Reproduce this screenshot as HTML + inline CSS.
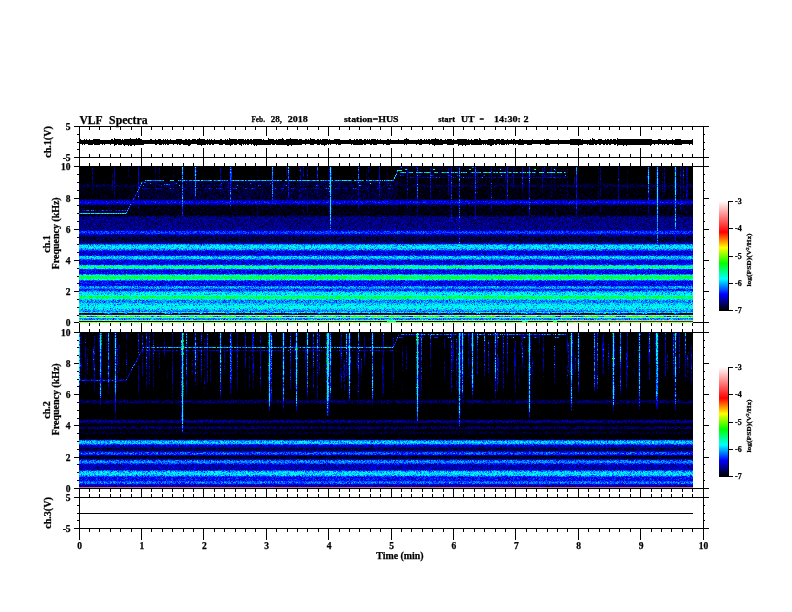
<!DOCTYPE html>
<html lang="en"><head><meta charset="utf-8"><title>VLF Spectra</title>
<style>html,body{margin:0;padding:0;background:#fff}svg{display:block}text{font-family:"Liberation Serif",serif;font-weight:bold;fill:#000;stroke:#000;stroke-width:.25px}</style>
</head><body>
<svg width="792" height="612" viewBox="0 0 792 612">
<defs>
<filter id="f1" filterUnits="userSpaceOnUse" x="79" y="166" width="614" height="157" color-interpolation-filters="sRGB">
<feTurbulence type="fractalNoise" baseFrequency="2.31 2.73" numOctaves="1" seed="3" result="t"/>
<feColorMatrix in="t" type="matrix" values="1 0 0 0 0 1 0 0 0 0 1 0 0 0 0 0 0 0 0 1" result="n0"/>
<feComponentTransfer in="n0" result="n"><feFuncR type="table" tableValues="0 0.027 0.06 0.091 0.122 0.151 0.18 0.208 0.235 0.261 0.286 0.31 0.334 0.357 0.379 0.401 0.422 0.442 0.462 0.481 0.5 0.518 0.536 0.553 0.57 0.586 0.602 0.617 0.633 0.647 0.662 0.676 0.689 0.703 0.716 0.729 0.741 0.753 0.765 0.777 0.788"/><feFuncG type="table" tableValues="0 0.027 0.06 0.091 0.122 0.151 0.18 0.208 0.235 0.261 0.286 0.31 0.334 0.357 0.379 0.401 0.422 0.442 0.462 0.481 0.5 0.518 0.536 0.553 0.57 0.586 0.602 0.617 0.633 0.647 0.662 0.676 0.689 0.703 0.716 0.729 0.741 0.753 0.765 0.777 0.788"/><feFuncB type="table" tableValues="0 0.027 0.06 0.091 0.122 0.151 0.18 0.208 0.235 0.261 0.286 0.31 0.334 0.357 0.379 0.401 0.422 0.442 0.462 0.481 0.5 0.518 0.536 0.553 0.57 0.586 0.602 0.617 0.633 0.647 0.662 0.676 0.689 0.703 0.716 0.729 0.741 0.753 0.765 0.777 0.788"/></feComponentTransfer>
<feComposite in="SourceGraphic" in2="n" operator="arithmetic" k1="0.4857" k2="0.7571" k3="0.1166" k4="-0.05829" result="v"/>
<feComponentTransfer in="v">
<feFuncR type="table" tableValues="0 0 0 0 0 0 1 1 1 1"/>
<feFuncG type="table" tableValues="0 0 0 0 1 1 1 0 .5 1"/>
<feFuncB type="table" tableValues="0 0 0 1 1 0 0 0 .5 1"/>
</feComponentTransfer>
<feGaussianBlur stdDeviation="0.55"/>
</filter>
<filter id="f2" filterUnits="userSpaceOnUse" x="79" y="332" width="614" height="157" color-interpolation-filters="sRGB">
<feTurbulence type="fractalNoise" baseFrequency="2.31 2.73" numOctaves="1" seed="11" result="t"/>
<feColorMatrix in="t" type="matrix" values="1 0 0 0 0 1 0 0 0 0 1 0 0 0 0 0 0 0 0 1" result="n0"/>
<feComponentTransfer in="n0" result="n"><feFuncR type="table" tableValues="0 0.027 0.06 0.091 0.122 0.151 0.18 0.208 0.235 0.261 0.286 0.31 0.334 0.357 0.379 0.401 0.422 0.442 0.462 0.481 0.5 0.518 0.536 0.553 0.57 0.586 0.602 0.617 0.633 0.647 0.662 0.676 0.689 0.703 0.716 0.729 0.741 0.753 0.765 0.777 0.788"/><feFuncG type="table" tableValues="0 0.027 0.06 0.091 0.122 0.151 0.18 0.208 0.235 0.261 0.286 0.31 0.334 0.357 0.379 0.401 0.422 0.442 0.462 0.481 0.5 0.518 0.536 0.553 0.57 0.586 0.602 0.617 0.633 0.647 0.662 0.676 0.689 0.703 0.716 0.729 0.741 0.753 0.765 0.777 0.788"/><feFuncB type="table" tableValues="0 0.027 0.06 0.091 0.122 0.151 0.18 0.208 0.235 0.261 0.286 0.31 0.334 0.357 0.379 0.401 0.422 0.442 0.462 0.481 0.5 0.518 0.536 0.553 0.57 0.586 0.602 0.617 0.633 0.647 0.662 0.676 0.689 0.703 0.716 0.729 0.741 0.753 0.765 0.777 0.788"/></feComponentTransfer>
<feComposite in="SourceGraphic" in2="n" operator="arithmetic" k1="0.4857" k2="0.7571" k3="0.1166" k4="-0.05829" result="v"/>
<feComponentTransfer in="v">
<feFuncR type="table" tableValues="0 0 0 0 0 0 1 1 1 1"/>
<feFuncG type="table" tableValues="0 0 0 0 1 1 1 0 .5 1"/>
<feFuncB type="table" tableValues="0 0 0 1 1 0 0 0 .5 1"/>
</feComponentTransfer>
<feGaussianBlur stdDeviation="0.55"/>
</filter>
<linearGradient id="cb" x1="0" y1="1" x2="0" y2="0">
<stop offset="0.0000" stop-color="#000"/>
<stop offset="0.1429" stop-color="#00f"/>
<stop offset="0.2857" stop-color="#0ff"/>
<stop offset="0.4286" stop-color="#0f0"/>
<stop offset="0.5714" stop-color="#ff0"/>
<stop offset="0.7143" stop-color="#f00"/>
<stop offset="0.8571" stop-color="#ff8080"/>
<stop offset="1.0000" stop-color="#fff"/>
</linearGradient>
</defs>
<rect width="792" height="612" fill="#fff"/>
<rect x="79" y="166" width="614" height="157" fill="#000"/><rect x="79" y="332" width="614" height="157" fill="#000"/>
<g filter="url(#f1)">
<rect x="79" y="166" width="614" height="1" fill="#313131"/>
<rect x="79" y="167" width="614" height="1" fill="#313131"/>
<rect x="79" y="168" width="614" height="1" fill="#313131"/>
<rect x="79" y="169" width="614" height="1" fill="#313131"/>
<rect x="79" y="170" width="614" height="1" fill="#313131"/>
<rect x="79" y="171" width="614" height="1" fill="#313131"/>
<rect x="79" y="172" width="614" height="1" fill="#313131"/>
<rect x="79" y="173" width="614" height="1" fill="#313131"/>
<rect x="79" y="174" width="614" height="1" fill="#313131"/>
<rect x="79" y="175" width="614" height="1" fill="#313131"/>
<rect x="79" y="176" width="614" height="1" fill="#363636"/>
<rect x="79" y="177" width="614" height="1" fill="#363636"/>
<rect x="79" y="178" width="614" height="1" fill="#313131"/>
<rect x="79" y="179" width="614" height="1" fill="#323232"/>
<rect x="79" y="180" width="614" height="1" fill="#323232"/>
<rect x="79" y="181" width="614" height="1" fill="#333333"/>
<rect x="79" y="182" width="614" height="1" fill="#343434"/>
<rect x="79" y="183" width="614" height="1" fill="#393939"/>
<rect x="79" y="184" width="614" height="1" fill="#3d3d3d"/>
<rect x="79" y="185" width="614" height="1" fill="#404040"/>
<rect x="79" y="186" width="614" height="1" fill="#3f3f3f"/>
<rect x="79" y="187" width="614" height="1" fill="#3b3b3b"/>
<rect x="79" y="188" width="614" height="1" fill="#3a3a3a"/>
<rect x="79" y="189" width="614" height="1" fill="#3a3a3a"/>
<rect x="79" y="190" width="614" height="1" fill="#393939"/>
<rect x="79" y="191" width="614" height="1" fill="#393939"/>
<rect x="79" y="192" width="614" height="1" fill="#393939"/>
<rect x="79" y="193" width="614" height="1" fill="#393939"/>
<rect x="79" y="194" width="614" height="1" fill="#393939"/>
<rect x="79" y="195" width="614" height="1" fill="#393939"/>
<rect x="79" y="196" width="614" height="1" fill="#393939"/>
<rect x="79" y="197" width="614" height="1" fill="#393939"/>
<rect x="79" y="198" width="614" height="1" fill="#393939"/>
<rect x="79" y="199" width="614" height="1" fill="#404040"/>
<rect x="79" y="200" width="614" height="1" fill="#4c4c4c"/>
<rect x="79" y="201" width="614" height="1" fill="#515151"/>
<rect x="79" y="202" width="614" height="1" fill="#545454"/>
<rect x="79" y="203" width="614" height="1" fill="#515151"/>
<rect x="79" y="204" width="614" height="1" fill="#484848"/>
<rect x="79" y="205" width="614" height="1" fill="#3e3e3e"/>
<rect x="79" y="206" width="614" height="1" fill="#3a3a3a"/>
<rect x="79" y="207" width="614" height="1" fill="#3a3a3a"/>
<rect x="79" y="208" width="614" height="1" fill="#3a3a3a"/>
<rect x="79" y="209" width="614" height="1" fill="#3a3a3a"/>
<rect x="79" y="210" width="614" height="1" fill="#3a3a3a"/>
<rect x="79" y="211" width="614" height="1" fill="#3a3a3a"/>
<rect x="79" y="212" width="614" height="1" fill="#3a3a3a"/>
<rect x="79" y="213" width="614" height="1" fill="#3a3a3a"/>
<rect x="79" y="214" width="614" height="1" fill="#3a3a3a"/>
<rect x="79" y="215" width="614" height="1" fill="#3d3d3d"/>
<rect x="79" y="216" width="614" height="1" fill="#424242"/>
<rect x="79" y="217" width="614" height="1" fill="#474747"/>
<rect x="79" y="218" width="614" height="1" fill="#474747"/>
<rect x="79" y="219" width="614" height="1" fill="#474747"/>
<rect x="79" y="220" width="614" height="1" fill="#474747"/>
<rect x="79" y="221" width="614" height="1" fill="#474747"/>
<rect x="79" y="222" width="614" height="1" fill="#474747"/>
<rect x="79" y="223" width="614" height="1" fill="#474747"/>
<rect x="79" y="224" width="614" height="1" fill="#474747"/>
<rect x="79" y="225" width="614" height="1" fill="#474747"/>
<rect x="79" y="226" width="614" height="1" fill="#474747"/>
<rect x="79" y="227" width="614" height="1" fill="#474747"/>
<rect x="79" y="228" width="614" height="1" fill="#484848"/>
<rect x="79" y="229" width="614" height="1" fill="#484848"/>
<rect x="79" y="230" width="614" height="1" fill="#4f4f4f"/>
<rect x="79" y="231" width="614" height="1" fill="#595959"/>
<rect x="79" y="232" width="614" height="1" fill="#5b5b5b"/>
<rect x="79" y="233" width="614" height="1" fill="#595959"/>
<rect x="79" y="234" width="614" height="1" fill="#4f4f4f"/>
<rect x="79" y="235" width="614" height="1" fill="#484848"/>
<rect x="79" y="236" width="614" height="1" fill="#434343"/>
<rect x="79" y="237" width="614" height="1" fill="#404040"/>
<rect x="79" y="238" width="614" height="1" fill="#404040"/>
<rect x="79" y="239" width="614" height="1" fill="#404040"/>
<rect x="79" y="240" width="614" height="1" fill="#404040"/>
<rect x="79" y="241" width="614" height="1" fill="#404040"/>
<rect x="79" y="242" width="614" height="1" fill="#454545"/>
<rect x="79" y="243" width="614" height="1" fill="#515151"/>
<rect x="79" y="244" width="614" height="1" fill="#636363"/>
<rect x="79" y="245" width="614" height="1" fill="#6d6d6d"/>
<rect x="79" y="246" width="614" height="1" fill="#6f6f6f"/>
<rect x="79" y="247" width="614" height="1" fill="#6f6f6f"/>
<rect x="79" y="248" width="614" height="1" fill="#6b6b6b"/>
<rect x="79" y="249" width="614" height="1" fill="#656565"/>
<rect x="79" y="250" width="614" height="1" fill="#5b5b5b"/>
<rect x="79" y="251" width="614" height="1" fill="#515151"/>
<rect x="79" y="252" width="614" height="1" fill="#4f4f4f"/>
<rect x="79" y="253" width="614" height="1" fill="#505050"/>
<rect x="79" y="254" width="614" height="1" fill="#515151"/>
<rect x="79" y="255" width="614" height="1" fill="#595959"/>
<rect x="79" y="256" width="614" height="1" fill="#696969"/>
<rect x="79" y="257" width="614" height="1" fill="#6d6d6d"/>
<rect x="79" y="258" width="614" height="1" fill="#6a6a6a"/>
<rect x="79" y="259" width="614" height="1" fill="#5e5e5e"/>
<rect x="79" y="260" width="614" height="1" fill="#545454"/>
<rect x="79" y="261" width="614" height="1" fill="#515151"/>
<rect x="79" y="262" width="614" height="1" fill="#515151"/>
<rect x="79" y="263" width="614" height="1" fill="#515151"/>
<rect x="79" y="264" width="614" height="1" fill="#565656"/>
<rect x="79" y="265" width="614" height="1" fill="#6a6a6a"/>
<rect x="79" y="266" width="614" height="1" fill="#7d7d7d"/>
<rect x="79" y="267" width="614" height="1" fill="#7f7f7f"/>
<rect x="79" y="268" width="614" height="1" fill="#727272"/>
<rect x="79" y="269" width="614" height="1" fill="#5b5b5b"/>
<rect x="79" y="270" width="614" height="1" fill="#545454"/>
<rect x="79" y="271" width="614" height="1" fill="#545454"/>
<rect x="79" y="272" width="614" height="1" fill="#545454"/>
<rect x="79" y="273" width="614" height="1" fill="#545454"/>
<rect x="79" y="274" width="614" height="1" fill="#656565"/>
<rect x="79" y="275" width="614" height="1" fill="#797979"/>
<rect x="79" y="276" width="614" height="1" fill="#858585"/>
<rect x="79" y="277" width="614" height="1" fill="#878787"/>
<rect x="79" y="278" width="614" height="1" fill="#858585"/>
<rect x="79" y="279" width="614" height="1" fill="#747474"/>
<rect x="79" y="280" width="614" height="1" fill="#606060"/>
<rect x="79" y="281" width="614" height="1" fill="#545454"/>
<rect x="79" y="282" width="614" height="1" fill="#545454"/>
<rect x="79" y="283" width="614" height="1" fill="#545454"/>
<rect x="79" y="284" width="614" height="1" fill="#545454"/>
<rect x="79" y="285" width="614" height="1" fill="#545454"/>
<rect x="79" y="286" width="614" height="1" fill="#636363"/>
<rect x="79" y="287" width="614" height="1" fill="#686868"/>
<rect x="79" y="288" width="614" height="1" fill="#636363"/>
<rect x="79" y="289" width="614" height="1" fill="#595959"/>
<rect x="79" y="290" width="614" height="1" fill="#5b5b5b"/>
<rect x="79" y="291" width="614" height="1" fill="#656565"/>
<rect x="79" y="292" width="614" height="1" fill="#6d6d6d"/>
<rect x="79" y="293" width="614" height="1" fill="#6f6f6f"/>
<rect x="79" y="294" width="614" height="1" fill="#6f6f6f"/>
<rect x="79" y="295" width="614" height="1" fill="#747474"/>
<rect x="79" y="296" width="614" height="1" fill="#838383"/>
<rect x="79" y="297" width="614" height="1" fill="#868686"/>
<rect x="79" y="298" width="614" height="1" fill="#818181"/>
<rect x="79" y="299" width="614" height="1" fill="#6d6d6d"/>
<rect x="79" y="300" width="614" height="1" fill="#646464"/>
<rect x="79" y="301" width="614" height="1" fill="#646464"/>
<rect x="79" y="302" width="614" height="1" fill="#646464"/>
<rect x="79" y="303" width="614" height="1" fill="#6a6a6a"/>
<rect x="79" y="304" width="614" height="1" fill="#6d6d6d"/>
<rect x="79" y="305" width="614" height="1" fill="#707070"/>
<rect x="79" y="306" width="614" height="1" fill="#737373"/>
<rect x="79" y="307" width="614" height="1" fill="#727272"/>
<rect x="79" y="308" width="614" height="1" fill="#707070"/>
<rect x="79" y="309" width="614" height="1" fill="#6a6a6a"/>
<rect x="79" y="310" width="614" height="1" fill="#676767"/>
<rect x="79" y="311" width="614" height="1" fill="#636363"/>
<rect x="79" y="312" width="614" height="1" fill="#6f6f6f"/>
<rect x="79" y="313" width="614" height="1" fill="#393939"/>
<rect x="79" y="314" width="614" height="1" fill="#515151"/>
<rect x="79" y="315" width="614" height="1" fill="#999999"/>
<rect x="79" y="316" width="614" height="1" fill="#606060"/>
<rect x="79" y="317" width="614" height="1" fill="#979797"/>
<rect x="79" y="318" width="614" height="1" fill="#656565"/>
<rect x="79" y="319" width="614" height="1" fill="#656565"/>
<rect x="79" y="320" width="614" height="1" fill="#929292"/>
<rect x="79" y="321" width="614" height="1" fill="#1b1b1b"/>
<rect x="79" y="322" width="614" height="1" fill="#979797"/>
<g fill="none" stroke-width="1" shape-rendering="crispEdges" style="mix-blend-mode:lighten"><path d="M128.5 190v1M181.5 206v1M183.5 179v1M183.5 216v1M196.5 178v1M229.5 180v1M229.5 202v1M231.5 199v1M257.5 221v1M288.5 205v1M299.5 211v1M299.5 213v2M299.5 217v1M299.5 219v1M317.5 200v1M331.5 225v1M358.5 214v1M368.5 222v1M413.5 194v1M430.5 209v1M448.5 220v1M459.5 293v1M475.5 233v2M491.5 213v1M491.5 215v1M513.5 203v1M522.5 212v2M522.5 215v1M551.5 198v1M574.5 210v1M598.5 213v1M598.5 216v1M598.5 219v1M600.5 226v1M627.5 204v1M627.5 222v1M647.5 187v1M647.5 195v2M649.5 203v1M649.5 205v1M649.5 207v2M649.5 211v1M656.5 242v1M658.5 243v1M658.5 245v1M658.5 248v1M664.5 195v2M674.5 231v1M676.5 237v1M680.5 211v1M686.5 222v1M686.5 224v1M687.5 206v1" stroke="#2a2a2a"/>
<path d="M114.5 201v1M128.5 183v1M128.5 187v1M128.5 189v1M128.5 191v1M128.5 193v1M128.5 196v1M138.5 213v1M138.5 215v1M181.5 170v1M181.5 179v1M181.5 210v2M181.5 213v1M181.5 222v1M183.5 199v1M183.5 206v2M194.5 177v1M196.5 176v1M228.5 207v4M229.5 176v2M230.5 211v2M231.5 205v1M271.5 170v1M271.5 177v1M271.5 200v1M273.5 170v1M273.5 173v1M273.5 200v1M286.5 199v1M286.5 203v1M286.5 205v2M299.5 174v1M299.5 178v1M299.5 208v1M299.5 210v1M299.5 220v1M303.5 217v3M307.5 220v1M307.5 227v1M317.5 199v1M329.5 220v1M329.5 227v1M329.5 230v1M329.5 234v2M331.5 223v1M331.5 233v1M358.5 213v1M368.5 218v1M368.5 221v1M413.5 186v1M417.5 224v1M430.5 206v1M430.5 208v1M439.5 189v1M439.5 192v1M439.5 195v1M439.5 207v1M439.5 209v1M448.5 210v1M448.5 221v1M451.5 246v1M459.5 288v1M459.5 290v1M498.5 166v1M498.5 187v1M505.5 187v1M505.5 191v1M505.5 200v1M507.5 210v1M507.5 212v1M513.5 194v1M513.5 201v1M522.5 211v1M529.5 230v1M529.5 234v1M542.5 195v2M544.5 189v1M555.5 194v1M555.5 223v1M567.5 203v1M574.5 190v2M574.5 213v1M598.5 211v2M598.5 220v1M600.5 221v3M600.5 225v1M618.5 205v1M627.5 168v1M627.5 170v1M627.5 206v2M627.5 210v1M647.5 184v1M647.5 190v1M647.5 200v1M647.5 207v1M649.5 191v2M649.5 194v1M649.5 197v1M649.5 199v2M656.5 205v1M656.5 237v1M656.5 244v1M658.5 214v1M658.5 247v1M658.5 251v1M662.5 216v2M674.5 232v1M676.5 201v1M676.5 205v2M676.5 230v1M676.5 232v1M686.5 219v2M687.5 209v1M687.5 212v1" stroke="#2f2f2f"/>
<path d="M92.5 191v1M92.5 193v1M112.5 172v1M112.5 194v1M128.5 179v1M128.5 184v2M128.5 188v1M138.5 212v1M159.5 179v1M173.5 179v1M181.5 202v1M181.5 208v1M181.5 212v1M182.5 230v2M183.5 170v1M183.5 177v1M183.5 208v1M183.5 212v1M183.5 215v1M183.5 222v1M194.5 173v1M194.5 178v1M196.5 173v1M228.5 177v1M228.5 203v1M228.5 206v1M229.5 167v2M229.5 170v2M229.5 175v1M229.5 179v1M229.5 201v1M231.5 201v1M257.5 175v1M257.5 218v3M271.5 179v1M273.5 166v1M273.5 178v1M273.5 199v1M286.5 202v1M286.5 204v1M288.5 204v1M299.5 175v1M299.5 177v1M299.5 179v1M299.5 204v1M299.5 207v1M299.5 209v1M300.5 202v2M303.5 214v1M307.5 199v1M307.5 219v1M307.5 222v1M329.5 223v3M331.5 226v1M331.5 229v4M331.5 234v1M339.5 166v2M339.5 169v1M339.5 171v1M339.5 199v1M358.5 211v1M366.5 173v1M368.5 209v1M368.5 213v1M368.5 219v2M387.5 166v2M407.5 211v1M407.5 213v1M413.5 189v1M413.5 193v1M417.5 207v1M417.5 216v1M417.5 218v1M417.5 220v1M417.5 222v1M430.5 199v1M430.5 201v1M430.5 203v1M430.5 207v1M439.5 184v1M439.5 186v1M439.5 188v1M439.5 196v1M439.5 201v1M439.5 203v1M439.5 210v2M448.5 197v1M448.5 202v1M448.5 207v3M448.5 212v1M448.5 214v2M448.5 217v1M451.5 239v1M451.5 242v1M451.5 244v1M459.5 287v1M459.5 291v1M475.5 235v1M477.5 195v2M498.5 188v1M500.5 193v1M505.5 185v1M505.5 188v1M505.5 199v1M507.5 207v1M507.5 211v1M513.5 197v1M513.5 200v1M513.5 202v1M522.5 202v1M522.5 210v1M524.5 185v3M529.5 222v1M529.5 226v1M529.5 229v1M529.5 233v1M529.5 235v1M542.5 194v1M542.5 197v1M544.5 185v2M544.5 190v1M551.5 197v1M555.5 184v1M555.5 186v1M555.5 189v2M555.5 192v1M555.5 205v1M567.5 198v1M574.5 189v1M574.5 194v1M574.5 196v2M574.5 212v1M576.5 218v1M598.5 169v1M598.5 206v2M598.5 209v2M598.5 214v2M598.5 217v1M618.5 204v1M627.5 169v1M627.5 172v1M627.5 177v1M627.5 190v1M627.5 196v2M627.5 200v2M627.5 203v1M627.5 208v1M627.5 213v1M627.5 215v1M627.5 219v3M647.5 168v1M647.5 185v1M647.5 189v1M647.5 192v1M647.5 197v2M647.5 203v1M649.5 168v1M649.5 184v2M649.5 190v1M656.5 210v1M656.5 221v1M656.5 229v1M656.5 231v1M656.5 234v2M656.5 239v1M656.5 241v1M657.5 256v1M658.5 184v1M658.5 237v1M658.5 239v1M658.5 241v2M658.5 244v1M662.5 193v1M662.5 200v1M662.5 207v3M662.5 213v1M662.5 215v1M664.5 194v1M674.5 200v1M674.5 203v1M674.5 206v1M674.5 212v1M674.5 230v1M674.5 235v1M676.5 197v1M676.5 200v1M676.5 202v1M676.5 204v1M676.5 210v1M676.5 231v1M676.5 234v1M680.5 210v1M683.5 211v2M686.5 221v1M686.5 223v1" stroke="#343434"/>
<path d="M92.5 186v1M92.5 192v1M92.5 194v2M112.5 167v1M112.5 169v1M112.5 171v1M112.5 177v1M112.5 191v1M112.5 193v1M112.5 195v1M114.5 197v4M128.5 177v1M128.5 181v2M128.5 195v1M138.5 211v1M155.5 174v1M155.5 176v1M155.5 178v1M159.5 167v1M159.5 172v1M159.5 174v2M173.5 168v2M173.5 171v3M173.5 177v1M181.5 175v1M181.5 177v1M181.5 200v2M181.5 207v1M182.5 225v1M182.5 229v1M182.5 232v1M183.5 166v1M183.5 174v3M183.5 202v1M183.5 205v1M183.5 210v1M194.5 168v1M194.5 179v1M196.5 168v1M196.5 177v1M196.5 179v1M228.5 167v1M228.5 169v5M228.5 176v1M228.5 178v1M228.5 204v2M229.5 173v1M229.5 178v1M230.5 209v2M257.5 171v1M257.5 174v1M257.5 177v3M257.5 201v1M257.5 211v1M257.5 217v1M271.5 166v1M273.5 175v1M273.5 177v1M286.5 177v1M288.5 203v1M299.5 172v2M299.5 201v1M299.5 206v1M303.5 178v1M303.5 215v2M307.5 204v1M307.5 215v1M307.5 218v1M307.5 221v1M329.5 221v2M329.5 231v1M329.5 233v1M331.5 224v1M331.5 227v1M339.5 168v1M339.5 170v1M339.5 172v1M339.5 177v1M339.5 179v1M358.5 209v1M358.5 212v1M366.5 169v1M366.5 171v1M366.5 178v1M368.5 175v1M368.5 178v1M368.5 205v2M368.5 208v1M368.5 210v1M368.5 214v4M379.5 199v1M387.5 168v2M387.5 177v1M396.5 166v1M396.5 169v1M396.5 172v1M396.5 178v1M398.5 167v3M398.5 171v13M399.5 167v3M399.5 171v13M400.5 168v2M400.5 171v1M400.5 173v2M400.5 176v8M401.5 168v2M401.5 171v1M401.5 173v2M401.5 176v8M402.5 167v5M402.5 173v2M402.5 176v8M403.5 167v5M403.5 173v2M403.5 176v8M404.5 167v5M404.5 173v11M405.5 167v2M405.5 170v2M405.5 173v11M406.5 167v2M406.5 170v14M407.5 179v1M407.5 209v2M408.5 167v5M408.5 173v11M409.5 167v5M409.5 173v11M410.5 167v5M410.5 173v4M410.5 178v6M411.5 167v5M411.5 173v4M411.5 178v6M412.5 167v5M412.5 173v4M412.5 178v6M413.5 170v2M413.5 173v1M413.5 175v1M413.5 178v6M413.5 185v1M413.5 187v2M413.5 190v1M413.5 192v1M414.5 167v10M414.5 178v6M415.5 167v10M415.5 178v6M416.5 168v4M416.5 173v4M416.5 178v6M417.5 213v1M417.5 217v1M417.5 219v1M417.5 221v1M418.5 167v5M418.5 173v4M418.5 178v6M419.5 167v5M419.5 173v2M419.5 176v1M419.5 178v6M420.5 167v5M420.5 173v2M420.5 176v1M420.5 178v6M421.5 167v5M421.5 173v4M421.5 178v6M422.5 167v5M422.5 173v4M422.5 178v6M423.5 167v10M423.5 178v6M424.5 167v5M424.5 173v4M424.5 178v6M425.5 167v5M425.5 173v4M425.5 178v6M426.5 167v5M426.5 173v4M426.5 178v6M427.5 167v5M427.5 173v4M427.5 178v6M428.5 167v5M428.5 173v4M428.5 178v6M429.5 167v5M429.5 173v4M429.5 178v6M430.5 193v1M430.5 202v1M430.5 204v1M431.5 167v8M431.5 176v1M431.5 178v6M432.5 167v8M432.5 176v1M432.5 178v6M433.5 167v2M433.5 170v5M433.5 176v1M433.5 178v6M434.5 167v2M434.5 170v2M434.5 173v4M434.5 178v6M435.5 167v5M435.5 173v4M435.5 178v6M436.5 167v5M436.5 173v4M436.5 178v6M437.5 167v5M437.5 173v4M437.5 178v6M438.5 167v17M439.5 169v2M439.5 176v1M439.5 178v1M439.5 180v4M439.5 185v1M439.5 187v1M439.5 190v1M439.5 197v2M439.5 202v1M439.5 204v1M440.5 167v10M440.5 178v6M441.5 167v5M441.5 173v4M441.5 178v6M442.5 167v5M442.5 173v4M442.5 178v6M443.5 167v5M443.5 173v4M443.5 178v6M444.5 167v5M444.5 173v4M444.5 178v6M445.5 167v5M445.5 173v4M445.5 178v6M446.5 167v5M446.5 173v4M446.5 178v6M447.5 167v5M447.5 173v2M447.5 176v1M447.5 178v6M448.5 205v2M448.5 213v1M448.5 216v1M449.5 167v8M449.5 176v1M449.5 178v6M450.5 167v8M450.5 176v1M450.5 178v6M451.5 234v1M451.5 236v1M451.5 238v1M451.5 240v1M452.5 167v5M452.5 173v11M453.5 167v5M453.5 173v4M453.5 178v6M454.5 167v5M454.5 173v11M455.5 167v5M455.5 173v4M455.5 178v6M456.5 168v4M456.5 173v4M456.5 178v6M457.5 168v4M457.5 173v2M457.5 176v1M457.5 178v6M458.5 167v8M458.5 176v8M459.5 280v1M459.5 286v1M459.5 289v1M460.5 167v10M460.5 178v6M461.5 167v5M461.5 173v4M461.5 178v6M462.5 167v5M462.5 173v11M463.5 167v5M463.5 173v4M463.5 178v6M464.5 167v5M464.5 173v4M464.5 178v6M465.5 167v5M465.5 173v4M465.5 178v6M466.5 167v5M466.5 173v4M466.5 178v6M467.5 167v17M468.5 167v10M468.5 178v6M469.5 167v2M469.5 170v7M469.5 178v6M470.5 167v2M470.5 170v2M470.5 173v4M470.5 178v6M471.5 167v5M471.5 173v4M471.5 178v6M472.5 168v4M472.5 173v4M472.5 178v6M473.5 168v4M473.5 173v4M473.5 178v6M474.5 167v5M474.5 173v2M474.5 176v8M475.5 228v5M476.5 167v5M476.5 173v11M477.5 167v1M477.5 194v1M478.5 167v5M478.5 173v4M478.5 178v6M479.5 167v5M479.5 173v11M480.5 167v5M480.5 173v4M480.5 178v6M481.5 167v10M481.5 178v6M482.5 167v10M482.5 178v6M483.5 167v5M483.5 173v2M483.5 176v1M483.5 178v6M484.5 167v5M484.5 173v2M484.5 176v8M485.5 167v5M485.5 173v4M485.5 178v6M486.5 167v5M486.5 173v4M486.5 178v6M487.5 167v5M487.5 173v11M488.5 167v5M488.5 173v4M488.5 178v6M489.5 167v5M489.5 173v4M489.5 178v6M490.5 167v5M490.5 173v4M490.5 178v6M492.5 167v17M493.5 167v5M493.5 173v4M493.5 178v6M494.5 167v5M494.5 173v4M494.5 178v6M495.5 167v5M495.5 173v4M495.5 178v6M496.5 167v5M496.5 173v11M497.5 167v5M497.5 173v11M498.5 167v1M498.5 169v3M498.5 173v1M498.5 175v1M498.5 178v1M498.5 181v2M498.5 185v1M499.5 167v5M499.5 173v4M499.5 178v6M500.5 167v2M500.5 170v2M500.5 173v4M500.5 178v2M500.5 181v3M500.5 191v1M500.5 194v2M501.5 167v5M501.5 173v2M501.5 176v1M501.5 178v6M502.5 167v5M502.5 173v2M502.5 176v1M502.5 178v6M503.5 167v5M503.5 173v11M504.5 167v5M504.5 173v11M505.5 178v1M505.5 182v3M505.5 190v1M505.5 192v1M505.5 196v3M506.5 167v10M506.5 178v6M507.5 208v1M508.5 168v4M508.5 173v4M508.5 178v6M509.5 167v5M509.5 173v4M509.5 178v6M510.5 167v5M510.5 173v4M510.5 178v6M511.5 167v5M511.5 173v4M511.5 178v6M512.5 167v8M512.5 176v8M513.5 189v2M513.5 195v2M513.5 199v1M514.5 167v5M514.5 173v4M514.5 178v6M515.5 167v5M515.5 173v4M515.5 178v6M516.5 167v5M516.5 173v4M516.5 178v6M517.5 167v5M517.5 173v4M517.5 178v6M518.5 167v10M518.5 178v6M519.5 167v5M519.5 173v4M519.5 178v6M520.5 167v5M520.5 173v11M521.5 167v5M521.5 173v4M521.5 178v6M522.5 205v1M522.5 209v1M523.5 167v5M523.5 173v4M523.5 178v6M524.5 166v1M524.5 169v1M524.5 174v3M524.5 180v3M525.5 167v5M525.5 173v4M525.5 178v6M526.5 167v10M526.5 178v6M527.5 167v5M527.5 173v4M527.5 178v6M528.5 167v5M528.5 173v4M528.5 178v6M529.5 224v1M529.5 228v1M530.5 167v5M530.5 173v4M530.5 178v6M531.5 167v8M531.5 176v1M531.5 178v6M532.5 167v5M532.5 173v2M532.5 176v1M532.5 178v6M533.5 167v5M533.5 173v2M533.5 176v1M533.5 178v6M534.5 167v2M534.5 170v2M534.5 173v2M534.5 176v1M534.5 178v6M535.5 167v2M535.5 170v2M535.5 173v4M535.5 178v6M536.5 167v10M536.5 178v6M537.5 167v10M537.5 178v6M538.5 167v10M538.5 178v6M539.5 167v5M539.5 173v4M539.5 178v6M540.5 167v5M540.5 173v4M540.5 178v6M541.5 167v5M541.5 173v11M542.5 176v1M542.5 193v1M543.5 167v5M543.5 173v4M543.5 178v6M544.5 180v1M544.5 187v2M545.5 167v10M545.5 178v6M546.5 167v8M546.5 176v1M546.5 178v6M547.5 167v5M547.5 173v2M547.5 176v1M547.5 178v6M548.5 167v5M548.5 173v4M548.5 178v6M549.5 167v5M549.5 173v4M549.5 178v6M550.5 167v5M550.5 173v4M550.5 178v6M551.5 184v1M551.5 186v1M551.5 189v1M551.5 194v1M552.5 167v5M552.5 173v11M553.5 167v5M553.5 173v4M553.5 178v6M554.5 167v2M554.5 170v2M554.5 173v4M554.5 178v6M555.5 180v2M555.5 185v1M555.5 191v1M555.5 196v2M555.5 199v1M555.5 220v2M556.5 167v10M556.5 178v6M557.5 167v5M557.5 173v4M557.5 178v6M558.5 167v5M558.5 173v4M558.5 178v6M559.5 167v5M559.5 173v4M559.5 178v6M560.5 167v5M560.5 173v4M560.5 178v6M561.5 167v5M561.5 173v11M562.5 167v17M563.5 167v10M563.5 178v6M564.5 167v5M564.5 173v4M564.5 178v6M565.5 167v5M565.5 173v2M565.5 176v1M565.5 178v6M567.5 166v1M567.5 173v1M567.5 178v1M567.5 192v1M567.5 196v1M567.5 200v3M574.5 166v2M574.5 169v1M574.5 187v1M574.5 192v1M574.5 195v1M574.5 199v1M574.5 203v1M574.5 211v1M576.5 217v1M576.5 219v1M598.5 167v1M598.5 170v1M598.5 174v2M598.5 180v1M598.5 183v2M598.5 190v1M598.5 193v1M598.5 198v1M598.5 203v3M598.5 208v1M600.5 174v1M600.5 183v1M600.5 209v1M600.5 214v1M618.5 188v1M627.5 166v1M627.5 174v1M627.5 199v1M627.5 202v1M627.5 205v1M627.5 209v1M627.5 211v2M627.5 216v1M627.5 218v1M647.5 169v1M647.5 171v1M647.5 174v1M647.5 181v3M647.5 186v1M647.5 188v1M647.5 193v1M649.5 167v1M649.5 169v1M649.5 173v1M649.5 175v1M649.5 182v1M649.5 186v2M649.5 189v1M649.5 193v1M649.5 198v1M656.5 171v1M656.5 190v1M656.5 209v1M656.5 220v1M656.5 222v2M656.5 233v1M656.5 236v1M656.5 238v1M656.5 240v1M656.5 247v1M657.5 255v1M658.5 169v1M658.5 205v1M658.5 209v1M658.5 216v1M658.5 218v3M658.5 222v2M658.5 225v1M658.5 229v1M658.5 232v2M658.5 235v2M662.5 166v1M662.5 168v2M662.5 183v1M662.5 185v1M662.5 192v1M662.5 195v1M662.5 197v1M662.5 201v3M662.5 206v1M662.5 211v2M662.5 214v1M664.5 167v1M664.5 192v1M674.5 171v1M674.5 176v1M674.5 195v1M674.5 197v1M674.5 201v1M674.5 204v1M674.5 210v1M674.5 228v2M674.5 233v2M676.5 203v1M676.5 208v1M676.5 212v1M676.5 218v1M676.5 222v1M676.5 226v1M676.5 228v2M676.5 233v1M680.5 170v1M680.5 182v1M680.5 195v1M683.5 195v1M683.5 197v1M683.5 200v1M683.5 203v1M683.5 210v1M686.5 214v1M686.5 217v2M687.5 174v1M687.5 176v1M687.5 201v1M687.5 207v2" stroke="#393939"/>
<path d="M92.5 170v1M92.5 185v1M92.5 187v1M112.5 168v1M112.5 170v1M112.5 173v1M112.5 178v1M112.5 190v1M112.5 192v1M114.5 188v1M114.5 190v1M114.5 202v1M128.5 170v1M128.5 173v4M128.5 178v1M128.5 180v1M128.5 186v1M138.5 210v1M142.5 181v1M142.5 183v5M142.5 189v10M143.5 181v1M143.5 183v2M143.5 186v2M143.5 189v10M144.5 181v1M144.5 183v5M144.5 189v10M145.5 181v1M145.5 183v5M145.5 189v10M146.5 181v7M146.5 189v10M147.5 181v7M147.5 189v10M148.5 181v7M148.5 189v10M149.5 181v18M150.5 181v2M150.5 184v15M151.5 181v18M152.5 181v18M153.5 181v18M154.5 181v18M155.5 173v1M155.5 175v1M155.5 177v1M155.5 181v4M155.5 186v2M155.5 189v10M156.5 181v7M156.5 189v10M157.5 181v7M157.5 189v10M158.5 181v7M158.5 189v10M159.5 171v1M159.5 177v2M159.5 181v7M159.5 189v10M160.5 181v7M160.5 189v10M161.5 181v4M161.5 186v2M161.5 189v10M162.5 181v7M162.5 189v10M163.5 181v18M164.5 181v3M164.5 185v14M165.5 181v3M165.5 185v14M166.5 181v3M166.5 185v14M167.5 181v3M167.5 185v14M168.5 181v3M168.5 185v14M169.5 181v3M169.5 185v3M169.5 189v10M170.5 181v7M170.5 189v10M171.5 181v7M171.5 189v10M172.5 181v7M172.5 189v10M173.5 167v1M173.5 170v1M173.5 174v3M173.5 181v1M173.5 183v1M173.5 186v2M173.5 189v10M174.5 181v2M174.5 184v4M174.5 189v10M175.5 181v2M175.5 184v15M176.5 181v2M176.5 184v15M177.5 181v2M177.5 184v15M178.5 181v18M179.5 181v4M179.5 186v13M180.5 181v4M180.5 186v13M181.5 168v2M181.5 171v1M181.5 174v1M181.5 176v1M181.5 181v10M181.5 192v3M181.5 196v2M181.5 199v1M181.5 203v2M182.5 218v1M182.5 227v1M183.5 169v1M183.5 171v1M183.5 173v1M183.5 181v7M183.5 189v3M183.5 193v5M183.5 200v1M184.5 181v7M184.5 189v10M185.5 181v7M185.5 189v10M186.5 181v2M186.5 184v15M187.5 181v18M188.5 181v18M189.5 181v18M190.5 181v18M191.5 181v18M192.5 181v18M193.5 181v18M194.5 169v1M194.5 176v1M194.5 181v2M194.5 185v1M194.5 187v1M194.5 189v10M196.5 169v1M196.5 172v1M196.5 182v1M196.5 184v2M196.5 187v1M196.5 189v10M197.5 181v7M197.5 189v10M198.5 181v18M199.5 181v18M200.5 181v18M201.5 181v18M202.5 181v4M202.5 186v13M203.5 181v18M204.5 181v18M205.5 181v7M205.5 189v10M206.5 181v7M206.5 189v10M207.5 181v7M207.5 189v10M208.5 181v7M208.5 189v10M209.5 181v7M209.5 189v10M210.5 181v7M210.5 189v10M211.5 181v7M211.5 189v10M212.5 181v7M212.5 189v10M213.5 181v18M214.5 181v18M215.5 181v18M216.5 181v7M216.5 189v10M217.5 181v7M217.5 189v10M218.5 181v7M218.5 189v10M219.5 181v7M219.5 189v10M220.5 187v1M220.5 189v1M220.5 196v3M221.5 181v2M221.5 184v1M221.5 186v2M221.5 189v10M222.5 181v7M222.5 189v10M223.5 181v18M224.5 181v18M225.5 181v18M226.5 181v18M227.5 181v18M228.5 174v1M228.5 179v1M228.5 196v1M228.5 198v1M228.5 200v1M228.5 202v1M229.5 166v1M229.5 181v9M229.5 191v8M231.5 184v1M231.5 187v4M231.5 192v7M232.5 181v18M233.5 181v7M233.5 189v10M234.5 181v7M234.5 189v10M235.5 181v7M235.5 189v10M236.5 181v4M236.5 186v2M236.5 189v10M237.5 181v4M237.5 186v13M238.5 181v18M239.5 181v18M240.5 181v18M241.5 181v18M242.5 181v18M243.5 181v18M244.5 181v18M245.5 181v7M245.5 189v10M246.5 181v7M246.5 189v10M247.5 181v7M247.5 189v10M248.5 181v18M249.5 181v18M250.5 181v2M250.5 184v15M251.5 181v2M251.5 184v4M251.5 189v10M252.5 181v7M252.5 189v10M253.5 181v7M253.5 189v10M254.5 181v7M254.5 189v10M255.5 181v7M255.5 189v10M256.5 181v18M257.5 168v2M257.5 172v2M257.5 176v1M257.5 181v11M257.5 195v2M257.5 198v2M257.5 205v1M257.5 209v1M257.5 213v1M257.5 216v1M258.5 181v4M258.5 186v13M259.5 181v4M259.5 186v2M259.5 189v10M260.5 181v4M260.5 186v2M260.5 189v10M261.5 181v18M262.5 181v7M262.5 189v10M263.5 181v18M264.5 181v18M265.5 181v18M266.5 181v18M267.5 181v18M268.5 181v18M269.5 181v18M270.5 181v2M270.5 184v15M271.5 168v1M271.5 171v1M271.5 181v18M273.5 168v1M273.5 171v1M273.5 176v1M273.5 179v1M273.5 181v7M273.5 190v2M273.5 194v5M274.5 181v7M274.5 189v10M275.5 181v7M275.5 189v10M276.5 181v7M276.5 189v10M277.5 181v18M278.5 181v18M279.5 181v18M280.5 181v18M281.5 181v7M281.5 189v10M282.5 181v7M282.5 189v10M283.5 181v7M283.5 189v10M284.5 181v18M285.5 181v4M285.5 186v13M286.5 173v1M286.5 176v1M286.5 179v1M286.5 181v3M286.5 186v13M287.5 181v18M288.5 191v1M289.5 181v18M290.5 181v7M290.5 189v10M291.5 181v7M291.5 189v10M292.5 181v7M292.5 189v10M293.5 181v7M293.5 189v10M294.5 181v7M294.5 189v10M295.5 181v7M295.5 189v10M296.5 181v18M297.5 181v18M298.5 181v18M299.5 168v1M299.5 171v1M299.5 176v1M299.5 182v7M299.5 198v1M299.5 200v1M299.5 202v2M300.5 172v1M300.5 174v1M300.5 184v1M300.5 186v2M300.5 189v2M300.5 192v1M300.5 199v3M301.5 181v7M301.5 189v10M302.5 181v7M302.5 189v10M303.5 181v1M303.5 184v1M303.5 186v2M303.5 190v8M303.5 199v2M303.5 202v2M303.5 207v3M303.5 212v2M304.5 181v18M305.5 181v7M305.5 189v10M306.5 181v7M306.5 189v10M307.5 166v1M307.5 168v2M307.5 178v1M307.5 184v2M307.5 188v3M307.5 192v1M307.5 194v3M307.5 210v1M307.5 212v1M307.5 216v2M308.5 181v18M309.5 181v18M310.5 181v18M311.5 181v7M311.5 189v10M312.5 181v18M313.5 181v7M313.5 189v10M314.5 181v7M314.5 189v10M315.5 181v7M315.5 189v10M316.5 181v4M316.5 186v2M316.5 189v10M317.5 187v1M317.5 190v2M317.5 193v1M317.5 197v2M318.5 181v7M318.5 189v10M319.5 181v18M320.5 181v18M321.5 181v18M322.5 181v18M323.5 181v18M324.5 181v7M324.5 189v10M325.5 181v7M325.5 189v10M326.5 181v7M326.5 189v10M327.5 181v7M327.5 189v10M328.5 181v7M328.5 189v10M329.5 196v1M329.5 201v1M329.5 216v1M329.5 226v1M329.5 228v1M329.5 232v1M331.5 176v1M331.5 214v1M331.5 218v1M331.5 220v3M331.5 228v1M332.5 181v18M333.5 181v18M334.5 181v4M334.5 186v13M335.5 181v7M335.5 189v10M336.5 181v7M336.5 189v10M337.5 181v7M337.5 189v10M338.5 181v7M338.5 189v10M339.5 173v3M339.5 178v1M339.5 181v2M339.5 185v1M339.5 187v1M339.5 189v10M340.5 181v18M341.5 181v18M342.5 181v18M343.5 181v7M343.5 189v10M344.5 181v7M344.5 189v10M345.5 181v7M345.5 189v10M346.5 181v7M346.5 189v10M347.5 181v7M347.5 189v10M348.5 181v18M349.5 181v18M350.5 181v18M351.5 181v18M352.5 181v7M352.5 189v10M353.5 181v7M353.5 189v10M354.5 181v7M354.5 189v10M355.5 181v7M355.5 189v10M356.5 181v7M356.5 189v10M357.5 181v18M358.5 196v1M358.5 210v1M359.5 181v4M359.5 186v13M360.5 181v4M360.5 186v13M361.5 181v18M362.5 181v18M363.5 181v18M364.5 181v18M365.5 181v18M366.5 167v1M366.5 176v2M366.5 181v1M366.5 183v5M366.5 189v10M367.5 181v7M367.5 189v10M368.5 168v1M368.5 172v1M368.5 176v1M368.5 181v3M368.5 189v1M368.5 197v8M368.5 212v1M369.5 181v7M369.5 189v10M370.5 181v2M370.5 184v15M371.5 181v18M372.5 181v18M373.5 181v18M374.5 181v18M375.5 181v18M376.5 181v18M377.5 181v7M377.5 189v10M378.5 181v7M378.5 189v10M379.5 196v3M380.5 181v7M380.5 189v10M381.5 181v7M381.5 189v10M382.5 181v18M383.5 181v18M384.5 181v18M385.5 181v18M386.5 181v18M387.5 170v2M387.5 174v2M387.5 182v1M387.5 186v2M387.5 189v10M388.5 181v2M388.5 184v4M388.5 189v10M389.5 181v7M389.5 189v10M390.5 181v4M390.5 186v2M390.5 189v10M391.5 181v7M391.5 189v10M392.5 181v7M392.5 189v10M393.5 181v18M394.5 181v18M395.5 181v18M396.5 167v2M396.5 170v1M396.5 175v1M396.5 179v5M396.5 185v14M397.5 181v18M407.5 185v3M407.5 197v1M407.5 203v1M407.5 208v1M413.5 166v1M413.5 168v1M413.5 172v1M413.5 174v1M413.5 176v1M413.5 191v1M417.5 206v1M417.5 212v1M424.5 177v1M430.5 189v1M430.5 194v1M439.5 168v1M439.5 174v2M439.5 191v1M439.5 193v2M439.5 199v2M439.5 205v2M439.5 208v1M441.5 177v1M445.5 177v1M446.5 177v1M448.5 199v2M448.5 203v2M448.5 211v1M451.5 235v1M451.5 241v1M457.5 177v1M459.5 281v1M459.5 284v2M475.5 209v1M477.5 166v1M477.5 169v1M477.5 182v1M477.5 184v1M477.5 186v1M477.5 190v1M477.5 193v1M491.5 176v1M491.5 186v1M491.5 189v1M491.5 211v2M498.5 172v1M498.5 176v1M498.5 179v2M498.5 184v1M498.5 186v1M500.5 185v4M500.5 190v1M500.5 192v1M501.5 177v1M505.5 167v1M505.5 186v1M505.5 193v2M507.5 206v1M513.5 167v1M513.5 188v1M513.5 193v1M513.5 198v1M518.5 177v1M522.5 192v1M522.5 194v1M522.5 197v2M522.5 206v1M522.5 208v1M524.5 167v2M524.5 170v2M524.5 173v1M524.5 178v2M524.5 183v1M529.5 219v1M529.5 225v1M529.5 227v1M529.5 231v1M542.5 167v1M542.5 182v1M544.5 175v1M544.5 178v1M544.5 182v3M551.5 179v1M551.5 182v1M551.5 187v1M551.5 190v4M555.5 167v1M555.5 173v1M555.5 175v1M555.5 183v1M555.5 187v2M555.5 198v1M555.5 203v1M555.5 206v1M555.5 216v1M555.5 218v2M567.5 167v2M567.5 170v1M567.5 174v1M567.5 176v1M567.5 179v1M567.5 188v1M567.5 193v1M567.5 195v1M567.5 199v1M574.5 168v1M574.5 174v2M574.5 188v1M574.5 198v1M574.5 201v2M574.5 208v2M576.5 214v1M576.5 216v1M598.5 171v1M598.5 173v1M598.5 176v1M598.5 179v1M598.5 181v1M598.5 187v3M598.5 194v4M598.5 199v4M600.5 169v1M600.5 173v1M600.5 177v1M600.5 181v1M600.5 185v1M600.5 188v1M600.5 196v3M600.5 208v1M600.5 211v3M600.5 216v3M600.5 220v1M618.5 169v1M618.5 197v1M618.5 201v3M627.5 167v1M627.5 175v2M627.5 178v1M627.5 181v2M627.5 189v1M627.5 191v3M627.5 198v1M627.5 214v1M627.5 217v1M647.5 167v1M647.5 172v1M647.5 175v1M647.5 179v1M648.5 215v2M649.5 171v2M649.5 174v1M649.5 180v2M649.5 188v1M656.5 169v1M656.5 175v1M656.5 177v2M656.5 184v1M656.5 203v1M656.5 207v1M656.5 212v1M656.5 216v1M656.5 225v1M656.5 227v1M656.5 232v1M658.5 175v1M658.5 188v1M658.5 190v1M658.5 210v1M658.5 215v1M658.5 221v1M658.5 224v1M658.5 226v2M658.5 231v1M658.5 240v1M662.5 167v1M662.5 171v2M662.5 175v3M662.5 189v2M662.5 196v1M662.5 198v2M662.5 204v2M662.5 210v1M664.5 170v2M664.5 190v1M664.5 193v1M674.5 192v2M674.5 196v1M674.5 198v2M674.5 202v1M674.5 211v1M674.5 213v6M674.5 220v1M674.5 225v1M674.5 227v1M675.5 242v3M676.5 181v1M676.5 198v2M676.5 215v1M676.5 219v1M676.5 224v1M680.5 184v1M680.5 194v1M680.5 197v1M680.5 205v1M680.5 209v1M683.5 192v1M683.5 202v1M683.5 208v1M686.5 185v1M686.5 206v2M686.5 209v2M686.5 212v1M686.5 215v1M687.5 183v1M687.5 185v2M687.5 188v1M687.5 195v2M687.5 205v1" stroke="#3e3e3e"/>
<path d="M90.5 210v1M92.5 167v1M92.5 171v1M92.5 174v2M92.5 179v3M92.5 183v1M92.5 188v3M112.5 166v1M112.5 174v2M112.5 179v1M112.5 187v2M114.5 175v1M114.5 178v1M114.5 184v1M114.5 195v1M128.5 166v1M128.5 168v2M128.5 171v2M138.5 191v1M138.5 208v2M155.5 166v1M155.5 168v1M155.5 172v1M155.5 179v1M155.5 185v1M159.5 169v2M159.5 173v1M159.5 176v1M173.5 166v1M173.5 178v1M173.5 182v1M173.5 185v1M180.5 185v1M181.5 166v1M181.5 173v1M181.5 191v1M181.5 205v1M182.5 223v1M183.5 168v1M183.5 172v1M183.5 188v1M183.5 192v1M183.5 201v1M183.5 203v2M194.5 183v2M194.5 186v1M196.5 181v1M196.5 183v1M196.5 186v1M220.5 167v1M220.5 178v1M220.5 181v1M220.5 186v1M220.5 190v6M228.5 168v1M228.5 175v1M228.5 181v1M228.5 197v1M228.5 199v1M228.5 201v1M229.5 169v1M229.5 190v1M230.5 206v3M231.5 186v1M231.5 191v1M257.5 166v2M257.5 170v1M257.5 192v3M257.5 197v1M257.5 200v1M257.5 202v3M257.5 206v1M257.5 208v1M257.5 210v1M257.5 214v2M271.5 169v1M271.5 172v1M271.5 176v1M271.5 178v1M272.5 202v3M273.5 169v1M273.5 172v1M273.5 174v1M273.5 189v1M273.5 192v1M286.5 166v1M286.5 178v1M286.5 184v1M288.5 198v2M288.5 202v1M294.5 188v1M299.5 167v1M299.5 169v1M299.5 181v1M299.5 192v1M299.5 194v1M299.5 196v1M299.5 199v1M299.5 205v1M300.5 173v1M300.5 181v2M300.5 188v1M300.5 191v1M300.5 194v1M300.5 197v2M302.5 188v1M303.5 176v2M303.5 179v1M303.5 182v1M303.5 185v1M303.5 189v1M303.5 198v1M303.5 201v1M303.5 206v1M307.5 167v1M307.5 171v1M307.5 186v2M307.5 191v1M307.5 193v1M307.5 198v1M307.5 205v5M307.5 211v1M307.5 213v2M311.5 188v1M317.5 178v1M317.5 189v1M317.5 194v1M317.5 196v1M329.5 166v1M329.5 173v1M329.5 190v1M329.5 203v2M329.5 209v1M329.5 214v1M329.5 217v3M331.5 167v1M331.5 173v1M331.5 196v1M331.5 198v1M331.5 201v1M331.5 206v1M331.5 210v1M331.5 216v1M331.5 219v1M339.5 176v1M339.5 183v2M339.5 186v1M358.5 197v1M358.5 200v1M358.5 206v1M366.5 166v1M366.5 168v1M366.5 170v1M366.5 172v1M366.5 175v1M366.5 182v1M368.5 174v1M368.5 177v1M368.5 179v1M368.5 184v4M368.5 193v1M368.5 195v2M368.5 211v1M379.5 170v1M379.5 181v1M379.5 193v1M379.5 200v1M387.5 172v2M387.5 176v1M387.5 178v2M387.5 181v1M387.5 188v1M391.5 188v1M396.5 171v1M396.5 176v1M396.5 184v1M407.5 168v1M407.5 183v2M407.5 191v1M407.5 194v1M407.5 207v1M413.5 167v1M413.5 169v1M413.5 184v1M415.5 177v1M417.5 200v1M417.5 208v1M417.5 211v1M417.5 214v1M420.5 177v1M421.5 177v1M426.5 177v1M429.5 177v1M430.5 195v2M430.5 198v1M430.5 200v1M430.5 205v1M439.5 166v1M439.5 179v1M447.5 177v1M448.5 167v1M448.5 186v1M448.5 189v1M448.5 192v2M448.5 195v2M448.5 198v1M451.5 199v1M451.5 204v1M451.5 208v2M451.5 219v1M451.5 227v1M451.5 229v3M451.5 233v1M451.5 237v1M456.5 177v1M459.5 263v1M459.5 268v1M459.5 271v1M459.5 276v3M459.5 283v1M469.5 177v1M475.5 211v1M475.5 223v3M475.5 227v1M477.5 168v1M477.5 171v1M477.5 175v1M477.5 177v1M477.5 179v2M477.5 183v1M477.5 185v1M477.5 188v1M477.5 191v1M483.5 177v1M485.5 177v1M490.5 177v1M491.5 166v2M491.5 169v1M491.5 173v1M491.5 180v2M491.5 184v1M491.5 190v2M491.5 193v1M491.5 209v2M498.5 168v1M498.5 174v1M498.5 183v1M500.5 166v1M500.5 180v1M500.5 184v1M500.5 189v1M505.5 166v1M505.5 168v1M505.5 173v2M505.5 176v1M505.5 179v3M506.5 177v1M507.5 202v1M507.5 204v2M507.5 209v1M513.5 169v1M513.5 171v1M513.5 181v1M513.5 183v5M513.5 191v2M515.5 177v1M516.5 177v1M522.5 190v1M522.5 193v1M522.5 195v2M522.5 199v1M522.5 204v1M524.5 184v1M527.5 177v1M528.5 177v1M529.5 217v1M529.5 221v1M529.5 223v1M530.5 177v1M533.5 177v1M537.5 177v1M542.5 169v1M542.5 171v1M542.5 190v3M544.5 174v1M544.5 179v1M544.5 181v1M551.5 178v1M551.5 181v1M551.5 183v1M551.5 185v1M551.5 188v1M551.5 195v2M555.5 174v1M555.5 176v1M555.5 182v1M555.5 193v1M555.5 195v1M555.5 200v3M555.5 204v1M555.5 207v1M555.5 209v4M555.5 214v1M555.5 217v1M567.5 169v1M567.5 171v2M567.5 175v1M567.5 177v1M567.5 180v3M567.5 184v1M567.5 186v2M567.5 189v3M567.5 197v1M574.5 172v2M574.5 176v1M574.5 183v1M574.5 185v2M574.5 193v1M574.5 205v1M574.5 207v1M598.5 166v1M598.5 168v1M598.5 172v1M598.5 178v1M598.5 186v1M598.5 192v1M600.5 170v1M600.5 172v1M600.5 175v1M600.5 184v1M600.5 187v1M600.5 189v1M600.5 191v2M600.5 200v1M600.5 202v1M600.5 206v1M600.5 215v1M600.5 219v1M618.5 173v1M618.5 175v1M618.5 177v1M618.5 181v1M618.5 183v1M618.5 192v1M618.5 195v1M618.5 199v1M627.5 171v1M627.5 173v1M627.5 179v2M627.5 183v3M627.5 188v1M627.5 194v2M647.5 170v1M647.5 180v1M647.5 191v1M648.5 206v1M648.5 212v3M649.5 170v1M649.5 179v1M649.5 183v1M656.5 167v1M656.5 180v1M656.5 186v1M656.5 204v1M656.5 206v1M656.5 215v1M656.5 217v3M656.5 224v1M656.5 226v1M656.5 230v1M657.5 253v2M658.5 167v2M658.5 170v2M658.5 176v3M658.5 180v1M658.5 186v1M658.5 197v2M658.5 202v1M658.5 206v1M658.5 213v1M658.5 228v1M658.5 230v1M658.5 234v1M658.5 238v1M662.5 170v1M662.5 173v2M662.5 178v4M662.5 187v1M664.5 166v1M664.5 169v1M664.5 172v1M664.5 175v1M664.5 188v1M674.5 166v2M674.5 183v1M674.5 205v1M674.5 219v1M674.5 221v2M674.5 224v1M674.5 226v1M675.5 241v1M676.5 176v1M676.5 188v1M676.5 192v2M676.5 195v2M676.5 207v1M676.5 211v1M676.5 213v2M676.5 216v2M676.5 225v1M680.5 177v3M680.5 185v2M680.5 189v1M680.5 191v1M680.5 196v1M680.5 198v1M680.5 202v2M680.5 208v1M683.5 184v2M683.5 189v3M683.5 193v1M683.5 198v2M683.5 201v1M683.5 205v3M683.5 209v1M686.5 169v1M686.5 172v1M686.5 181v2M686.5 184v1M686.5 187v1M686.5 189v1M686.5 202v2M686.5 205v1M686.5 208v1M686.5 211v1M686.5 216v1M687.5 166v1M687.5 171v1M687.5 181v2M687.5 187v1M687.5 189v2M687.5 192v1M687.5 194v1M687.5 197v2M687.5 202v2" stroke="#434343"/>
<path d="M92.5 166v1M92.5 176v2M92.5 182v1M92.5 184v1M98.5 210v1M105.5 210v1M112.5 176v1M112.5 181v1M112.5 183v1M112.5 185v2M112.5 189v1M114.5 169v3M114.5 177v1M114.5 181v1M114.5 183v1M114.5 185v1M114.5 187v1M114.5 189v1M114.5 191v1M114.5 193v2M128.5 167v1M131.5 203v1M132.5 201v1M138.5 168v1M138.5 199v1M138.5 205v1M143.5 188v1M145.5 188v1M155.5 167v1M155.5 169v3M159.5 168v1M159.5 188v1M171.5 188v1M181.5 167v1M181.5 172v1M181.5 178v1M181.5 195v1M181.5 198v1M182.5 219v1M182.5 228v1M183.5 178v1M183.5 198v1M194.5 166v1M194.5 170v3M194.5 175v1M195.5 200v1M196.5 166v1M196.5 175v1M210.5 188v1M212.5 188v1M220.5 169v1M220.5 173v3M228.5 166v1M228.5 180v1M228.5 182v1M228.5 184v3M228.5 189v3M228.5 193v1M228.5 195v1M229.5 172v1M230.5 204v1M231.5 183v1M231.5 185v1M247.5 188v1M257.5 207v1M257.5 212v1M268.5 313v1M271.5 167v1M273.5 167v1M273.5 193v1M286.5 168v3M286.5 172v1M286.5 174v2M288.5 188v1M288.5 200v2M295.5 188v1M299.5 166v1M299.5 170v1M299.5 189v1M299.5 191v1M299.5 193v1M299.5 195v1M299.5 197v1M300.5 175v1M300.5 177v2M300.5 193v1M300.5 195v2M303.5 166v1M303.5 168v6M303.5 183v1M303.5 204v2M303.5 210v2M306.5 188v1M307.5 170v1M307.5 173v1M307.5 176v2M307.5 181v3M307.5 197v1M307.5 200v3M317.5 181v1M317.5 183v2M317.5 192v1M317.5 195v1M327.5 188v1M329.5 179v1M329.5 184v1M329.5 192v1M329.5 194v2M329.5 197v3M329.5 208v1M329.5 212v1M329.5 215v1M331.5 166v1M331.5 170v1M331.5 179v1M331.5 183v1M331.5 187v1M331.5 190v1M331.5 195v1M331.5 197v1M331.5 199v1M331.5 205v1M331.5 207v1M331.5 209v1M331.5 212v2M331.5 217v1M337.5 188v1M339.5 188v1M344.5 188v1M358.5 184v1M358.5 194v1M358.5 202v1M358.5 204v2M358.5 208v1M366.5 174v1M366.5 179v1M366.5 188v1M368.5 166v1M368.5 170v2M368.5 188v1M368.5 190v3M368.5 194v1M368.5 207v1M369.5 188v1M380.5 188v1M387.5 184v1M396.5 177v1M401.5 175v1M407.5 169v1M407.5 182v1M407.5 188v1M407.5 195v2M407.5 200v3M407.5 204v1M411.5 177v1M412.5 177v1M414.5 177v1M416.5 177v1M417.5 174v1M417.5 176v1M417.5 201v1M417.5 204v1M417.5 215v1M422.5 177v1M425.5 177v1M430.5 167v1M430.5 170v1M430.5 184v1M430.5 191v1M433.5 175v1M435.5 177v1M439.5 167v1M439.5 171v3M440.5 177v1M442.5 177v1M443.5 177v1M448.5 166v1M448.5 168v1M448.5 171v1M448.5 188v1M448.5 190v1M448.5 194v1M448.5 201v1M450.5 177v1M451.5 171v1M451.5 179v1M451.5 187v1M451.5 196v1M451.5 211v1M451.5 213v1M451.5 228v1M451.5 232v1M458.5 175v1M459.5 182v1M459.5 223v1M459.5 230v1M459.5 234v1M459.5 258v5M459.5 264v3M459.5 269v1M459.5 272v2M459.5 279v1M459.5 282v1M464.5 177v1M465.5 177v1M466.5 177v1M470.5 177v1M472.5 177v1M473.5 177v1M474.5 175v1M475.5 198v1M475.5 203v2M475.5 207v1M475.5 219v4M475.5 226v1M477.5 173v2M477.5 176v1M477.5 178v1M477.5 187v1M477.5 189v1M478.5 177v1M488.5 177v1M491.5 172v1M491.5 187v1M491.5 192v1M491.5 194v1M491.5 196v1M491.5 199v2M491.5 203v2M491.5 206v1M491.5 208v1M494.5 177v1M505.5 169v3M505.5 175v1M505.5 177v1M505.5 195v1M507.5 170v1M507.5 173v1M507.5 183v1M507.5 197v1M507.5 199v3M507.5 203v1M508.5 167v1M513.5 166v1M513.5 170v1M513.5 173v1M513.5 176v1M513.5 180v1M513.5 182v1M517.5 177v1M521.5 177v1M522.5 176v1M522.5 182v1M522.5 186v2M522.5 191v1M522.5 200v1M522.5 203v1M522.5 207v1M524.5 177v1M525.5 177v1M529.5 194v1M529.5 197v1M529.5 215v2M529.5 218v1M529.5 220v1M531.5 177v1M532.5 177v1M535.5 177v1M535.5 313v1M536.5 177v1M542.5 168v1M542.5 173v1M542.5 179v2M542.5 183v1M542.5 185v1M542.5 187v1M542.5 189v1M544.5 166v1M544.5 168v2M544.5 171v3M544.5 176v2M547.5 175v1M547.5 177v1M551.5 169v1M551.5 174v3M551.5 180v1M555.5 168v1M555.5 171v1M555.5 178v2M555.5 208v1M555.5 213v1M555.5 215v1M557.5 177v1M558.5 177v1M559.5 177v1M563.5 177v1M567.5 183v1M567.5 185v1M567.5 194v1M574.5 171v1M574.5 184v1M574.5 200v1M574.5 204v1M574.5 206v1M576.5 188v1M576.5 199v1M576.5 210v1M576.5 215v1M598.5 177v1M598.5 182v1M598.5 185v1M598.5 191v1M600.5 167v2M600.5 176v1M600.5 178v1M600.5 180v1M600.5 182v1M600.5 190v1M600.5 193v3M600.5 199v1M600.5 201v1M600.5 203v2M600.5 207v1M600.5 313v1M618.5 166v3M618.5 170v3M618.5 176v1M618.5 178v1M618.5 180v1M618.5 182v1M618.5 187v1M618.5 190v2M618.5 194v1M618.5 200v1M627.5 186v2M639.5 313v1M640.5 313v1M647.5 173v1M647.5 177v2M649.5 177v2M656.5 166v1M656.5 168v1M656.5 172v2M656.5 181v1M656.5 185v1M656.5 188v1M656.5 194v2M656.5 197v1M656.5 199v1M656.5 201v2M656.5 211v1M656.5 213v1M657.5 250v1M658.5 172v2M658.5 179v1M658.5 182v1M658.5 185v1M658.5 191v2M658.5 194v1M658.5 201v1M658.5 203v2M658.5 207v1M658.5 211v2M662.5 182v1M662.5 184v1M662.5 186v1M662.5 194v1M664.5 176v1M664.5 179v1M664.5 181v1M664.5 185v3M664.5 191v1M674.5 169v1M674.5 174v2M674.5 181v1M674.5 187v3M674.5 194v1M674.5 209v1M675.5 240v1M676.5 166v4M676.5 171v2M676.5 174v1M676.5 177v2M676.5 191v1M676.5 194v1M676.5 209v1M676.5 220v1M676.5 227v1M680.5 166v1M680.5 168v2M680.5 172v1M680.5 174v1M680.5 181v1M680.5 183v1M680.5 190v1M680.5 192v1M680.5 206v2M683.5 167v2M683.5 170v1M683.5 179v1M683.5 181v2M683.5 187v2M683.5 194v1M686.5 170v1M686.5 173v8M686.5 183v1M686.5 188v1M686.5 190v1M686.5 192v1M686.5 197v4M686.5 204v1M686.5 213v1M687.5 167v1M687.5 169v2M687.5 175v1M687.5 177v2M687.5 193v1M687.5 199v1M687.5 204v1" stroke="#484848"/>
<path d="M81.5 210v1M85.5 210v1M89.5 210v1M92.5 169v1M92.5 172v2M96.5 210v1M100.5 210v1M101.5 210v1M104.5 210v1M110.5 313v1M112.5 182v1M112.5 184v1M113.5 210v1M114.5 168v1M114.5 172v2M114.5 176v1M114.5 179v2M114.5 186v1M114.5 192v1M114.5 196v1M115.5 210v1M121.5 210v1M127.5 211v1M135.5 196v1M138.5 172v2M138.5 177v1M138.5 179v3M138.5 184v1M138.5 194v2M138.5 197v2M138.5 201v1M138.5 203v2M138.5 206v2M140.5 186v1M155.5 188v1M161.5 188v1M162.5 188v1M169.5 188v1M170.5 313v1M172.5 188v1M173.5 184v1M174.5 183v1M174.5 188v1M177.5 183v1M182.5 209v1M182.5 214v1M182.5 216v2M182.5 220v2M182.5 224v1M182.5 226v1M194.5 167v1M194.5 174v1M194.5 188v1M195.5 197v3M196.5 167v1M196.5 170v2M196.5 174v1M196.5 188v1M206.5 188v1M207.5 188v1M211.5 188v1M217.5 188v1M218.5 188v1M220.5 168v1M220.5 176v2M220.5 179v1M220.5 182v2M228.5 183v1M228.5 188v1M228.5 192v1M228.5 194v1M229.5 313v1M230.5 200v1M230.5 203v1M231.5 166v3M231.5 181v2M234.5 313v1M253.5 188v1M255.5 188v1M260.5 188v1M262.5 188v1M271.5 174v1M272.5 201v1M272.5 313v1M273.5 188v1M274.5 188v1M276.5 188v1M286.5 167v1M286.5 171v1M290.5 188v1M292.5 188v1M299.5 190v1M300.5 167v3M300.5 171v1M300.5 176v1M300.5 179v1M301.5 188v1M303.5 175v1M307.5 172v1M307.5 174v1M307.5 179v1M307.5 203v1M313.5 188v1M317.5 179v1M317.5 182v1M317.5 186v1M325.5 188v1M329.5 167v2M329.5 170v1M329.5 172v1M329.5 174v3M329.5 187v1M329.5 193v1M329.5 200v1M329.5 202v1M329.5 205v1M329.5 207v1M329.5 210v1M329.5 213v1M330.5 235v2M331.5 169v1M331.5 184v1M331.5 194v1M331.5 200v1M331.5 202v3M331.5 215v1M338.5 188v1M346.5 188v1M347.5 188v1M352.5 188v1M356.5 188v1M358.5 172v1M358.5 186v3M358.5 190v4M358.5 195v1M358.5 201v1M368.5 167v1M368.5 169v1M368.5 173v1M379.5 166v1M379.5 169v1M379.5 171v3M379.5 177v1M379.5 189v1M379.5 192v1M379.5 195v1M387.5 183v1M390.5 188v1M402.5 175v1M407.5 166v2M407.5 174v1M407.5 176v1M407.5 180v2M407.5 192v2M407.5 198v2M407.5 206v1M413.5 177v1M417.5 169v1M417.5 178v1M417.5 191v1M417.5 202v2M417.5 205v1M417.5 209v1M418.5 177v1M419.5 177v1M427.5 177v1M430.5 166v1M430.5 176v1M430.5 183v1M430.5 186v1M430.5 188v1M430.5 190v1M430.5 192v1M430.5 197v1M431.5 177v1M432.5 177v1M433.5 177v1M444.5 177v1M448.5 170v1M448.5 173v2M448.5 176v1M448.5 181v4M448.5 187v1M448.5 191v1M449.5 177v1M451.5 169v1M451.5 174v1M451.5 184v1M451.5 186v1M451.5 190v2M451.5 202v1M451.5 205v1M451.5 207v1M451.5 214v1M451.5 216v1M451.5 218v1M451.5 222v1M451.5 224v1M451.5 226v1M455.5 177v1M457.5 167v1M459.5 186v2M459.5 190v1M459.5 197v1M459.5 220v1M459.5 224v3M459.5 231v1M459.5 233v1M459.5 235v1M459.5 241v1M459.5 251v1M459.5 254v2M459.5 257v1M459.5 267v1M459.5 270v1M459.5 274v2M460.5 177v1M471.5 177v1M475.5 193v2M475.5 196v2M475.5 202v1M475.5 206v1M475.5 208v1M475.5 212v2M475.5 216v2M477.5 170v1M477.5 181v1M477.5 192v1M481.5 177v1M486.5 177v1M491.5 168v1M491.5 170v1M491.5 174v2M491.5 178v2M491.5 182v1M491.5 205v1M491.5 207v1M498.5 177v1M499.5 177v1M502.5 175v1M507.5 196v1M507.5 198v1M508.5 177v1M509.5 177v1M510.5 177v1M511.5 177v1M513.5 174v1M513.5 177v3M514.5 177v1M515.5 313v1M519.5 177v1M522.5 167v1M522.5 179v1M522.5 181v1M522.5 184v1M522.5 188v2M522.5 201v1M523.5 313v1M526.5 177v1M529.5 188v1M529.5 190v1M529.5 193v1M529.5 196v1M529.5 212v1M529.5 214v1M532.5 175v1M533.5 175v1M534.5 175v1M534.5 177v1M539.5 177v1M540.5 177v1M542.5 166v1M542.5 170v1M542.5 174v1M542.5 177v1M542.5 181v1M542.5 186v1M542.5 188v1M545.5 177v1M545.5 313v1M546.5 175v1M546.5 177v1M548.5 177v1M549.5 177v1M551.5 166v2M551.5 170v2M551.5 173v1M551.5 177v1M555.5 166v1M555.5 169v1M555.5 172v1M555.5 177v1M574.5 170v1M574.5 179v4M576.5 183v1M576.5 194v1M576.5 211v3M600.5 166v1M600.5 171v1M600.5 179v1M600.5 186v1M600.5 205v1M600.5 210v1M612.5 313v1M618.5 174v1M618.5 184v1M618.5 189v1M618.5 193v1M618.5 196v1M627.5 313v1M644.5 313v1M648.5 205v1M648.5 209v3M648.5 313v1M649.5 176v1M656.5 170v1M656.5 174v1M656.5 176v1M656.5 179v1M656.5 182v2M656.5 187v1M656.5 192v1M656.5 196v1M656.5 198v1M656.5 208v1M656.5 228v1M657.5 245v2M657.5 252v1M658.5 166v1M658.5 174v1M658.5 181v1M658.5 183v1M658.5 195v1M658.5 200v1M658.5 217v1M658.5 313v1M662.5 188v1M662.5 191v1M664.5 168v1M664.5 173v2M664.5 178v1M664.5 180v1M664.5 184v1M664.5 189v1M674.5 168v1M674.5 170v1M674.5 172v1M674.5 177v2M674.5 185v1M674.5 190v2M674.5 207v1M674.5 223v1M675.5 236v1M675.5 238v2M676.5 170v1M676.5 186v2M676.5 189v1M676.5 221v1M676.5 223v1M679.5 313v1M680.5 167v1M680.5 171v1M680.5 173v1M680.5 175v2M680.5 180v1M680.5 187v2M680.5 193v1M680.5 200v2M683.5 166v1M683.5 169v1M683.5 172v2M683.5 176v1M683.5 183v1M683.5 186v1M683.5 196v1M683.5 204v1M686.5 166v3M686.5 171v1M686.5 186v1M686.5 191v1M686.5 194v1M686.5 201v1M687.5 168v1M687.5 172v2M687.5 179v2M687.5 191v1M687.5 200v1" stroke="#4c4c4c"/>
<path d="M92.5 168v1M92.5 178v1M99.5 210v1M110.5 210v1M111.5 313v1M112.5 180v1M114.5 167v1M114.5 174v1M120.5 210v1M126.5 213v1M131.5 202v1M134.5 198v1M138.5 167v1M138.5 169v2M138.5 174v3M138.5 185v1M138.5 188v1M138.5 192v2M138.5 200v1M141.5 184v1M143.5 182v1M144.5 188v1M147.5 188v1M148.5 188v1M157.5 188v1M158.5 188v1M160.5 188v1M164.5 313v1M172.5 313v1M180.5 313v1M182.5 179v1M182.5 211v1M182.5 213v1M182.5 215v1M183.5 167v1M185.5 188v1M199.5 313v1M202.5 313v1M205.5 188v1M208.5 188v1M220.5 170v3M220.5 184v1M221.5 185v1M221.5 188v1M228.5 187v1M230.5 174v1M230.5 181v1M230.5 184v2M230.5 187v1M230.5 189v1M230.5 202v1M231.5 170v1M231.5 175v1M233.5 188v1M233.5 313v1M234.5 188v1M236.5 185v1M254.5 188v1M259.5 188v1M270.5 313v1M281.5 188v1M287.5 180v1M288.5 182v1M288.5 184v1M288.5 186v1M288.5 190v1M288.5 192v6M291.5 313v1M295.5 313v1M296.5 313v1M300.5 166v1M300.5 183v1M303.5 174v1M303.5 188v1M307.5 175v1M314.5 188v1M316.5 188v1M317.5 172v2M317.5 176v1M317.5 188v1M317.5 313v1M321.5 313v1M324.5 188v1M329.5 169v1M329.5 171v1M329.5 182v1M329.5 189v1M329.5 206v1M329.5 211v1M331.5 168v1M331.5 172v1M331.5 175v1M331.5 181v2M331.5 188v2M331.5 191v2M334.5 185v1M336.5 188v1M343.5 188v1M345.5 188v1M354.5 188v1M358.5 198v1M358.5 203v1M358.5 207v1M379.5 167v2M379.5 174v1M379.5 176v1M379.5 184v1M379.5 186v3M379.5 190v2M379.5 194v1M381.5 188v1M387.5 185v1M392.5 188v1M401.5 313v1M402.5 313v1M403.5 175v1M407.5 170v2M407.5 173v1M407.5 178v1M407.5 189v2M417.5 166v2M417.5 171v1M417.5 177v1M417.5 180v2M417.5 185v1M417.5 198v2M417.5 210v1M420.5 175v1M423.5 177v1M428.5 177v1M430.5 168v2M430.5 171v1M430.5 173v2M430.5 178v2M430.5 181v2M430.5 185v1M430.5 187v1M434.5 177v1M437.5 177v1M447.5 175v1M448.5 169v1M448.5 177v4M448.5 185v1M451.5 167v1M451.5 170v1M451.5 173v1M451.5 177v2M451.5 181v1M451.5 192v1M451.5 201v1M451.5 206v1M451.5 210v1M451.5 212v1M451.5 215v1M451.5 221v1M451.5 223v1M451.5 225v1M459.5 177v1M459.5 189v1M459.5 198v1M459.5 215v1M459.5 219v1M459.5 227v1M459.5 229v1M459.5 232v1M459.5 236v1M459.5 238v3M459.5 244v1M459.5 249v1M459.5 252v2M459.5 256v1M461.5 177v1M475.5 176v1M475.5 179v1M475.5 185v1M475.5 188v2M475.5 191v1M475.5 195v1M475.5 199v3M475.5 205v1M475.5 214v2M480.5 177v1M483.5 175v1M489.5 177v1M491.5 177v1M491.5 185v1M491.5 188v1M491.5 198v1M493.5 177v1M500.5 177v1M507.5 166v1M507.5 168v2M507.5 176v1M507.5 178v2M507.5 181v1M507.5 184v1M507.5 187v3M507.5 192v1M507.5 194v1M513.5 168v1M513.5 313v1M522.5 173v2M522.5 185v1M523.5 177v1M528.5 313v1M529.5 166v1M529.5 181v1M529.5 184v4M529.5 189v1M529.5 192v1M529.5 195v1M529.5 200v2M529.5 205v1M529.5 209v1M529.5 211v1M529.5 213v1M531.5 175v1M533.5 313v1M538.5 177v1M542.5 175v1M542.5 178v1M542.5 184v1M544.5 167v1M544.5 170v1M555.5 170v1M556.5 177v1M560.5 177v1M564.5 177v1M574.5 177v2M576.5 184v1M576.5 186v2M576.5 189v4M576.5 196v1M576.5 198v1M576.5 200v2M576.5 205v2M576.5 209v1M576.5 313v1M577.5 313v1M578.5 313v1M580.5 313v1M602.5 313v1M618.5 186v1M618.5 198v1M620.5 313v1M625.5 313v1M637.5 313v1M648.5 195v1M648.5 201v4M648.5 207v2M656.5 191v1M656.5 200v1M657.5 248v2M657.5 251v1M657.5 313v1M658.5 187v1M658.5 189v1M658.5 193v1M658.5 196v1M658.5 199v1M658.5 208v1M659.5 313v1M664.5 177v1M664.5 182v2M674.5 173v1M674.5 180v1M674.5 184v1M675.5 235v1M675.5 237v1M676.5 173v1M676.5 175v1M676.5 180v1M676.5 182v2M676.5 185v1M680.5 199v1M680.5 204v1M683.5 171v1M683.5 178v1M683.5 180v1M686.5 195v1M687.5 184v1" stroke="#515151"/>
<path d="M82.5 210v1M83.5 210v1M84.5 210v1M92.5 210v1M95.5 210v1M103.5 210v1M105.5 313v1M109.5 210v1M114.5 166v1M114.5 182v1M118.5 210v1M123.5 210v1M128.5 209v1M129.5 207v1M130.5 205v1M133.5 199v1M136.5 193v2M137.5 192v1M138.5 171v1M138.5 178v1M138.5 182v2M138.5 186v2M138.5 190v1M138.5 202v1M142.5 188v1M146.5 188v1M156.5 188v1M159.5 166v1M165.5 184v1M173.5 188v1M182.5 194v1M182.5 206v2M197.5 188v1M202.5 185v1M216.5 188v1M219.5 188v1M220.5 166v1M220.5 185v1M220.5 188v1M222.5 188v1M230.5 183v1M230.5 188v1M230.5 194v3M230.5 199v1M230.5 205v1M231.5 171v1M231.5 174v1M231.5 176v1M231.5 178v2M235.5 188v1M236.5 188v1M245.5 188v1M246.5 188v1M251.5 183v1M251.5 188v1M258.5 185v1M260.5 185v1M269.5 313v1M272.5 194v1M272.5 196v2M272.5 200v1M275.5 188v1M282.5 188v1M283.5 188v1M288.5 169v1M288.5 175v2M288.5 181v1M288.5 183v1M288.5 189v1M289.5 313v1M290.5 313v1M291.5 188v1M293.5 188v1M294.5 313v1M300.5 170v1M300.5 185v1M303.5 167v1M305.5 188v1M315.5 188v1M317.5 166v1M317.5 174v2M317.5 185v1M318.5 188v1M320.5 313v1M329.5 177v2M329.5 181v1M330.5 227v1M330.5 229v2M331.5 178v1M331.5 193v1M331.5 208v1M331.5 211v1M358.5 170v2M358.5 173v1M358.5 178v2M358.5 181v1M358.5 183v1M358.5 185v1M358.5 189v1M358.5 199v1M367.5 188v1M368.5 313v1M377.5 188v1M378.5 188v1M379.5 175v1M379.5 179v1M379.5 182v2M379.5 185v1M388.5 188v1M397.5 172v1M400.5 167v1M407.5 172v1M407.5 175v1M407.5 177v1M407.5 205v1M417.5 170v1M417.5 173v1M417.5 179v1M417.5 182v2M417.5 189v1M417.5 193v2M417.5 196v2M430.5 180v1M439.5 177v1M447.5 313v1M448.5 175v1M448.5 313v1M450.5 175v1M450.5 313v1M451.5 166v1M451.5 168v1M451.5 175v1M451.5 180v1M451.5 183v1M451.5 185v1M451.5 188v2M451.5 194v1M451.5 197v1M451.5 203v1M451.5 217v1M451.5 220v1M453.5 177v1M459.5 184v1M459.5 188v1M459.5 191v2M459.5 194v3M459.5 201v1M459.5 203v1M459.5 205v1M459.5 209v1M459.5 213v1M459.5 218v1M459.5 221v2M459.5 237v1M459.5 245v4M459.5 250v1M475.5 167v2M475.5 171v4M475.5 182v2M475.5 187v1M475.5 190v1M475.5 210v1M475.5 218v1M478.5 313v1M491.5 171v1M491.5 183v1M491.5 197v1M491.5 201v2M502.5 177v1M507.5 171v1M507.5 175v1M507.5 177v1M507.5 185v2M507.5 191v1M507.5 193v1M507.5 195v1M512.5 175v1M513.5 175v1M522.5 166v1M522.5 169v1M522.5 175v1M522.5 178v1M522.5 180v1M522.5 183v1M522.5 313v1M529.5 177v1M529.5 179v1M529.5 182v1M529.5 191v1M529.5 199v1M529.5 202v1M529.5 204v1M529.5 208v1M529.5 210v1M534.5 313v1M541.5 313v1M543.5 177v1M548.5 313v1M550.5 177v1M551.5 168v1M553.5 177v1M565.5 177v1M576.5 175v2M576.5 178v4M576.5 185v1M576.5 193v1M576.5 197v1M576.5 204v1M576.5 208v1M598.5 313v1M610.5 313v1M618.5 179v1M618.5 185v1M621.5 313v1M622.5 313v1M624.5 313v1M641.5 313v1M647.5 176v1M648.5 166v1M648.5 194v1M648.5 196v2M648.5 199v2M656.5 193v1M657.5 243v1M657.5 247v1M674.5 179v1M674.5 182v1M674.5 186v1M676.5 179v1M676.5 184v1M676.5 190v1M676.5 313v1M678.5 313v1M683.5 174v2M683.5 177v1M686.5 193v1M686.5 196v1" stroke="#565656"/>
<path d="M79.5 210v1M86.5 210v1M87.5 210v1M104.5 313v1M106.5 313v1M107.5 210v1M111.5 210v1M116.5 210v1M122.5 210v1M124.5 210v1M124.5 313v1M125.5 210v1M132.5 200v1M141.5 182v1M142.5 182v1M144.5 182v1M146.5 180v1M161.5 185v1M167.5 313v1M175.5 183v1M176.5 183v1M178.5 313v1M182.5 182v1M182.5 185v1M182.5 187v2M182.5 190v1M182.5 199v1M182.5 212v1M182.5 222v1M188.5 180v1M195.5 173v1M195.5 178v1M195.5 187v1M195.5 190v1M195.5 193v1M195.5 196v1M203.5 180v1M209.5 188v1M213.5 180v1M225.5 180v1M228.5 313v1M230.5 167v1M230.5 171v1M230.5 173v1M230.5 175v1M230.5 177v1M230.5 179v1M230.5 186v1M230.5 191v1M231.5 169v1M231.5 172v2M231.5 177v1M235.5 313v1M246.5 180v1M247.5 180v1M252.5 188v1M254.5 313v1M259.5 185v1M270.5 183v1M271.5 313v1M272.5 173v1M272.5 181v2M272.5 186v1M272.5 199v1M276.5 180v1M288.5 166v1M288.5 168v1M288.5 173v2M288.5 177v3M288.5 187v1M301.5 180v1M310.5 180v1M317.5 167v2M317.5 170v2M317.5 177v1M324.5 180v1M326.5 188v1M329.5 185v1M329.5 188v1M330.5 225v1M330.5 232v3M331.5 171v1M331.5 174v1M331.5 177v1M331.5 186v1M335.5 188v1M351.5 313v1M353.5 188v1M355.5 188v1M358.5 166v1M358.5 168v1M358.5 175v2M372.5 180v1M379.5 178v1M388.5 183v1M389.5 188v1M393.5 179v2M396.5 173v1M400.5 175v1M410.5 177v1M417.5 168v1M417.5 175v1M417.5 186v2M417.5 192v1M417.5 195v1M419.5 175v1M429.5 313v1M430.5 175v1M430.5 177v1M430.5 313v1M431.5 175v1M432.5 175v1M436.5 177v1M437.5 313v1M438.5 313v1M439.5 313v1M440.5 313v1M449.5 175v1M451.5 176v1M451.5 182v1M451.5 193v1M451.5 195v1M451.5 198v1M451.5 200v1M457.5 175v1M459.5 166v2M459.5 170v1M459.5 174v1M459.5 178v1M459.5 180v2M459.5 183v1M459.5 185v1M459.5 193v1M459.5 199v2M459.5 204v1M459.5 211v2M459.5 214v1M459.5 216v1M468.5 177v1M473.5 167v1M475.5 175v1M475.5 177v2M475.5 184v1M475.5 186v1M475.5 192v1M491.5 195v1M495.5 177v1M507.5 180v1M507.5 190v1M511.5 313v1M519.5 172v1M522.5 168v1M522.5 170v1M522.5 177v1M525.5 313v1M529.5 167v1M529.5 169v1M529.5 174v1M529.5 176v1M529.5 183v1M529.5 198v1M529.5 203v1M529.5 206v1M529.5 313v1M531.5 313v1M532.5 313v1M543.5 313v1M544.5 313v1M547.5 313v1M554.5 177v1M562.5 313v1M563.5 313v1M576.5 172v1M576.5 177v1M576.5 182v1M576.5 195v1M576.5 202v2M623.5 313v1M626.5 313v1M636.5 313v1M638.5 313v1M647.5 313v1M648.5 184v1M648.5 189v2M648.5 192v2M649.5 313v1M656.5 189v1M656.5 313v1M657.5 214v1M657.5 239v1M657.5 244v1M675.5 201v1M675.5 231v2" stroke="#5b5b5b"/>
<path d="M88.5 210v1M91.5 210v1M93.5 210v1M102.5 210v1M106.5 210v1M107.5 313v1M109.5 313v1M119.5 210v1M125.5 313v1M134.5 197v1M135.5 195v1M138.5 166v1M138.5 189v1M138.5 196v1M145.5 182v1M150.5 183v1M151.5 180v1M152.5 180v1M153.5 180v1M154.5 180v1M164.5 184v1M166.5 184v1M169.5 184v1M170.5 188v1M179.5 180v1M181.5 313v1M182.5 170v1M182.5 177v1M182.5 181v1M182.5 183v2M182.5 186v1M182.5 191v1M182.5 193v1M182.5 196v1M182.5 200v1M182.5 202v1M182.5 208v1M182.5 210v1M184.5 188v1M186.5 183v1M192.5 180v1M193.5 180v1M195.5 169v1M195.5 176v2M195.5 179v1M195.5 183v1M195.5 189v1M195.5 192v1M195.5 194v2M215.5 180v1M216.5 180v1M221.5 183v1M224.5 180v1M226.5 313v1M230.5 168v1M230.5 176v1M230.5 182v1M230.5 192v2M230.5 197v1M230.5 201v1M231.5 180v1M239.5 180v1M256.5 180v1M260.5 180v1M267.5 313v1M272.5 166v1M272.5 170v1M272.5 175v1M272.5 177v1M272.5 183v2M272.5 190v1M272.5 195v1M272.5 198v1M278.5 180v1M279.5 180v1M284.5 180v1M285.5 185v1M286.5 185v1M288.5 171v2M288.5 185v1M290.5 180v1M293.5 313v1M297.5 313v1M304.5 180v1M316.5 185v1M322.5 180v1M326.5 180v1M327.5 180v1M328.5 188v1M329.5 186v1M329.5 191v1M330.5 223v1M330.5 228v1M330.5 231v1M331.5 185v1M334.5 180v1M341.5 180v1M347.5 180v1M351.5 180v1M356.5 180v1M358.5 167v1M358.5 169v1M358.5 174v1M358.5 177v1M358.5 180v1M358.5 182v1M360.5 185v1M361.5 180v1M367.5 180v1M369.5 313v1M378.5 180v1M381.5 180v1M390.5 185v1M391.5 313v1M392.5 180v1M392.5 313v1M397.5 171v1M401.5 167v1M401.5 172v1M408.5 172v1M416.5 167v1M417.5 188v1M422.5 172v1M431.5 313v1M441.5 172v1M449.5 313v1M452.5 172v1M452.5 313v1M454.5 172v1M456.5 167v1M459.5 168v2M459.5 171v1M459.5 176v1M459.5 208v1M459.5 210v1M459.5 228v1M459.5 243v1M465.5 172v1M472.5 167v1M474.5 172v1M475.5 166v1M475.5 169v1M475.5 181v1M476.5 313v1M477.5 313v1M484.5 175v1M507.5 167v1M507.5 174v1M507.5 182v1M522.5 172v1M524.5 313v1M529.5 168v1M529.5 170v2M529.5 173v1M529.5 175v1M529.5 180v1M529.5 207v1M530.5 172v1M530.5 313v1M542.5 313v1M561.5 313v1M575.5 313v1M576.5 167v1M576.5 170v1M576.5 174v1M576.5 207v1M596.5 313v1M599.5 313v1M601.5 313v1M604.5 313v1M609.5 313v1M611.5 313v1M617.5 313v1M618.5 313v1M635.5 313v1M642.5 313v1M648.5 167v3M648.5 182v1M648.5 185v1M648.5 187v1M648.5 198v1M657.5 219v1M657.5 231v1M657.5 233v2M657.5 237v2M657.5 241v2M674.5 313v1M675.5 200v1M675.5 203v4M675.5 208v1M675.5 210v1M675.5 212v1M675.5 233v2" stroke="#606060"/>
<path d="M126.5 313v1M128.5 208v1M129.5 206v1M130.5 204v1M133.5 198v1M137.5 191v1M139.5 188v1M140.5 185v1M143.5 185v1M159.5 180v1M160.5 180v1M162.5 180v1M163.5 180v1M167.5 184v1M168.5 184v1M169.5 313v1M182.5 166v1M182.5 174v3M182.5 178v1M182.5 189v1M182.5 201v1M182.5 203v3M185.5 180v1M187.5 180v1M189.5 180v1M191.5 180v1M195.5 168v1M195.5 180v1M195.5 185v1M195.5 188v1M195.5 191v1M201.5 313v1M205.5 180v1M206.5 180v1M208.5 180v1M211.5 180v1M214.5 180v1M217.5 180v1M221.5 180v1M222.5 180v1M223.5 180v1M226.5 180v1M227.5 313v1M230.5 169v2M230.5 178v1M230.5 198v1M232.5 180v1M234.5 180v1M236.5 180v1M237.5 185v1M240.5 180v1M249.5 180v1M250.5 183v1M252.5 180v1M253.5 180v1M253.5 313v1M255.5 180v1M257.5 180v1M258.5 180v1M259.5 180v1M261.5 180v1M264.5 180v1M266.5 180v1M267.5 180v1M270.5 180v1M272.5 168v1M272.5 171v1M272.5 179v1M272.5 185v1M272.5 187v3M272.5 191v2M274.5 180v1M280.5 180v1M281.5 180v1M288.5 170v1M292.5 313v1M293.5 180v1M294.5 180v1M295.5 180v1M303.5 180v1M305.5 180v1M306.5 180v1M309.5 180v1M311.5 180v1M314.5 180v1M315.5 180v1M316.5 180v1M318.5 313v1M330.5 220v2M330.5 224v1M330.5 226v1M335.5 180v1M350.5 313v1M357.5 180v1M359.5 180v1M363.5 180v1M368.5 180v1M374.5 180v1M375.5 180v1M376.5 180v1M379.5 180v1M385.5 180v1M386.5 180v1M387.5 180v1M389.5 180v1M390.5 180v1M395.5 175v2M395.5 321v1M400.5 172v1M411.5 172v1M417.5 190v1M430.5 172v1M444.5 172v1M451.5 313v1M453.5 172v1M459.5 172v2M459.5 175v1M459.5 202v1M459.5 206v2M459.5 217v1M459.5 242v1M463.5 177v1M464.5 172v1M470.5 172v1M471.5 172v1M475.5 170v1M475.5 180v1M477.5 172v1M482.5 177v1M488.5 172v1M493.5 172v1M501.5 172v1M501.5 175v1M503.5 172v1M512.5 313v1M513.5 172v1M522.5 171v1M523.5 321v1M529.5 178v1M535.5 172v1M546.5 313v1M549.5 313v1M559.5 172v1M565.5 172v1M565.5 175v1M576.5 166v1M576.5 169v1M576.5 171v1M576.5 173v1M595.5 313v1M597.5 313v1M603.5 313v1M608.5 313v1M619.5 313v1M645.5 313v1M648.5 170v2M648.5 186v1M648.5 188v1M648.5 191v1M657.5 177v1M657.5 184v1M657.5 203v1M657.5 205v1M657.5 209v2M657.5 212v1M657.5 216v1M657.5 218v1M657.5 220v1M657.5 222v4M657.5 229v1M657.5 232v1M657.5 235v2M675.5 171v1M675.5 195v1M675.5 198v1M675.5 202v1M675.5 207v1M675.5 211v1M675.5 222v1M675.5 228v3" stroke="#656565"/>
<path d="M82.5 213v1M86.5 213v1M90.5 213v1M96.5 213v1M97.5 213v1M100.5 213v1M101.5 213v1M106.5 213v1M108.5 213v1M108.5 313v1M110.5 213v1M112.5 213v1M116.5 213v1M121.5 213v1M127.5 210v1M139.5 187v1M145.5 180v1M147.5 180v1M149.5 180v1M157.5 180v1M158.5 180v1M161.5 180v1M165.5 313v1M166.5 313v1M168.5 313v1M171.5 313v1M179.5 313v1M180.5 180v1M181.5 180v1M182.5 168v2M182.5 171v1M182.5 173v1M182.5 180v1M182.5 192v1M182.5 195v1M182.5 197v1M183.5 180v1M186.5 180v1M190.5 180v1M195.5 172v1M195.5 181v2M195.5 184v1M195.5 186v1M196.5 180v1M197.5 180v1M198.5 180v1M200.5 313v1M201.5 180v1M207.5 180v1M210.5 180v1M218.5 180v1M230.5 166v1M230.5 172v1M230.5 180v1M230.5 190v1M237.5 180v1M241.5 180v1M242.5 180v1M243.5 180v1M248.5 180v1M251.5 180v1M262.5 180v1M263.5 180v1M268.5 180v1M269.5 180v1M271.5 180v1M272.5 169v1M272.5 172v1M272.5 176v1M272.5 178v1M272.5 180v1M272.5 193v1M273.5 180v1M275.5 180v1M288.5 167v1M288.5 180v1M292.5 180v1M298.5 180v1M299.5 180v1M300.5 180v1M302.5 180v1M312.5 180v1M317.5 169v1M317.5 180v1M319.5 313v1M325.5 180v1M328.5 180v1M329.5 180v1M329.5 183v1M330.5 173v1M330.5 196v1M330.5 209v1M330.5 218v1M330.5 222v1M331.5 180v1M336.5 180v1M337.5 180v1M339.5 180v1M343.5 180v1M346.5 180v1M348.5 180v1M350.5 180v1M355.5 180v1M359.5 185v1M360.5 180v1M366.5 180v1M370.5 183v1M371.5 180v1M373.5 180v1M380.5 180v1M382.5 180v1M384.5 180v1M394.5 177v1M404.5 172v1M405.5 169v1M409.5 172v1M412.5 172v1M417.5 184v1M418.5 172v1M429.5 172v1M434.5 169v1M434.5 172v1M436.5 172v1M446.5 172v1M448.5 172v1M451.5 172v1M456.5 172v1M457.5 172v1M459.5 179v1M461.5 172v1M462.5 172v1M469.5 169v1M473.5 172v1M476.5 172v1M487.5 172v1M490.5 172v1M495.5 172v1M500.5 172v1M502.5 172v1M508.5 172v1M511.5 172v1M514.5 313v1M516.5 172v1M517.5 172v1M521.5 172v1M521.5 313v1M523.5 172v1M524.5 172v1M525.5 321v1M526.5 321v1M527.5 172v1M527.5 313v1M528.5 172v1M529.5 172v1M532.5 172v1M533.5 172v1M543.5 172v1M548.5 172v1M549.5 172v1M553.5 172v1M560.5 172v1M561.5 172v1M576.5 168v1M579.5 313v1M643.5 313v1M648.5 172v4M648.5 178v2M648.5 181v1M648.5 183v1M657.5 167v3M657.5 171v1M657.5 190v1M657.5 206v1M657.5 213v1M657.5 215v1M657.5 221v1M657.5 226v2M657.5 240v1M675.5 166v1M675.5 176v1M675.5 188v1M675.5 192v1M675.5 196v2M675.5 199v1M675.5 213v6M675.5 221v1M675.5 225v3M675.5 313v1M677.5 313v1" stroke="#6a6a6a"/>
<path d="M79.5 213v1M80.5 213v1M81.5 213v1M83.5 213v1M84.5 213v1M85.5 213v1M87.5 213v1M88.5 213v1M92.5 213v1M93.5 213v1M94.5 213v1M95.5 213v1M98.5 213v1M99.5 213v1M102.5 213v1M103.5 213v1M104.5 213v1M105.5 213v1M107.5 213v1M109.5 213v1M113.5 213v1M114.5 213v1M115.5 213v1M117.5 213v1M118.5 213v1M119.5 213v1M122.5 213v1M123.5 213v1M124.5 213v1M126.5 212v1M150.5 180v1M155.5 180v1M156.5 180v1M173.5 180v1M178.5 180v1M179.5 185v1M182.5 172v1M184.5 180v1M194.5 180v1M195.5 166v2M195.5 170v1M199.5 180v1M204.5 180v1M209.5 180v1M219.5 180v1M220.5 180v1M233.5 180v1M235.5 180v1M238.5 180v1M245.5 180v1M250.5 180v1M272.5 167v1M272.5 174v1M277.5 180v1M285.5 180v1M289.5 180v1M291.5 180v1M308.5 180v1M313.5 180v1M318.5 180v1M320.5 180v1M323.5 180v1M330.5 176v1M330.5 197v1M330.5 200v2M330.5 203v2M330.5 212v1M330.5 214v3M330.5 219v1M332.5 180v1M340.5 180v1M342.5 180v1M344.5 180v1M345.5 180v1M349.5 180v1M354.5 180v1M369.5 180v1M370.5 180v1M377.5 180v1M388.5 180v1M390.5 321v1M391.5 180v1M394.5 178v1M396.5 174v1M402.5 172v1M417.5 172v1M419.5 172v1M420.5 172v1M421.5 172v1M424.5 172v1M425.5 172v1M437.5 172v1M443.5 172v1M445.5 172v1M455.5 172v1M463.5 172v1M478.5 172v1M494.5 172v1M496.5 172v1M499.5 172v1M500.5 169v1M507.5 172v1M515.5 172v1M522.5 321v1M526.5 313v1M527.5 321v1M534.5 172v1M540.5 172v1M547.5 172v1M558.5 172v1M564.5 172v1M605.5 313v1M646.5 313v1M648.5 180v1M657.5 172v1M657.5 175v1M657.5 178v1M657.5 180v3M657.5 185v2M657.5 188v1M657.5 192v1M657.5 197v2M657.5 201v2M657.5 204v1M657.5 207v1M657.5 211v1M657.5 217v1M657.5 228v1M657.5 230v1M675.5 167v4M675.5 172v1M675.5 181v1M675.5 189v1M675.5 193v2M675.5 209v1M675.5 219v2M675.5 223v2" stroke="#6f6f6f"/>
<path d="M89.5 213v1M91.5 213v1M111.5 213v1M120.5 213v1M125.5 213v1M148.5 180v1M170.5 180v1M172.5 180v1M182.5 167v1M182.5 198v1M195.5 174v2M202.5 180v1M227.5 180v1M254.5 180v1M265.5 180v1M308.5 316v1M321.5 180v1M330.5 166v2M330.5 170v1M330.5 179v1M330.5 184v1M330.5 190v1M330.5 192v1M330.5 194v2M330.5 198v1M330.5 205v1M330.5 208v1M330.5 210v1M330.5 213v1M330.5 217v1M338.5 180v1M394.5 321v1M399.5 170v1M403.5 172v1M405.5 172v1M410.5 172v1M416.5 172v1M428.5 172v1M433.5 169v1M442.5 172v1M447.5 172v1M466.5 172v1M470.5 316v1M479.5 172v1M479.5 313v1M480.5 172v1M483.5 172v1M484.5 172v1M485.5 172v1M489.5 172v1M497.5 172v1M504.5 172v1M509.5 172v1M510.5 172v1M520.5 172v1M535.5 169v1M539.5 172v1M541.5 172v1M542.5 172v1M552.5 172v1M554.5 169v1M567.5 316v1M648.5 176v2M657.5 170v1M657.5 173v1M657.5 176v1M657.5 183v1M657.5 187v1M657.5 194v3M657.5 199v2M675.5 177v2M675.5 183v1M675.5 185v1M675.5 187v1M675.5 191v1" stroke="#747474"/>
<path d="M122.5 316v1M124.5 316v1M133.5 316v1M141.5 183v1M167.5 316v1M171.5 180v1M174.5 316v1M195.5 171v1M197.5 316v1M222.5 316v1M228.5 316v1M250.5 316v1M307.5 180v1M316.5 316v1M320.5 316v1M330.5 168v2M330.5 171v2M330.5 174v2M330.5 181v1M330.5 183v1M330.5 189v1M330.5 199v1M330.5 202v1M330.5 206v2M331.5 316v1M344.5 316v1M362.5 180v1M387.5 321v1M392.5 321v1M395.5 316v1M396.5 316v1M399.5 316v1M414.5 316v1M427.5 172v1M429.5 316v1M431.5 316v1M435.5 172v1M454.5 316v1M472.5 172v1M480.5 316v1M489.5 316v1M505.5 172v1M512.5 316v1M528.5 316v1M544.5 316v1M550.5 172v1M551.5 172v1M553.5 321v1M554.5 172v1M555.5 321v1M557.5 172v1M568.5 316v1M613.5 316v1M657.5 166v1M657.5 174v1M657.5 179v1M657.5 191v1M657.5 193v1M657.5 208v1M658.5 316v1M675.5 173v2M675.5 180v1M675.5 184v1M675.5 186v1M682.5 316v1M683.5 316v1M684.5 316v1" stroke="#797979"/>
<path d="M84.5 316v1M85.5 316v1M110.5 316v1M111.5 316v1M114.5 316v1M129.5 316v1M130.5 316v1M134.5 316v1M141.5 316v1M142.5 316v1M144.5 316v1M145.5 316v1M146.5 316v1M149.5 316v1M150.5 316v1M154.5 316v1M155.5 316v1M156.5 316v1M163.5 316v1M165.5 316v1M170.5 316v1M175.5 316v1M176.5 316v1M190.5 316v1M191.5 316v1M203.5 316v1M204.5 316v1M224.5 316v1M226.5 316v1M229.5 316v1M234.5 316v1M235.5 316v1M248.5 316v1M249.5 316v1M263.5 316v1M272.5 316v1M276.5 316v1M277.5 316v1M278.5 316v1M286.5 180v1M297.5 180v1M309.5 316v1M318.5 316v1M330.5 178v1M330.5 180v1M330.5 182v1M330.5 187v2M330.5 211v1M330.5 316v1M332.5 316v1M343.5 316v1M350.5 316v1M361.5 316v1M362.5 316v1M371.5 316v1M373.5 316v1M376.5 316v1M379.5 316v1M380.5 316v1M389.5 321v1M391.5 321v1M393.5 321v1M397.5 170v1M401.5 316v1M413.5 316v1M416.5 316v1M417.5 316v1M428.5 316v1M433.5 316v1M444.5 316v1M447.5 316v1M449.5 316v1M466.5 316v1M468.5 316v1M470.5 169v1M471.5 316v1M472.5 316v1M474.5 316v1M476.5 316v1M477.5 316v1M485.5 316v1M486.5 172v1M488.5 316v1M513.5 316v1M514.5 172v1M514.5 316v1M517.5 316v1M524.5 321v1M525.5 172v1M531.5 316v1M534.5 316v1M536.5 316v1M547.5 316v1M548.5 316v1M549.5 316v1M554.5 321v1M569.5 316v1M586.5 316v1M604.5 316v1M609.5 316v1M626.5 316v1M631.5 316v1M633.5 316v1M636.5 316v1M644.5 316v1M645.5 316v1M650.5 316v1M653.5 316v1M657.5 189v1M657.5 316v1M662.5 316v1M675.5 175v1M675.5 182v1M675.5 190v1M681.5 316v1M692.5 316v1" stroke="#7e7e7e"/>
<path d="M81.5 316v1M83.5 316v1M97.5 316v1M98.5 316v1M99.5 316v1M100.5 316v1M101.5 316v1M105.5 316v1M108.5 316v1M109.5 316v1M112.5 316v1M113.5 316v1M120.5 316v1M127.5 316v1M140.5 316v1M162.5 316v1M164.5 316v1M168.5 316v1M171.5 316v1M172.5 316v1M173.5 316v1M177.5 316v1M189.5 316v1M192.5 316v1M198.5 316v1M201.5 316v1M202.5 316v1M206.5 316v1M207.5 316v1M209.5 316v1M210.5 316v1M211.5 316v1M212.5 316v1M227.5 316v1M231.5 316v1M232.5 316v1M247.5 316v1M251.5 316v1M255.5 316v1M256.5 316v1M259.5 316v1M261.5 316v1M265.5 316v1M273.5 316v1M279.5 316v1M315.5 316v1M317.5 316v1M319.5 316v1M322.5 316v1M330.5 177v1M330.5 185v2M330.5 191v1M330.5 193v1M333.5 316v1M342.5 316v1M351.5 316v1M354.5 316v1M356.5 316v1M357.5 316v1M370.5 316v1M375.5 316v1M378.5 316v1M381.5 316v1M382.5 316v1M383.5 316v1M391.5 316v1M393.5 316v1M394.5 316v1M397.5 316v1M398.5 170v1M400.5 170v1M400.5 316v1M401.5 170v1M418.5 316v1M420.5 316v1M422.5 316v1M427.5 316v1M430.5 316v1M432.5 316v1M434.5 316v1M436.5 316v1M446.5 316v1M448.5 316v1M455.5 316v1M456.5 316v1M458.5 316v1M475.5 316v1M479.5 316v1M486.5 316v1M490.5 316v1M516.5 316v1M526.5 316v1M527.5 316v1M529.5 316v1M530.5 316v1M532.5 316v1M533.5 316v1M543.5 316v1M546.5 316v1M552.5 316v1M553.5 316v1M561.5 316v1M562.5 316v1M565.5 316v1M589.5 316v1M590.5 316v1M591.5 316v1M605.5 316v1M608.5 316v1M610.5 316v1M614.5 316v1M643.5 316v1M648.5 316v1M649.5 316v1M660.5 316v1M661.5 316v1M663.5 316v1M672.5 316v1M675.5 179v1M678.5 316v1M687.5 316v1M688.5 316v1" stroke="#838383"/>
<path d="M82.5 316v1M86.5 316v1M102.5 316v1M106.5 316v1M107.5 316v1M119.5 316v1M121.5 316v1M123.5 316v1M125.5 316v1M126.5 316v1M128.5 316v1M132.5 316v1M147.5 316v1M148.5 316v1M161.5 316v1M166.5 316v1M169.5 316v1M178.5 316v1M179.5 316v1M193.5 316v1M194.5 316v1M199.5 316v1M200.5 316v1M205.5 316v1M233.5 316v1M246.5 316v1M260.5 316v1M262.5 316v1M281.5 316v1M307.5 316v1M328.5 316v1M329.5 316v1M334.5 316v1M345.5 316v1M353.5 316v1M355.5 316v1M358.5 316v1M359.5 316v1M363.5 316v1M364.5 316v1M372.5 316v1M374.5 316v1M377.5 316v1M388.5 321v1M390.5 316v1M392.5 316v1M398.5 316v1M406.5 169v1M419.5 316v1M426.5 172v1M426.5 316v1M435.5 316v1M437.5 316v1M438.5 316v1M445.5 316v1M450.5 316v1M465.5 316v1M467.5 316v1M469.5 316v1M473.5 316v1M478.5 316v1M487.5 316v1M492.5 316v1M494.5 316v1M515.5 316v1M519.5 316v1M534.5 169v1M535.5 316v1M542.5 316v1M545.5 316v1M550.5 316v1M551.5 316v1M554.5 316v1M556.5 321v1M563.5 316v1M566.5 316v1M570.5 316v1M571.5 316v1M585.5 316v1M587.5 316v1M588.5 316v1M593.5 316v1M594.5 316v1M595.5 316v1M597.5 316v1M606.5 316v1M607.5 316v1M611.5 316v1M627.5 316v1M628.5 316v1M629.5 316v1M630.5 316v1M634.5 316v1M638.5 316v1M639.5 316v1M641.5 316v1M642.5 316v1M652.5 316v1M654.5 316v1M655.5 316v1M656.5 316v1M659.5 316v1M671.5 316v1M680.5 316v1M685.5 316v1M686.5 316v1M691.5 316v1" stroke="#888888"/>
<path d="M131.5 316v1M143.5 316v1M221.5 316v1M223.5 316v1M225.5 316v1M230.5 316v1M264.5 316v1M266.5 316v1M280.5 316v1M321.5 316v1M335.5 316v1M352.5 316v1M360.5 316v1M389.5 316v1M415.5 316v1M457.5 316v1M491.5 316v1M493.5 316v1M518.5 316v1M541.5 316v1M596.5 316v1M632.5 316v1M635.5 316v1M640.5 316v1M679.5 316v1" stroke="#8d8d8d"/>
<path d="M421.5 316v1M520.5 316v1M564.5 316v1M592.5 316v1M612.5 316v1M637.5 316v1M651.5 316v1" stroke="#929292"/>
<path d="M208.5 316v1M439.5 315v1M521.5 316v1" stroke="#979797"/>
<path d="M405.5 315v1" stroke="#9c9c9c"/>
<path d="M441.5 315v1M467.5 315v1M468.5 315v1M496.5 315v1M533.5 315v1M561.5 315v1" stroke="#a1a1a1"/>
<path d="M404.5 315v1M466.5 315v1M469.5 315v1M491.5 315v1M506.5 315v1" stroke="#a6a6a6"/>
<path d="M442.5 315v1M470.5 315v1M475.5 315v1M477.5 315v1M494.5 315v1M495.5 315v1M504.5 315v1M530.5 315v1M556.5 315v1M557.5 315v1M559.5 315v1" stroke="#ababab"/>
<path d="M492.5 315v1M493.5 315v1M531.5 315v1M532.5 315v1M534.5 315v1M558.5 315v1" stroke="#b0b0b0"/>
<path d="M440.5 315v1M476.5 315v1" stroke="#b5b5b5"/>
<path d="M560.5 315v1" stroke="#bfbfbf"/>
<path d="M505.5 315v1" stroke="#c3c3c3"/></g>
</g>
<g filter="url(#f2)">
<rect x="79" y="332" width="614" height="1" fill="#202020"/>
<rect x="79" y="333" width="614" height="1" fill="#202020"/>
<rect x="79" y="334" width="614" height="1" fill="#202020"/>
<rect x="79" y="335" width="614" height="1" fill="#202020"/>
<rect x="79" y="336" width="614" height="1" fill="#202020"/>
<rect x="79" y="337" width="614" height="1" fill="#202020"/>
<rect x="79" y="338" width="614" height="1" fill="#202020"/>
<rect x="79" y="339" width="614" height="1" fill="#202020"/>
<rect x="79" y="340" width="614" height="1" fill="#202020"/>
<rect x="79" y="341" width="614" height="1" fill="#202020"/>
<rect x="79" y="342" width="614" height="1" fill="#202020"/>
<rect x="79" y="343" width="614" height="1" fill="#202020"/>
<rect x="79" y="344" width="614" height="1" fill="#202020"/>
<rect x="79" y="345" width="614" height="1" fill="#202020"/>
<rect x="79" y="346" width="614" height="1" fill="#202020"/>
<rect x="79" y="347" width="614" height="1" fill="#202020"/>
<rect x="79" y="348" width="614" height="1" fill="#202020"/>
<rect x="79" y="349" width="614" height="1" fill="#202020"/>
<rect x="79" y="350" width="614" height="1" fill="#202020"/>
<rect x="79" y="351" width="614" height="1" fill="#202020"/>
<rect x="79" y="352" width="614" height="1" fill="#202020"/>
<rect x="79" y="353" width="614" height="1" fill="#202020"/>
<rect x="79" y="354" width="614" height="1" fill="#202020"/>
<rect x="79" y="355" width="614" height="1" fill="#202020"/>
<rect x="79" y="356" width="614" height="1" fill="#202020"/>
<rect x="79" y="357" width="614" height="1" fill="#202020"/>
<rect x="79" y="358" width="614" height="1" fill="#202020"/>
<rect x="79" y="359" width="614" height="1" fill="#202020"/>
<rect x="79" y="360" width="614" height="1" fill="#202020"/>
<rect x="79" y="361" width="614" height="1" fill="#202020"/>
<rect x="79" y="362" width="614" height="1" fill="#202020"/>
<rect x="79" y="363" width="614" height="1" fill="#202020"/>
<rect x="79" y="364" width="614" height="1" fill="#202020"/>
<rect x="79" y="365" width="614" height="1" fill="#202020"/>
<rect x="79" y="366" width="614" height="1" fill="#202020"/>
<rect x="79" y="367" width="614" height="1" fill="#202020"/>
<rect x="79" y="368" width="614" height="1" fill="#202020"/>
<rect x="79" y="369" width="614" height="1" fill="#202020"/>
<rect x="79" y="370" width="614" height="1" fill="#202020"/>
<rect x="79" y="371" width="614" height="1" fill="#202020"/>
<rect x="79" y="372" width="614" height="1" fill="#202020"/>
<rect x="79" y="373" width="614" height="1" fill="#202020"/>
<rect x="79" y="374" width="614" height="1" fill="#202020"/>
<rect x="79" y="375" width="614" height="1" fill="#202020"/>
<rect x="79" y="376" width="614" height="1" fill="#202020"/>
<rect x="79" y="377" width="614" height="1" fill="#202020"/>
<rect x="79" y="378" width="614" height="1" fill="#202020"/>
<rect x="79" y="379" width="614" height="1" fill="#202020"/>
<rect x="79" y="380" width="614" height="1" fill="#202020"/>
<rect x="79" y="381" width="614" height="1" fill="#202020"/>
<rect x="79" y="382" width="614" height="1" fill="#202020"/>
<rect x="79" y="383" width="614" height="1" fill="#202020"/>
<rect x="79" y="384" width="614" height="1" fill="#202020"/>
<rect x="79" y="385" width="614" height="1" fill="#202020"/>
<rect x="79" y="386" width="614" height="1" fill="#202020"/>
<rect x="79" y="387" width="614" height="1" fill="#202020"/>
<rect x="79" y="388" width="614" height="1" fill="#202020"/>
<rect x="79" y="389" width="614" height="1" fill="#202020"/>
<rect x="79" y="390" width="614" height="1" fill="#202020"/>
<rect x="79" y="391" width="614" height="1" fill="#202020"/>
<rect x="79" y="392" width="614" height="1" fill="#202020"/>
<rect x="79" y="393" width="614" height="1" fill="#202020"/>
<rect x="79" y="394" width="614" height="1" fill="#202020"/>
<rect x="79" y="395" width="614" height="1" fill="#202020"/>
<rect x="79" y="396" width="614" height="1" fill="#202020"/>
<rect x="79" y="397" width="614" height="1" fill="#202020"/>
<rect x="79" y="398" width="614" height="1" fill="#2f2f2f"/>
<rect x="79" y="399" width="614" height="1" fill="#3a3a3a"/>
<rect x="79" y="400" width="614" height="1" fill="#404040"/>
<rect x="79" y="401" width="614" height="1" fill="#434343"/>
<rect x="79" y="402" width="614" height="1" fill="#424242"/>
<rect x="79" y="403" width="614" height="1" fill="#3d3d3d"/>
<rect x="79" y="404" width="614" height="1" fill="#353535"/>
<rect x="79" y="405" width="614" height="1" fill="#252525"/>
<rect x="79" y="406" width="614" height="1" fill="#252525"/>
<rect x="79" y="407" width="614" height="1" fill="#252525"/>
<rect x="79" y="408" width="614" height="1" fill="#252525"/>
<rect x="79" y="409" width="614" height="1" fill="#252525"/>
<rect x="79" y="410" width="614" height="1" fill="#252525"/>
<rect x="79" y="411" width="614" height="1" fill="#252525"/>
<rect x="79" y="412" width="614" height="1" fill="#252525"/>
<rect x="79" y="413" width="614" height="1" fill="#252525"/>
<rect x="79" y="414" width="614" height="1" fill="#252525"/>
<rect x="79" y="415" width="614" height="1" fill="#252525"/>
<rect x="79" y="416" width="614" height="1" fill="#252525"/>
<rect x="79" y="417" width="614" height="1" fill="#252525"/>
<rect x="79" y="418" width="614" height="1" fill="#252525"/>
<rect x="79" y="419" width="614" height="1" fill="#3a3a3a"/>
<rect x="79" y="420" width="614" height="1" fill="#444444"/>
<rect x="79" y="421" width="614" height="1" fill="#484848"/>
<rect x="79" y="422" width="614" height="1" fill="#454545"/>
<rect x="79" y="423" width="614" height="1" fill="#3b3b3b"/>
<rect x="79" y="424" width="614" height="1" fill="#353535"/>
<rect x="79" y="425" width="614" height="1" fill="#393939"/>
<rect x="79" y="426" width="614" height="1" fill="#3f3f3f"/>
<rect x="79" y="427" width="614" height="1" fill="#434343"/>
<rect x="79" y="428" width="614" height="1" fill="#434343"/>
<rect x="79" y="429" width="614" height="1" fill="#3b3b3b"/>
<rect x="79" y="430" width="614" height="1" fill="#353535"/>
<rect x="79" y="431" width="614" height="1" fill="#393939"/>
<rect x="79" y="432" width="614" height="1" fill="#3d3d3d"/>
<rect x="79" y="433" width="614" height="1" fill="#3d3d3d"/>
<rect x="79" y="434" width="614" height="1" fill="#353535"/>
<rect x="79" y="435" width="614" height="1" fill="#2a2a2a"/>
<rect x="79" y="436" width="614" height="1" fill="#2a2a2a"/>
<rect x="79" y="437" width="614" height="1" fill="#2a2a2a"/>
<rect x="79" y="438" width="614" height="1" fill="#2a2a2a"/>
<rect x="79" y="439" width="614" height="1" fill="#434343"/>
<rect x="79" y="440" width="614" height="1" fill="#606060"/>
<rect x="79" y="441" width="614" height="1" fill="#6a6a6a"/>
<rect x="79" y="442" width="614" height="1" fill="#6b6b6b"/>
<rect x="79" y="443" width="614" height="1" fill="#686868"/>
<rect x="79" y="444" width="614" height="1" fill="#5b5b5b"/>
<rect x="79" y="445" width="614" height="1" fill="#4f4f4f"/>
<rect x="79" y="446" width="614" height="1" fill="#4b4b4b"/>
<rect x="79" y="447" width="614" height="1" fill="#484848"/>
<rect x="79" y="448" width="614" height="1" fill="#404040"/>
<rect x="79" y="449" width="614" height="1" fill="#404040"/>
<rect x="79" y="450" width="614" height="1" fill="#404040"/>
<rect x="79" y="451" width="614" height="1" fill="#515151"/>
<rect x="79" y="452" width="614" height="1" fill="#5b5b5b"/>
<rect x="79" y="453" width="614" height="1" fill="#5e5e5e"/>
<rect x="79" y="454" width="614" height="1" fill="#595959"/>
<rect x="79" y="455" width="614" height="1" fill="#484848"/>
<rect x="79" y="456" width="614" height="1" fill="#3b3b3b"/>
<rect x="79" y="457" width="614" height="1" fill="#3b3b3b"/>
<rect x="79" y="458" width="614" height="1" fill="#3b3b3b"/>
<rect x="79" y="459" width="614" height="1" fill="#515151"/>
<rect x="79" y="460" width="614" height="1" fill="#5e5e5e"/>
<rect x="79" y="461" width="614" height="1" fill="#636363"/>
<rect x="79" y="462" width="614" height="1" fill="#636363"/>
<rect x="79" y="463" width="614" height="1" fill="#5b5b5b"/>
<rect x="79" y="464" width="614" height="1" fill="#515151"/>
<rect x="79" y="465" width="614" height="1" fill="#4c4c4c"/>
<rect x="79" y="466" width="614" height="1" fill="#4c4c4c"/>
<rect x="79" y="467" width="614" height="1" fill="#4c4c4c"/>
<rect x="79" y="468" width="614" height="1" fill="#4c4c4c"/>
<rect x="79" y="469" width="614" height="1" fill="#4c4c4c"/>
<rect x="79" y="470" width="614" height="1" fill="#5b5b5b"/>
<rect x="79" y="471" width="614" height="1" fill="#686868"/>
<rect x="79" y="472" width="614" height="1" fill="#6d6d6d"/>
<rect x="79" y="473" width="614" height="1" fill="#6d6d6d"/>
<rect x="79" y="474" width="614" height="1" fill="#6e6e6e"/>
<rect x="79" y="475" width="614" height="1" fill="#686868"/>
<rect x="79" y="476" width="614" height="1" fill="#5c5c5c"/>
<rect x="79" y="477" width="614" height="1" fill="#555555"/>
<rect x="79" y="478" width="614" height="1" fill="#555555"/>
<rect x="79" y="479" width="614" height="1" fill="#555555"/>
<rect x="79" y="480" width="614" height="1" fill="#555555"/>
<rect x="79" y="481" width="614" height="1" fill="#5e5e5e"/>
<rect x="79" y="482" width="614" height="1" fill="#616161"/>
<rect x="79" y="483" width="614" height="1" fill="#5e5e5e"/>
<rect x="79" y="484" width="614" height="1" fill="#515151"/>
<rect x="79" y="485" width="614" height="1" fill="#4c4c4c"/>
<rect x="79" y="486" width="614" height="1" fill="#4c4c4c"/>
<rect x="79" y="487" width="614" height="1" fill="#e1e1e1"/>
<rect x="79" y="488" width="614" height="1" fill="#000000"/>
<g fill="none" stroke-width="1" shape-rendering="crispEdges" style="mix-blend-mode:lighten"><path d="M80.5 335v1M80.5 381v3M85.5 390v1M87.5 394v1M87.5 397v1M94.5 397v1M99.5 359v1M106.5 371v1M107.5 372v1M107.5 382v1M108.5 395v1M109.5 349v1M109.5 370v1M114.5 401v1M114.5 409v2M116.5 368v1M116.5 401v1M126.5 384v1M126.5 388v1M126.5 390v1M164.5 366v1M181.5 428v1M186.5 398v2M194.5 340v1M194.5 365v1M194.5 380v2M196.5 365v1M197.5 390v1M201.5 384v1M204.5 396v1M204.5 398v2M219.5 385v2M221.5 353v1M221.5 384v1M221.5 394v1M229.5 333v1M229.5 348v1M229.5 379v1M229.5 389v1M230.5 399v1M237.5 396v1M245.5 395v1M252.5 392v1M253.5 398v1M270.5 406v1M272.5 333v1M272.5 342v1M272.5 358v1M272.5 367v1M272.5 375v1M272.5 384v1M282.5 369v1M282.5 397v1M284.5 402v1M295.5 393v1M297.5 405v1M298.5 370v1M306.5 382v1M308.5 376v1M308.5 382v1M308.5 384v1M313.5 396v1M317.5 403v2M319.5 378v1M325.5 385v1M325.5 390v1M325.5 394v1M325.5 397v1M329.5 406v1M329.5 408v1M329.5 411v1M329.5 415v1M331.5 365v1M331.5 372v1M331.5 392v1M340.5 379v1M341.5 396v1M341.5 401v1M345.5 358v1M347.5 351v1M347.5 354v1M347.5 370v1M347.5 374v1M357.5 387v1M364.5 369v1M364.5 371v1M371.5 375v1M371.5 396v1M382.5 400v1M383.5 396v1M406.5 373v1M421.5 399v1M451.5 397v1M460.5 415v1M461.5 393v1M461.5 396v1M468.5 380v1M471.5 391v1M477.5 377v1M488.5 377v2M494.5 338v1M494.5 348v1M496.5 344v1M507.5 378v1M518.5 388v1M518.5 394v2M522.5 371v1M522.5 373v1M528.5 412v1M532.5 397v1M543.5 372v1M567.5 394v1M577.5 333v1M577.5 357v1M577.5 372v1M593.5 378v1M593.5 386v1M595.5 337v1M595.5 345v1M595.5 349v1M595.5 351v1M595.5 355v1M595.5 368v1M595.5 371v1M603.5 377v1M612.5 399v1M612.5 407v1M614.5 378v1M614.5 405v1M619.5 338v1M619.5 372v1M619.5 374v1M619.5 383v1M619.5 387v1M621.5 364v1M621.5 373v1M621.5 375v1M621.5 378v1M638.5 389v1M638.5 402v1M640.5 405v1M648.5 370v1M648.5 372v1M655.5 364v1M655.5 368v1M655.5 378v1M655.5 405v1M658.5 402v1M667.5 371v1M674.5 377v1M674.5 404v1M676.5 349v1M676.5 388v1M676.5 404v1M679.5 384v1M685.5 385v1M691.5 392v1" stroke="#2a2a2a"/>
<path d="M79.5 391v1M80.5 372v1M80.5 377v1M85.5 373v1M85.5 387v2M85.5 393v1M87.5 353v1M87.5 376v1M87.5 381v1M87.5 388v3M87.5 396v1M94.5 394v3M94.5 399v1M99.5 366v1M99.5 368v1M99.5 376v2M99.5 386v1M99.5 397v1M99.5 399v1M101.5 399v2M101.5 402v1M106.5 370v1M107.5 341v1M107.5 344v1M107.5 347v1M107.5 351v1M107.5 353v1M107.5 356v2M107.5 367v1M107.5 376v2M107.5 384v1M109.5 344v1M109.5 346v1M109.5 359v3M109.5 376v1M109.5 378v1M109.5 382v1M109.5 384v1M114.5 372v1M114.5 399v1M116.5 396v1M116.5 398v1M116.5 403v1M116.5 407v1M116.5 409v1M119.5 359v1M119.5 361v1M126.5 349v1M126.5 391v1M138.5 393v1M142.5 376v1M142.5 378v2M146.5 391v2M149.5 386v1M149.5 390v1M153.5 394v1M164.5 359v1M164.5 369v1M167.5 359v2M167.5 363v2M167.5 378v3M172.5 398v1M181.5 424v2M181.5 427v1M181.5 429v1M183.5 427v2M183.5 431v1M186.5 397v1M194.5 337v1M194.5 361v1M194.5 367v1M196.5 332v2M196.5 335v1M196.5 338v1M196.5 345v1M196.5 362v1M196.5 368v1M196.5 372v1M196.5 380v1M197.5 377v1M197.5 388v1M204.5 395v1M207.5 384v1M210.5 382v1M219.5 349v1M219.5 375v1M219.5 383v1M219.5 390v1M220.5 397v1M221.5 339v1M221.5 363v2M221.5 368v1M221.5 375v1M221.5 377v1M221.5 385v2M224.5 374v1M229.5 335v2M229.5 343v3M229.5 353v2M229.5 366v1M229.5 372v2M229.5 375v2M230.5 397v1M230.5 400v1M231.5 383v1M231.5 397v2M237.5 397v1M245.5 391v2M245.5 394v1M245.5 396v1M249.5 389v1M252.5 389v3M253.5 392v3M253.5 397v1M268.5 387v1M270.5 405v1M270.5 408v1M272.5 334v1M272.5 345v1M272.5 360v1M272.5 364v1M272.5 366v1M272.5 369v2M272.5 378v1M272.5 387v1M272.5 390v1M272.5 392v1M272.5 395v1M282.5 386v1M282.5 395v2M282.5 402v1M282.5 406v1M284.5 406v1M290.5 397v2M295.5 405v1M295.5 409v1M297.5 367v1M297.5 408v2M298.5 365v1M298.5 369v1M306.5 357v1M306.5 368v1M306.5 371v1M306.5 377v2M306.5 385v1M306.5 387v1M306.5 389v1M308.5 361v1M308.5 365v1M308.5 371v1M308.5 375v1M308.5 377v1M308.5 385v1M308.5 387v2M308.5 390v2M319.5 375v1M325.5 373v1M325.5 379v1M325.5 381v1M325.5 387v3M325.5 393v1M325.5 395v1M326.5 410v1M329.5 380v2M329.5 400v1M329.5 410v1M331.5 374v1M340.5 366v1M340.5 380v1M341.5 394v2M341.5 402v1M343.5 383v5M344.5 392v1M345.5 349v1M345.5 357v1M345.5 360v2M347.5 346v1M347.5 349v1M347.5 357v2M348.5 386v1M348.5 393v1M350.5 386v1M357.5 375v2M357.5 378v2M357.5 400v2M358.5 400v1M361.5 381v1M364.5 374v1M371.5 360v1M371.5 373v1M371.5 388v1M371.5 391v2M371.5 394v1M371.5 398v1M373.5 333v1M373.5 351v1M373.5 358v2M373.5 362v1M373.5 375v1M373.5 378v1M373.5 388v1M373.5 391v1M373.5 396v1M373.5 401v1M383.5 397v1M393.5 398v1M402.5 372v1M402.5 378v1M402.5 393v2M406.5 348v1M406.5 372v1M416.5 413v1M416.5 416v1M416.5 419v1M418.5 416v1M421.5 398v1M430.5 372v1M430.5 375v1M430.5 377v1M444.5 382v1M451.5 396v1M452.5 369v1M452.5 382v1M452.5 391v1M453.5 374v1M456.5 394v1M458.5 418v1M460.5 400v1M460.5 421v1M460.5 425v1M461.5 375v1M461.5 379v1M461.5 394v1M463.5 376v2M463.5 387v1M468.5 375v1M468.5 381v3M471.5 356v1M471.5 367v1M471.5 389v1M471.5 392v1M473.5 356v1M473.5 391v1M484.5 385v1M494.5 343v1M494.5 355v1M494.5 378v1M494.5 384v1M494.5 390v1M495.5 400v1M496.5 347v1M496.5 352v1M496.5 359v1M496.5 380v1M496.5 386v1M497.5 392v2M497.5 397v1M498.5 390v1M507.5 376v2M514.5 381v2M515.5 398v2M515.5 401v1M521.5 359v1M521.5 367v1M522.5 372v1M522.5 376v1M522.5 378v1M524.5 359v1M524.5 368v1M528.5 410v2M528.5 413v1M532.5 358v1M532.5 381v1M532.5 384v1M532.5 387v2M532.5 390v2M532.5 393v2M539.5 345v1M539.5 349v1M539.5 371v1M539.5 373v1M554.5 384v1M567.5 380v1M567.5 382v1M567.5 384v1M567.5 389v1M570.5 375v1M570.5 406v1M572.5 385v1M572.5 406v1M577.5 335v1M577.5 338v1M577.5 350v1M577.5 370v1M577.5 375v1M577.5 378v1M577.5 380v1M579.5 347v1M579.5 357v2M579.5 370v1M579.5 376v1M579.5 383v1M593.5 337v2M593.5 348v2M593.5 361v1M593.5 371v1M593.5 374v1M593.5 385v1M594.5 394v1M595.5 333v1M595.5 335v1M595.5 339v1M595.5 366v1M595.5 370v1M595.5 374v1M595.5 382v1M595.5 384v2M597.5 392v1M602.5 374v1M603.5 378v1M608.5 376v2M612.5 401v1M612.5 404v2M614.5 401v1M614.5 404v1M619.5 334v1M619.5 366v1M619.5 377v1M619.5 384v1M619.5 386v1M619.5 388v1M621.5 332v1M621.5 334v1M621.5 365v1M621.5 371v2M621.5 377v1M621.5 382v2M621.5 385v1M626.5 390v1M627.5 377v1M627.5 379v1M634.5 359v1M634.5 361v1M638.5 341v1M638.5 351v1M638.5 370v1M638.5 376v1M638.5 393v1M638.5 400v1M638.5 405v1M640.5 351v1M640.5 372v1M640.5 376v2M640.5 379v1M640.5 384v1M640.5 391v1M640.5 396v1M640.5 400v1M640.5 402v1M648.5 364v2M655.5 372v1M655.5 374v1M655.5 383v1M655.5 385v1M655.5 390v1M655.5 400v2M655.5 403v1M658.5 391v1M658.5 394v1M658.5 399v1M665.5 381v1M673.5 378v1M673.5 380v1M673.5 382v1M674.5 349v1M674.5 382v1M674.5 387v1M674.5 408v1M676.5 365v1M676.5 377v2M676.5 390v1M676.5 397v2M676.5 402v2M676.5 408v1M679.5 376v1M679.5 381v1M685.5 383v1M687.5 382v1M688.5 375v1M688.5 380v1" stroke="#2f2f2f"/>
<path d="M80.5 341v1M80.5 344v2M80.5 356v1M80.5 384v1M81.5 344v1M81.5 348v2M81.5 357v1M81.5 371v1M81.5 377v2M85.5 376v1M85.5 382v1M85.5 384v1M85.5 386v1M87.5 351v1M87.5 374v1M87.5 377v1M87.5 387v1M93.5 382v2M94.5 391v1M94.5 393v1M99.5 356v2M99.5 362v2M99.5 369v1M99.5 381v1M99.5 390v1M101.5 397v1M106.5 352v4M106.5 366v1M107.5 334v1M107.5 342v1M107.5 345v1M107.5 349v1M107.5 352v1M107.5 359v3M107.5 363v3M107.5 370v1M109.5 337v1M109.5 341v2M109.5 345v1M109.5 365v1M109.5 367v1M109.5 369v1M109.5 372v1M109.5 374v1M114.5 337v1M114.5 373v1M114.5 375v1M114.5 392v1M114.5 395v3M114.5 400v1M115.5 420v1M116.5 337v1M116.5 354v1M116.5 356v1M116.5 360v1M116.5 372v2M116.5 395v1M116.5 397v1M116.5 399v1M117.5 388v2M119.5 367v1M126.5 343v1M126.5 372v1M126.5 376v1M126.5 383v1M126.5 386v1M126.5 389v1M138.5 363v1M138.5 396v2M142.5 355v1M142.5 358v1M142.5 377v1M146.5 390v1M149.5 384v1M149.5 387v1M153.5 387v1M153.5 389v1M164.5 356v1M164.5 364v1M167.5 353v1M167.5 356v1M167.5 366v1M167.5 368v2M167.5 375v1M172.5 345v1M172.5 352v1M172.5 397v1M172.5 400v1M192.5 357v1M194.5 333v1M194.5 338v1M194.5 345v2M194.5 351v1M194.5 355v1M194.5 359v2M194.5 362v1M194.5 364v1M194.5 368v1M194.5 373v1M195.5 383v1M196.5 337v1M196.5 340v1M196.5 349v1M196.5 358v1M196.5 360v2M197.5 374v1M197.5 378v1M197.5 382v1M197.5 385v1M201.5 385v1M204.5 363v1M204.5 371v1M204.5 379v1M204.5 389v2M204.5 394v1M207.5 385v2M210.5 364v1M219.5 345v1M219.5 358v1M219.5 376v4M219.5 381v1M219.5 388v1M220.5 400v1M221.5 343v1M221.5 359v1M221.5 371v1M221.5 376v1M221.5 378v1M221.5 380v1M221.5 390v1M224.5 371v1M229.5 332v1M229.5 352v1M229.5 364v1M229.5 367v3M229.5 371v1M229.5 374v1M229.5 382v1M230.5 394v1M230.5 396v1M230.5 398v1M231.5 394v3M237.5 389v3M245.5 369v2M245.5 377v1M245.5 379v1M245.5 387v1M245.5 393v1M249.5 372v1M249.5 386v1M252.5 353v1M252.5 361v1M252.5 376v1M252.5 378v1M252.5 387v2M252.5 394v1M253.5 381v1M253.5 384v1M253.5 390v1M253.5 395v2M260.5 392v1M265.5 350v1M268.5 404v1M268.5 406v1M270.5 385v1M272.5 332v1M272.5 337v1M272.5 349v1M272.5 352v1M272.5 356v2M272.5 359v1M272.5 362v2M272.5 372v1M272.5 376v1M272.5 389v1M272.5 396v1M282.5 355v1M282.5 364v1M282.5 379v1M282.5 382v2M282.5 385v1M282.5 394v1M282.5 398v1M282.5 400v1M284.5 345v1M284.5 376v1M284.5 379v1M284.5 384v1M284.5 386v1M284.5 391v1M284.5 395v1M284.5 397v1M284.5 399v2M290.5 396v1M290.5 400v1M295.5 381v1M295.5 403v1M295.5 406v1M297.5 394v1M297.5 403v1M297.5 406v2M298.5 355v1M298.5 357v1M298.5 367v1M305.5 372v1M306.5 332v1M306.5 359v1M306.5 361v1M306.5 363v1M306.5 365v2M306.5 370v1M306.5 373v1M306.5 375v1M306.5 380v2M306.5 383v1M306.5 388v1M307.5 399v1M308.5 332v1M308.5 338v1M308.5 366v1M308.5 373v2M308.5 380v2M308.5 383v1M308.5 389v1M313.5 394v1M317.5 402v1M319.5 361v1M325.5 353v1M325.5 363v1M325.5 376v1M325.5 382v1M326.5 404v1M326.5 406v1M326.5 414v1M329.5 377v1M329.5 379v1M329.5 394v1M329.5 402v4M331.5 366v1M331.5 368v1M331.5 375v1M331.5 377v1M331.5 380v3M331.5 391v1M340.5 359v1M340.5 367v1M340.5 376v1M340.5 378v1M341.5 364v1M341.5 392v2M341.5 397v1M343.5 348v2M343.5 354v1M343.5 390v1M345.5 336v1M345.5 339v2M345.5 344v1M345.5 348v1M345.5 351v2M345.5 356v1M346.5 373v1M347.5 333v1M347.5 336v1M347.5 345v1M347.5 353v1M347.5 356v1M347.5 361v1M348.5 394v1M350.5 391v1M357.5 372v1M357.5 374v1M357.5 380v1M357.5 382v2M357.5 395v1M357.5 397v2M358.5 398v2M364.5 368v1M364.5 370v1M371.5 333v1M371.5 356v1M371.5 358v2M371.5 369v1M371.5 376v1M371.5 379v1M371.5 384v3M372.5 409v1M373.5 357v1M373.5 363v2M373.5 369v1M373.5 373v1M373.5 376v1M373.5 379v1M373.5 397v1M382.5 397v1M383.5 361v1M383.5 364v1M393.5 384v1M393.5 387v2M393.5 390v1M393.5 395v1M393.5 397v1M402.5 348v1M402.5 368v2M402.5 373v1M402.5 376v2M402.5 379v1M402.5 387v1M402.5 392v1M406.5 369v3M416.5 414v1M416.5 417v1M418.5 375v1M418.5 409v1M418.5 414v1M418.5 419v1M421.5 396v2M430.5 359v1M430.5 363v1M430.5 369v1M430.5 376v1M444.5 351v1M444.5 379v1M452.5 372v2M452.5 376v1M452.5 392v1M453.5 366v1M453.5 371v1M453.5 373v1M458.5 402v1M458.5 405v1M458.5 414v1M458.5 417v1M458.5 424v1M460.5 395v1M460.5 416v2M460.5 420v1M460.5 424v1M461.5 378v1M461.5 383v1M461.5 385v1M461.5 387v1M461.5 392v1M463.5 364v1M463.5 378v2M463.5 383v1M463.5 392v1M468.5 344v1M468.5 371v1M472.5 400v1M473.5 388v3M477.5 376v1M484.5 377v5M484.5 383v1M494.5 336v1M494.5 339v1M494.5 349v1M494.5 352v2M494.5 357v1M494.5 364v1M494.5 372v1M494.5 374v1M494.5 376v1M494.5 380v1M495.5 394v1M495.5 398v1M496.5 336v1M496.5 338v2M496.5 350v1M496.5 353v1M496.5 355v1M496.5 357v1M497.5 391v1M503.5 391v1M503.5 394v1M514.5 379v1M518.5 362v2M518.5 385v1M518.5 390v1M518.5 397v1M521.5 361v1M521.5 370v2M521.5 374v2M522.5 369v1M522.5 375v1M524.5 351v1M524.5 365v1M524.5 372v1M528.5 390v1M530.5 389v1M530.5 409v1M530.5 412v1M532.5 354v1M532.5 380v1M532.5 383v1M532.5 385v2M532.5 392v1M532.5 395v1M539.5 353v1M539.5 358v1M539.5 362v1M539.5 372v1M543.5 373v1M543.5 377v2M554.5 385v2M567.5 364v1M567.5 381v1M567.5 385v1M567.5 392v1M568.5 374v2M570.5 381v1M570.5 383v1M570.5 386v1M570.5 398v1M571.5 408v1M572.5 386v1M572.5 391v1M572.5 401v1M575.5 376v1M577.5 337v1M577.5 342v1M577.5 347v1M577.5 353v1M577.5 368v1M577.5 373v1M577.5 376v1M577.5 382v1M578.5 394v2M579.5 333v1M579.5 335v1M579.5 338v1M579.5 342v1M579.5 349v2M579.5 353v1M579.5 356v1M579.5 360v1M579.5 365v1M579.5 373v1M579.5 382v1M579.5 384v1M593.5 340v2M593.5 344v1M593.5 347v1M593.5 350v1M593.5 352v1M593.5 357v1M593.5 364v2M593.5 368v1M593.5 370v1M593.5 384v1M595.5 340v1M595.5 352v1M595.5 356v1M595.5 363v1M595.5 367v1M595.5 373v1M595.5 380v1M595.5 386v1M602.5 363v1M602.5 375v3M608.5 373v1M612.5 343v1M612.5 378v1M614.5 399v1M619.5 332v1M619.5 336v2M619.5 340v1M619.5 344v1M619.5 346v1M619.5 363v2M619.5 375v2M619.5 379v2M621.5 333v1M621.5 338v1M621.5 340v1M621.5 342v1M621.5 351v1M621.5 355v1M621.5 359v1M621.5 368v1M621.5 380v1M621.5 384v1M621.5 387v2M634.5 351v1M634.5 353v1M634.5 355v1M634.5 362v1M634.5 365v1M638.5 332v1M638.5 336v1M638.5 345v1M638.5 348v1M638.5 377v1M638.5 384v1M638.5 398v2M640.5 341v1M640.5 345v1M640.5 348v1M640.5 366v1M640.5 388v1M640.5 393v2M640.5 398v1M648.5 362v1M649.5 381v1M649.5 384v2M655.5 357v1M655.5 377v1M655.5 379v1M655.5 386v1M658.5 342v1M658.5 380v1M658.5 383v1M658.5 385v1M658.5 388v2M658.5 395v1M658.5 400v1M658.5 408v1M665.5 380v1M667.5 372v2M673.5 381v1M674.5 354v1M674.5 365v1M674.5 378v1M674.5 385v1M674.5 388v3M674.5 393v1M674.5 396v2M674.5 401v1M674.5 403v1M676.5 354v1M676.5 382v1M676.5 384v2M676.5 387v1M676.5 389v1M676.5 393v1M676.5 396v1M679.5 378v1M687.5 366v1M687.5 381v1M688.5 351v1M688.5 361v1M688.5 365v1M688.5 368v2M688.5 374v1M688.5 376v1M688.5 381v1M691.5 386v1M691.5 391v1" stroke="#343434"/>
<path d="M80.5 332v1M80.5 334v1M80.5 336v1M80.5 346v1M80.5 360v1M80.5 362v1M80.5 375v2M81.5 334v1M81.5 339v1M81.5 341v1M81.5 346v2M81.5 350v1M81.5 352v2M81.5 355v2M81.5 359v2M81.5 369v1M81.5 374v2M82.5 379v1M83.5 379v1M85.5 365v1M85.5 368v2M85.5 371v1M85.5 374v2M85.5 381v1M87.5 371v1M87.5 378v2M87.5 382v5M87.5 391v1M93.5 371v1M93.5 377v2M99.5 365v1M99.5 367v1M99.5 374v1M99.5 378v1M99.5 394v1M101.5 385v2M101.5 398v1M106.5 334v1M106.5 349v1M106.5 359v1M106.5 363v1M106.5 365v1M106.5 368v2M107.5 335v1M107.5 340v1M107.5 343v1M107.5 350v1M107.5 354v1M107.5 362v1M107.5 369v1M107.5 374v2M107.5 381v1M108.5 391v1M108.5 394v1M109.5 333v1M109.5 336v1M109.5 339v1M109.5 352v1M109.5 354v1M109.5 356v1M109.5 358v1M109.5 362v2M111.5 379v1M114.5 332v1M114.5 334v1M114.5 354v1M114.5 356v2M114.5 361v1M114.5 365v1M114.5 367v1M114.5 371v1M114.5 374v1M114.5 382v2M114.5 387v3M116.5 370v2M116.5 382v1M116.5 387v1M116.5 390v1M116.5 392v1M116.5 400v1M117.5 365v1M117.5 382v1M117.5 385v1M117.5 387v1M117.5 390v1M119.5 354v2M119.5 366v1M119.5 369v1M126.5 347v1M126.5 350v1M126.5 352v1M126.5 374v2M126.5 378v1M126.5 381v2M126.5 387v1M138.5 355v1M138.5 361v1M138.5 394v2M146.5 370v1M146.5 375v2M153.5 367v1M153.5 375v1M153.5 388v1M153.5 391v2M159.5 362v1M159.5 364v2M159.5 369v1M161.5 350v1M164.5 340v1M164.5 357v1M164.5 361v2M164.5 365v1M167.5 351v2M167.5 354v1M167.5 357v2M167.5 367v1M167.5 371v2M172.5 346v1M172.5 390v1M181.5 373v1M181.5 430v1M183.5 399v1M183.5 425v1M183.5 430v1M186.5 395v1M186.5 400v1M192.5 359v1M192.5 368v1M192.5 372v1M192.5 374v3M194.5 334v2M194.5 348v2M194.5 356v2M194.5 363v1M195.5 382v1M195.5 387v2M195.5 390v1M196.5 339v1M196.5 342v1M196.5 357v1M196.5 363v1M196.5 373v1M197.5 342v1M197.5 351v1M197.5 365v1M197.5 371v1M197.5 373v1M197.5 375v2M197.5 379v3M197.5 384v1M197.5 386v1M201.5 383v1M204.5 357v1M204.5 367v1M204.5 370v1M204.5 372v1M204.5 376v1M204.5 385v1M204.5 391v2M207.5 379v1M207.5 383v1M210.5 359v1M210.5 377v1M219.5 335v1M219.5 341v1M219.5 343v1M219.5 346v1M219.5 356v1M219.5 359v1M219.5 362v1M219.5 368v1M219.5 373v2M219.5 384v1M220.5 399v1M221.5 332v1M221.5 338v1M221.5 341v1M221.5 346v1M221.5 349v1M221.5 362v1M221.5 366v1M221.5 373v2M221.5 379v1M221.5 381v1M221.5 388v1M224.5 369v1M229.5 334v1M229.5 337v2M229.5 340v1M229.5 342v1M229.5 359v3M229.5 363v1M229.5 365v1M229.5 378v1M230.5 390v1M230.5 395v1M231.5 389v1M231.5 393v1M237.5 386v1M245.5 368v1M245.5 373v1M245.5 375v1M245.5 378v1M245.5 380v2M245.5 385v1M245.5 390v1M249.5 361v1M249.5 364v1M249.5 366v1M249.5 369v1M249.5 381v1M252.5 356v1M252.5 359v2M252.5 370v1M252.5 374v1M252.5 377v1M252.5 379v1M252.5 381v2M253.5 353v1M253.5 376v1M253.5 380v1M253.5 388v2M253.5 391v1M260.5 344v1M260.5 389v1M260.5 391v1M268.5 375v1M268.5 385v1M268.5 388v1M268.5 392v1M268.5 399v1M270.5 387v2M270.5 391v2M270.5 404v1M271.5 406v1M271.5 410v1M272.5 335v1M272.5 338v1M272.5 351v1M272.5 361v1M272.5 365v1M272.5 368v1M272.5 373v1M282.5 340v1M282.5 345v1M282.5 352v1M282.5 359v1M282.5 376v2M282.5 380v1M282.5 384v1M282.5 388v1M282.5 399v1M283.5 409v1M284.5 340v1M284.5 352v4M284.5 364v1M284.5 369v1M284.5 374v1M284.5 382v2M284.5 387v1M284.5 392v1M284.5 394v1M290.5 392v1M290.5 395v1M295.5 336v1M295.5 341v1M295.5 361v1M295.5 367v1M295.5 388v2M295.5 394v3M295.5 399v1M295.5 404v1M295.5 408v1M297.5 336v1M297.5 381v1M297.5 384v1M297.5 388v1M297.5 395v1M297.5 400v1M297.5 404v1M298.5 354v1M298.5 356v1M298.5 359v6M298.5 366v1M305.5 368v1M306.5 338v1M306.5 344v1M306.5 351v1M306.5 364v1M306.5 367v1M306.5 376v1M306.5 386v1M306.5 390v1M307.5 400v1M308.5 346v1M308.5 354v1M308.5 357v3M308.5 363v1M308.5 368v2M308.5 372v1M308.5 378v1M313.5 392v1M317.5 377v1M317.5 399v2M319.5 374v1M324.5 350v1M325.5 340v1M325.5 342v1M325.5 345v1M325.5 349v1M325.5 351v1M325.5 354v2M325.5 358v2M325.5 361v2M325.5 367v2M325.5 374v1M325.5 377v2M325.5 380v1M325.5 383v2M325.5 391v2M326.5 411v1M329.5 385v1M329.5 390v1M329.5 397v1M330.5 399v1M331.5 332v1M331.5 336v1M331.5 356v1M331.5 367v1M331.5 370v1M331.5 376v1M331.5 378v2M331.5 387v1M331.5 389v1M335.5 350v1M338.5 350v1M340.5 345v1M340.5 363v1M340.5 365v1M340.5 371v1M340.5 377v1M341.5 367v1M341.5 388v2M342.5 350v1M343.5 351v1M343.5 353v1M343.5 357v1M343.5 369v1M343.5 375v2M343.5 382v1M344.5 391v1M345.5 335v1M345.5 345v1M345.5 353v1M346.5 377v2M346.5 380v1M347.5 339v2M348.5 339v1M348.5 379v1M348.5 384v1M348.5 388v1M348.5 391v1M348.5 396v1M350.5 339v1M350.5 345v1M350.5 378v1M350.5 384v1M350.5 387v2M350.5 390v1M350.5 394v1M350.5 396v1M357.5 366v1M357.5 369v3M357.5 373v1M357.5 381v1M357.5 389v1M357.5 394v1M357.5 396v1M358.5 396v2M361.5 376v1M361.5 380v1M364.5 345v1M364.5 363v1M364.5 366v2M371.5 337v1M371.5 344v2M371.5 354v1M371.5 357v1M371.5 363v1M371.5 366v1M371.5 371v2M371.5 378v1M372.5 403v1M372.5 406v1M372.5 408v1M372.5 410v1M373.5 334v1M373.5 344v2M373.5 353v1M373.5 365v2M373.5 372v1M373.5 384v1M373.5 386v1M373.5 392v1M382.5 389v1M382.5 394v2M382.5 398v1M383.5 380v1M383.5 393v1M393.5 351v1M393.5 380v1M393.5 383v1M393.5 389v1M393.5 396v1M402.5 357v1M402.5 361v3M402.5 371v1M402.5 374v1M402.5 380v1M402.5 382v1M402.5 390v2M406.5 345v1M406.5 349v1M416.5 375v1M416.5 411v1M418.5 402v1M418.5 413v1M418.5 415v1M418.5 417v1M421.5 383v1M421.5 393v1M430.5 370v1M430.5 374v1M444.5 352v5M444.5 359v1M444.5 364v2M444.5 376v1M444.5 380v1M451.5 392v4M452.5 378v2M452.5 381v1M452.5 383v1M453.5 368v1M453.5 372v1M456.5 378v2M456.5 391v2M458.5 395v1M458.5 397v1M458.5 400v1M458.5 413v1M458.5 415v2M458.5 420v1M458.5 425v1M461.5 377v1M461.5 380v1M461.5 386v1M461.5 388v2M463.5 332v1M463.5 356v1M463.5 361v2M463.5 375v1M463.5 386v1M463.5 390v2M468.5 373v1M468.5 379v1M468.5 384v1M471.5 361v1M471.5 366v1M471.5 373v2M471.5 388v1M473.5 361v1M473.5 365v2M473.5 371v1M477.5 378v1M484.5 382v1M488.5 374v2M494.5 344v1M494.5 346v2M494.5 350v2M494.5 361v1M494.5 365v1M494.5 367v2M494.5 373v1M494.5 377v1M496.5 345v1M496.5 351v1M496.5 362v1M496.5 374v1M496.5 376v1M496.5 390v1M498.5 378v1M498.5 387v1M503.5 388v2M503.5 392v2M507.5 364v1M507.5 367v1M507.5 373v1M514.5 376v2M515.5 374v1M515.5 376v1M515.5 395v1M518.5 354v3M518.5 359v1M518.5 365v1M518.5 367v3M518.5 371v1M518.5 376v1M518.5 378v1M518.5 381v1M518.5 391v3M521.5 340v2M521.5 352v1M521.5 356v1M521.5 360v1M521.5 364v1M521.5 369v1M522.5 368v1M524.5 349v1M524.5 352v2M524.5 355v4M524.5 363v1M524.5 371v1M528.5 333v1M528.5 394v1M530.5 381v1M530.5 390v1M530.5 402v1M530.5 404v1M530.5 410v1M532.5 353v1M532.5 356v1M532.5 377v1M532.5 382v1M532.5 389v1M539.5 346v1M539.5 351v2M539.5 359v2M539.5 363v1M539.5 365v3M539.5 369v1M543.5 342v1M543.5 374v1M543.5 379v1M554.5 374v1M554.5 380v2M567.5 355v1M567.5 358v3M567.5 362v2M567.5 368v1M567.5 373v1M570.5 332v1M570.5 361v1M570.5 379v2M570.5 382v1M570.5 387v1M570.5 389v1M570.5 391v1M570.5 395v1M572.5 381v1M572.5 384v1M572.5 388v1M572.5 398v1M572.5 402v2M575.5 372v1M575.5 375v1M577.5 332v1M577.5 334v1M577.5 340v1M577.5 343v1M577.5 352v1M577.5 356v1M577.5 358v2M577.5 365v1M577.5 371v1M577.5 384v1M578.5 392v2M579.5 332v1M579.5 337v1M579.5 340v1M579.5 344v1M579.5 351v1M579.5 367v2M593.5 332v1M593.5 345v1M593.5 351v1M593.5 353v1M593.5 356v1M593.5 359v2M593.5 363v1M593.5 366v2M593.5 373v1M593.5 376v1M593.5 379v2M593.5 382v1M594.5 391v1M594.5 393v1M595.5 332v1M595.5 334v1M595.5 342v1M595.5 344v1M595.5 347v2M595.5 350v1M595.5 359v3M595.5 364v2M595.5 376v1M595.5 378v1M597.5 390v2M602.5 339v1M602.5 359v1M602.5 364v1M602.5 367v1M602.5 371v1M602.5 373v1M603.5 375v2M608.5 372v1M612.5 339v1M612.5 379v1M612.5 395v1M612.5 402v1M614.5 339v1M614.5 375v1M614.5 381v1M619.5 339v1M619.5 341v1M619.5 343v1M619.5 348v1M619.5 351v1M619.5 355v1M619.5 359v2M619.5 362v1M619.5 381v2M619.5 385v1M620.5 394v1M621.5 335v1M621.5 339v1M621.5 341v1M621.5 344v1M621.5 346v1M621.5 358v1M621.5 376v1M621.5 381v1M626.5 388v2M627.5 378v1M634.5 346v1M634.5 348v2M634.5 356v2M634.5 363v2M634.5 366v2M634.5 369v1M634.5 371v1M638.5 340v1M638.5 342v1M638.5 347v1M638.5 349v1M638.5 353v1M638.5 355v1M638.5 366v2M638.5 379v1M638.5 382v2M638.5 388v1M638.5 390v1M638.5 394v1M639.5 410v1M640.5 332v1M640.5 336v1M640.5 340v1M640.5 342v1M640.5 349v1M640.5 355v1M640.5 370v1M640.5 381v2M640.5 392v1M640.5 399v1M648.5 342v1M648.5 345v1M648.5 360v1M649.5 380v1M649.5 382v1M655.5 347v1M655.5 356v1M655.5 363v1M655.5 366v1M655.5 369v1M655.5 371v1M655.5 375v1M655.5 384v1M655.5 388v1M655.5 391v1M655.5 393v1M656.5 409v1M657.5 410v1M658.5 344v1M658.5 352v1M658.5 355v1M658.5 365v1M658.5 371v1M658.5 373v1M658.5 377v2M658.5 384v1M658.5 390v1M658.5 393v1M658.5 397v1M665.5 378v1M673.5 371v1M673.5 375v2M673.5 379v1M674.5 350v1M674.5 352v2M674.5 375v2M674.5 383v2M674.5 402v1M675.5 410v1M676.5 340v1M676.5 346v1M676.5 352v2M676.5 355v2M676.5 375v1M676.5 383v1M676.5 399v3M679.5 374v1M679.5 377v1M679.5 379v1M685.5 381v2M687.5 369v2M687.5 377v1M687.5 379v1M688.5 350v1M688.5 354v2M688.5 360v1M688.5 367v1M688.5 370v1M688.5 372v2M691.5 383v1M691.5 385v1M691.5 387v1M691.5 389v2" stroke="#393939"/>
<path d="M79.5 388v1M79.5 392v1M80.5 342v1M80.5 347v1M80.5 350v2M80.5 357v1M80.5 361v1M80.5 368v4M80.5 373v1M80.5 378v1M81.5 338v1M81.5 351v1M81.5 354v1M81.5 362v2M81.5 368v1M81.5 372v1M81.5 376v1M81.5 379v1M85.5 333v1M85.5 336v2M85.5 341v1M85.5 358v1M85.5 360v1M85.5 366v2M85.5 372v1M85.5 377v1M87.5 348v1M87.5 350v1M87.5 362v1M87.5 375v1M88.5 379v1M89.5 379v1M92.5 379v1M93.5 370v1M93.5 372v1M93.5 374v3M94.5 388v1M94.5 390v1M94.5 392v1M96.5 379v1M97.5 379v1M99.5 349v1M99.5 358v1M99.5 361v1M99.5 364v1M99.5 371v2M99.5 379v1M99.5 382v1M99.5 385v1M99.5 388v1M99.5 391v1M99.5 393v1M99.5 395v1M101.5 377v1M101.5 381v1M101.5 383v1M101.5 387v1M101.5 389v1M101.5 392v1M104.5 379v1M106.5 337v1M106.5 341v2M106.5 345v3M106.5 356v1M106.5 358v1M106.5 360v3M106.5 367v1M107.5 336v3M107.5 346v1M107.5 355v1M107.5 368v1M108.5 392v2M109.5 334v2M109.5 338v1M109.5 340v1M109.5 343v1M109.5 350v1M109.5 353v1M109.5 357v1M109.5 364v1M109.5 368v1M109.5 375v1M109.5 381v1M110.5 379v1M113.5 379v1M114.5 348v1M114.5 393v1M114.5 398v1M115.5 414v1M115.5 419v1M116.5 334v1M116.5 345v1M116.5 348v1M116.5 353v1M116.5 355v1M116.5 357v1M116.5 361v1M116.5 366v2M116.5 374v2M116.5 377v1M116.5 383v3M116.5 388v1M116.5 391v1M116.5 393v1M117.5 366v1M117.5 369v1M117.5 373v2M117.5 378v1M117.5 381v1M117.5 383v1M118.5 379v1M119.5 351v1M119.5 353v1M119.5 358v1M119.5 363v3M119.5 370v2M122.5 379v1M126.5 339v2M126.5 342v1M126.5 345v2M126.5 355v1M126.5 367v1M126.5 369v1M126.5 371v1M126.5 373v1M126.5 377v1M138.5 360v1M138.5 364v1M138.5 369v1M138.5 386v1M142.5 354v1M142.5 356v2M144.5 350v1M146.5 373v1M146.5 378v1M146.5 382v1M146.5 387v1M146.5 389v1M149.5 334v1M149.5 365v1M149.5 369v1M149.5 371v1M149.5 377v1M149.5 381v2M153.5 337v1M153.5 344v1M153.5 365v1M153.5 370v2M153.5 374v1M153.5 376v1M153.5 379v1M153.5 381v2M153.5 385v1M153.5 390v1M159.5 354v1M159.5 358v2M159.5 361v1M159.5 363v1M159.5 368v1M164.5 336v3M164.5 355v1M164.5 358v1M164.5 363v1M164.5 367v2M167.5 355v1M167.5 370v1M167.5 373v1M167.5 376v1M172.5 335v1M172.5 359v1M172.5 384v2M172.5 391v1M172.5 393v2M172.5 396v1M172.5 399v1M181.5 399v1M181.5 403v1M181.5 411v1M181.5 423v1M183.5 373v1M183.5 421v1M183.5 423v1M186.5 392v1M186.5 394v1M192.5 361v2M192.5 367v1M192.5 369v2M194.5 332v1M194.5 342v1M194.5 352v1M194.5 354v1M195.5 386v1M195.5 389v1M196.5 334v1M196.5 346v1M196.5 348v1M196.5 351v1M196.5 353v1M196.5 355v1M196.5 359v1M197.5 345v2M197.5 348v1M197.5 353v1M197.5 367v1M197.5 369v1M197.5 383v1M197.5 387v1M201.5 377v1M201.5 381v2M204.5 351v1M204.5 356v1M204.5 362v1M204.5 364v1M204.5 368v1M204.5 373v2M204.5 377v1M204.5 380v1M204.5 384v1M204.5 386v1M204.5 393v1M207.5 377v1M210.5 357v1M210.5 362v1M210.5 365v2M210.5 368v1M210.5 373v1M210.5 379v2M219.5 340v1M219.5 342v1M219.5 348v1M219.5 350v2M219.5 355v1M219.5 363v1M219.5 366v2M219.5 371v1M219.5 380v1M221.5 337v1M221.5 342v1M221.5 345v1M221.5 348v1M221.5 350v1M221.5 352v1M221.5 355v2M221.5 358v1M221.5 365v1M221.5 369v1M224.5 346v1M224.5 364v2M224.5 372v2M229.5 346v1M229.5 351v1M229.5 355v1M229.5 357v1M229.5 377v1M230.5 384v1M231.5 381v1M231.5 385v1M231.5 387v2M231.5 392v1M237.5 339v2M237.5 369v1M237.5 372v1M237.5 376v1M237.5 378v1M237.5 384v1M237.5 387v1M237.5 392v1M245.5 356v1M245.5 372v1M245.5 376v1M245.5 382v1M245.5 384v1M245.5 386v1M245.5 388v2M249.5 350v1M249.5 356v1M249.5 371v1M249.5 379v1M249.5 382v3M249.5 387v1M252.5 357v1M252.5 363v1M252.5 366v2M252.5 369v1M252.5 371v3M252.5 375v1M252.5 380v1M252.5 383v4M253.5 351v1M253.5 357v1M253.5 385v3M260.5 345v1M260.5 350v1M260.5 387v2M260.5 390v1M268.5 353v1M268.5 397v1M268.5 402v2M268.5 405v1M269.5 410v1M270.5 353v1M270.5 397v1M270.5 400v1M270.5 402v2M271.5 403v1M271.5 405v1M271.5 407v1M272.5 339v2M272.5 346v1M272.5 348v1M272.5 355v1M282.5 335v1M282.5 344v1M282.5 349v1M282.5 353v1M282.5 357v2M282.5 360v1M282.5 367v2M282.5 371v1M282.5 375v1M282.5 381v1M282.5 392v1M283.5 405v1M283.5 408v1M283.5 410v1M284.5 348v1M284.5 359v1M284.5 380v2M284.5 385v1M284.5 388v1M284.5 393v1M284.5 398v1M285.5 350v1M289.5 350v1M290.5 371v1M290.5 389v1M290.5 391v1M290.5 393v2M295.5 362v1M295.5 364v2M295.5 385v1M295.5 390v3M295.5 401v1M297.5 337v1M297.5 341v1M297.5 361v2M297.5 373v1M297.5 389v2M297.5 393v1M297.5 396v1M297.5 398v1M297.5 402v1M298.5 358v1M298.5 368v1M305.5 360v4M305.5 365v1M305.5 367v1M305.5 369v2M306.5 337v1M306.5 342v1M306.5 353v2M306.5 358v1M306.5 360v1M306.5 369v1M307.5 397v1M308.5 337v1M308.5 339v1M308.5 342v1M308.5 345v1M308.5 355v2M308.5 367v1M308.5 370v1M308.5 386v1M313.5 369v1M313.5 371v1M313.5 373v1M313.5 383v1M313.5 389v1M317.5 367v1M317.5 382v1M317.5 384v1M317.5 389v1M317.5 392v1M317.5 401v1M319.5 337v1M319.5 352v1M320.5 350v1M325.5 339v1M325.5 343v2M325.5 348v1M325.5 350v1M325.5 356v2M325.5 360v1M325.5 364v1M325.5 369v1M325.5 372v1M326.5 403v1M326.5 408v1M329.5 372v1M329.5 374v1M329.5 378v1M329.5 384v1M329.5 398v2M331.5 333v1M331.5 335v1M331.5 338v2M331.5 350v1M331.5 352v1M331.5 359v2M331.5 373v1M331.5 388v1M331.5 390v1M340.5 343v1M340.5 346v1M340.5 356v2M340.5 361v2M340.5 364v1M340.5 368v2M340.5 373v3M341.5 343v2M341.5 359v1M341.5 361v1M341.5 366v1M341.5 370v1M341.5 384v1M341.5 390v2M343.5 355v2M343.5 358v5M343.5 370v1M343.5 379v1M344.5 359v1M344.5 383v1M344.5 390v1M345.5 332v1M345.5 337v1M345.5 343v1M345.5 346v1M346.5 376v1M347.5 341v4M347.5 352v1M348.5 372v1M348.5 378v1M348.5 381v1M348.5 387v1M350.5 372v1M350.5 375v1M350.5 379v1M350.5 383v1M350.5 385v1M350.5 389v1M350.5 392v1M354.5 350v1M357.5 368v1M357.5 384v3M357.5 388v1M357.5 390v4M358.5 387v1M358.5 393v1M358.5 395v1M361.5 370v1M361.5 373v1M361.5 377v3M364.5 337v1M364.5 361v1M364.5 365v1M371.5 332v1M371.5 348v1M371.5 351v1M371.5 355v1M371.5 361v2M371.5 364v1M371.5 368v1M371.5 374v1M371.5 377v1M371.5 382v1M371.5 389v2M371.5 397v1M372.5 404v2M372.5 407v1M373.5 332v1M373.5 336v1M373.5 354v3M373.5 361v1M373.5 367v1M373.5 370v1M373.5 387v1M373.5 390v1M377.5 350v1M382.5 363v1M382.5 375v1M382.5 378v1M382.5 381v1M382.5 385v1M382.5 387v1M382.5 390v1M382.5 393v1M382.5 396v1M383.5 358v1M383.5 363v1M383.5 370v2M383.5 374v1M383.5 383v1M383.5 389v1M383.5 394v2M387.5 350v1M393.5 354v1M393.5 359v3M393.5 365v1M393.5 377v1M393.5 381v1M393.5 386v1M393.5 391v4M402.5 349v1M402.5 354v1M402.5 358v2M402.5 365v1M402.5 367v1M402.5 375v1M402.5 381v1M402.5 383v2M402.5 386v1M402.5 389v1M406.5 346v1M406.5 350v1M406.5 367v1M416.5 400v1M416.5 404v3M416.5 409v1M416.5 415v1M418.5 369v1M418.5 404v1M418.5 411v2M421.5 390v2M421.5 394v2M430.5 350v1M430.5 362v1M430.5 367v2M430.5 371v1M430.5 373v1M444.5 341v1M444.5 348v3M444.5 358v1M444.5 361v1M444.5 370v1M444.5 377v2M451.5 369v1M451.5 384v1M451.5 388v1M452.5 346v1M452.5 362v1M452.5 368v1M452.5 371v1M452.5 374v1M452.5 377v1M452.5 380v1M452.5 387v2M452.5 390v1M453.5 348v1M453.5 360v6M453.5 367v1M453.5 369v1M456.5 356v1M456.5 373v1M456.5 376v1M456.5 389v2M456.5 393v1M458.5 392v1M460.5 346v1M460.5 392v1M460.5 402v1M460.5 405v3M460.5 410v1M461.5 336v1M461.5 344v1M461.5 346v1M461.5 348v1M461.5 350v1M461.5 381v2M461.5 390v1M463.5 336v1M463.5 339v1M463.5 346v1M463.5 351v1M463.5 353v2M463.5 365v2M463.5 370v2M463.5 381v2M463.5 388v2M468.5 348v2M468.5 355v1M468.5 369v1M468.5 374v1M468.5 377v2M471.5 351v3M471.5 358v2M471.5 369v1M471.5 390v1M472.5 396v1M472.5 398v1M473.5 335v1M473.5 351v1M473.5 354v1M473.5 364v1M473.5 367v1M473.5 370v1M473.5 373v1M473.5 379v1M473.5 384v1M473.5 387v1M477.5 348v1M477.5 354v1M477.5 374v1M488.5 349v1M488.5 370v1M488.5 373v1M488.5 376v1M494.5 337v1M494.5 340v2M494.5 345v1M494.5 354v1M494.5 360v1M494.5 369v1M494.5 371v1M494.5 375v1M495.5 396v2M495.5 399v1M496.5 346v1M496.5 354v1M496.5 358v1M496.5 360v2M496.5 364v1M496.5 366v1M496.5 369v2M496.5 372v2M496.5 375v1M497.5 353v1M497.5 386v1M498.5 375v1M498.5 377v1M498.5 383v1M503.5 365v1M503.5 384v1M507.5 355v1M507.5 362v1M507.5 371v1M507.5 374v2M514.5 372v1M514.5 380v1M515.5 346v2M515.5 349v1M515.5 369v2M515.5 372v1M515.5 375v1M515.5 378v1M515.5 383v1M515.5 389v2M515.5 393v2M518.5 357v2M518.5 361v1M518.5 364v1M518.5 366v1M518.5 372v4M518.5 377v1M518.5 382v3M518.5 386v1M518.5 389v1M521.5 335v1M521.5 337v1M521.5 342v1M521.5 362v2M521.5 365v2M521.5 368v1M521.5 372v2M522.5 345v1M522.5 364v1M522.5 374v1M524.5 347v2M524.5 354v1M524.5 362v1M524.5 364v1M524.5 369v1M528.5 358v1M528.5 378v1M528.5 384v2M528.5 387v1M528.5 389v1M528.5 395v1M528.5 398v1M528.5 402v1M528.5 404v1M528.5 406v1M528.5 408v2M529.5 417v1M529.5 419v1M530.5 333v1M530.5 336v1M530.5 356v1M530.5 361v1M530.5 375v1M530.5 378v1M530.5 385v2M530.5 394v1M530.5 408v1M530.5 411v1M532.5 355v1M532.5 359v2M532.5 367v3M532.5 372v1M532.5 375v2M532.5 378v2M539.5 343v1M539.5 354v2M539.5 357v1M539.5 361v1M539.5 364v1M539.5 368v1M539.5 370v1M543.5 346v1M543.5 375v1M554.5 375v1M554.5 378v1M554.5 383v1M567.5 333v1M567.5 335v1M567.5 353v2M567.5 356v2M567.5 361v1M567.5 372v1M567.5 378v1M570.5 359v1M570.5 384v2M570.5 393v1M570.5 401v2M572.5 361v1M572.5 375v1M572.5 377v1M572.5 379v2M572.5 383v1M572.5 390v1M572.5 392v2M572.5 395v2M572.5 399v1M575.5 367v1M575.5 371v1M575.5 373v2M577.5 336v1M577.5 349v1M577.5 351v1M577.5 366v2M577.5 369v1M579.5 339v1M579.5 341v1M579.5 343v1M579.5 348v1M579.5 352v1M579.5 359v1M579.5 361v1M579.5 363v2M579.5 366v1M579.5 369v1M579.5 371v1M593.5 333v1M593.5 339v1M593.5 342v2M593.5 362v1M593.5 369v1M593.5 377v1M593.5 383v1M594.5 392v1M595.5 338v1M595.5 341v1M595.5 343v1M595.5 353v2M595.5 358v1M595.5 362v1M595.5 369v1M595.5 377v1M595.5 379v1M595.5 383v1M602.5 340v1M602.5 361v2M602.5 365v2M602.5 368v2M603.5 333v2M603.5 340v1M603.5 374v1M608.5 366v1M608.5 370v1M608.5 374v1M612.5 337v1M612.5 396v1M612.5 403v1M614.5 370v1M614.5 403v1M619.5 333v1M619.5 342v1M619.5 349v1M619.5 353v2M619.5 357v1M619.5 365v1M619.5 368v1M620.5 391v1M621.5 336v1M621.5 343v1M621.5 354v1M621.5 356v2M621.5 360v1M621.5 362v2M621.5 366v1M626.5 387v1M627.5 350v1M627.5 361v1M627.5 370v3M627.5 376v1M634.5 345v1M634.5 347v1M634.5 354v1M634.5 370v1M634.5 374v2M638.5 334v1M638.5 337v2M638.5 343v1M638.5 352v1M638.5 360v1M638.5 362v2M638.5 368v1M638.5 372v1M638.5 374v1M638.5 378v1M638.5 381v1M638.5 385v1M638.5 391v2M638.5 395v1M639.5 407v1M640.5 335v1M640.5 339v1M640.5 343v1M640.5 347v1M640.5 352v2M640.5 360v1M640.5 362v1M640.5 365v1M640.5 367v2M640.5 383v1M640.5 385v2M640.5 395v1M648.5 341v1M648.5 357v1M648.5 361v1M648.5 363v1M655.5 353v3M655.5 365v1M655.5 367v1M655.5 370v1M655.5 376v1M655.5 382v1M655.5 387v1M655.5 394v2M655.5 397v3M656.5 410v1M658.5 332v1M658.5 334v2M658.5 341v1M658.5 346v1M658.5 349v1M658.5 353v2M658.5 356v2M658.5 361v1M658.5 367v1M658.5 370v1M658.5 372v1M658.5 375v2M658.5 382v1M658.5 387v1M658.5 392v1M665.5 377v1M665.5 379v1M667.5 358v1M667.5 360v1M667.5 369v2M673.5 364v1M673.5 366v1M674.5 336v1M674.5 341v2M674.5 344v2M674.5 348v1M674.5 355v2M674.5 380v2M674.5 392v1M674.5 394v1M674.5 400v1M676.5 336v1M676.5 343v1M676.5 348v1M676.5 350v2M676.5 357v1M676.5 361v2M676.5 364v1M676.5 369v1M676.5 380v2M676.5 392v1M676.5 394v1M679.5 336v1M685.5 365v1M685.5 373v1M685.5 377v1M685.5 379v2M687.5 368v1M687.5 373v3M687.5 378v1M687.5 380v1M688.5 352v1M688.5 356v2M688.5 364v1M688.5 371v1M688.5 377v2M691.5 351v1M691.5 381v1M691.5 384v1M691.5 388v1" stroke="#3e3e3e"/>
<path d="M80.5 339v1M80.5 348v2M80.5 352v1M80.5 354v1M80.5 359v1M80.5 367v1M80.5 374v1M81.5 336v2M81.5 340v1M81.5 342v2M81.5 345v1M81.5 361v1M81.5 365v1M85.5 332v1M85.5 334v1M85.5 338v1M85.5 340v1M85.5 343v3M85.5 347v1M85.5 354v1M85.5 357v1M85.5 370v1M85.5 378v1M85.5 383v1M87.5 352v1M87.5 354v2M87.5 358v1M87.5 361v1M87.5 367v1M87.5 369v2M87.5 372v1M91.5 379v1M93.5 368v1M93.5 373v1M94.5 338v1M94.5 344v1M94.5 350v2M94.5 360v2M94.5 384v1M94.5 387v1M94.5 389v1M98.5 379v1M99.5 334v1M99.5 342v1M99.5 352v3M99.5 373v1M99.5 383v2M99.5 387v1M99.5 389v1M100.5 398v1M100.5 401v1M101.5 353v1M101.5 372v1M101.5 382v1M101.5 384v1M101.5 388v1M101.5 390v2M101.5 393v1M101.5 395v1M102.5 379v1M106.5 338v1M106.5 348v1M106.5 350v2M106.5 357v1M106.5 364v1M106.5 379v1M107.5 332v2M107.5 358v1M107.5 371v1M108.5 387v3M109.5 332v1M109.5 355v1M109.5 371v1M109.5 373v1M109.5 379v1M114.5 336v1M114.5 345v2M114.5 350v4M114.5 355v1M114.5 358v2M114.5 363v2M114.5 366v1M114.5 368v3M114.5 376v3M114.5 380v1M114.5 385v1M114.5 390v1M115.5 413v1M115.5 415v2M115.5 418v1M116.5 332v1M116.5 336v1M116.5 352v1M116.5 358v2M116.5 363v1M116.5 365v1M116.5 378v2M116.5 389v1M117.5 368v1M117.5 370v2M117.5 384v1M119.5 347v4M119.5 357v1M119.5 360v1M119.5 368v1M119.5 379v1M125.5 379v1M126.5 333v2M126.5 344v1M126.5 351v1M126.5 354v1M126.5 356v2M126.5 363v1M126.5 365v2M126.5 368v1M138.5 353v1M138.5 359v1M138.5 362v1M138.5 365v1M138.5 372v3M138.5 381v1M138.5 389v4M142.5 359v4M142.5 365v1M142.5 375v1M146.5 354v1M146.5 365v1M146.5 369v1M146.5 371v1M146.5 380v2M146.5 385v1M146.5 388v1M149.5 332v1M149.5 339v1M149.5 343v1M149.5 353v1M149.5 357v1M149.5 360v4M149.5 367v2M149.5 372v1M149.5 374v1M149.5 379v2M149.5 385v1M152.5 350v1M153.5 338v1M153.5 342v1M153.5 361v3M153.5 372v2M153.5 384v1M153.5 393v1M159.5 351v1M159.5 357v1M159.5 360v1M159.5 366v2M164.5 339v1M164.5 341v1M164.5 360v1M167.5 374v1M167.5 377v1M171.5 350v1M172.5 334v1M172.5 336v1M172.5 338v1M172.5 342v1M172.5 348v2M172.5 353v1M172.5 355v1M172.5 357v2M172.5 360v1M172.5 363v1M172.5 386v2M172.5 395v1M181.5 363v1M181.5 379v1M181.5 404v1M181.5 410v1M181.5 422v1M183.5 397v1M183.5 406v1M183.5 411v1M183.5 417v2M183.5 422v1M186.5 377v1M186.5 379v1M186.5 387v1M186.5 389v3M186.5 393v1M186.5 396v1M192.5 358v1M192.5 364v3M194.5 339v1M194.5 343v1M194.5 358v1M195.5 376v2M197.5 343v2M197.5 349v1M197.5 361v2M197.5 364v1M197.5 368v1M197.5 370v1M201.5 342v1M201.5 344v1M201.5 346v1M201.5 348v1M201.5 363v1M201.5 378v2M204.5 338v1M204.5 341v2M204.5 344v1M204.5 346v1M204.5 350v1M204.5 352v1M204.5 358v4M204.5 365v1M204.5 369v1M204.5 375v1M204.5 387v2M206.5 350v1M207.5 362v1M207.5 368v3M207.5 381v2M210.5 356v1M210.5 361v1M210.5 363v1M210.5 367v1M210.5 375v1M210.5 381v1M212.5 350v1M219.5 338v1M219.5 344v1M219.5 352v1M219.5 354v1M219.5 364v2M219.5 369v2M219.5 372v1M221.5 340v1M221.5 344v1M221.5 351v1M221.5 360v1M221.5 367v1M221.5 372v1M222.5 350v1M224.5 348v1M224.5 355v1M224.5 358v1M224.5 367v1M224.5 370v1M225.5 350v1M229.5 339v1M230.5 393v1M231.5 337v1M231.5 371v1M231.5 382v1M231.5 384v1M231.5 386v1M231.5 391v1M233.5 350v1M237.5 333v1M237.5 335v1M237.5 337v2M237.5 362v1M237.5 375v1M237.5 380v2M237.5 383v1M237.5 385v1M237.5 388v1M245.5 338v1M245.5 351v2M245.5 371v1M245.5 374v1M245.5 383v1M248.5 350v1M249.5 358v1M249.5 362v2M249.5 365v1M249.5 368v1M249.5 370v1M249.5 373v3M249.5 380v1M249.5 385v1M252.5 349v1M252.5 355v1M252.5 358v1M252.5 362v1M252.5 364v1M252.5 368v1M253.5 348v1M253.5 355v2M253.5 362v1M253.5 369v1M253.5 379v1M253.5 383v1M260.5 336v1M260.5 346v1M260.5 348v2M260.5 379v2M260.5 383v1M268.5 346v1M268.5 373v1M268.5 389v3M268.5 396v1M270.5 348v1M270.5 357v1M270.5 373v1M270.5 375v1M270.5 381v2M270.5 384v1M270.5 393v1M271.5 381v1M271.5 404v1M271.5 408v2M272.5 336v1M272.5 353v2M278.5 350v1M281.5 350v1M282.5 336v1M282.5 346v1M282.5 348v1M282.5 354v1M282.5 356v1M282.5 370v1M282.5 374v1M282.5 387v1M282.5 390v1M282.5 393v1M284.5 332v2M284.5 336v1M284.5 342v1M284.5 351v1M284.5 361v1M284.5 363v1M284.5 370v2M284.5 373v1M287.5 350v1M290.5 380v1M290.5 386v1M290.5 390v1M295.5 340v1M295.5 369v1M295.5 371v1M295.5 377v3M295.5 383v2M295.5 387v1M295.5 397v1M295.5 400v1M297.5 340v1M297.5 342v1M297.5 360v1M297.5 364v1M297.5 371v1M297.5 378v1M297.5 382v1M297.5 385v3M297.5 391v2M297.5 399v1M297.5 401v1M305.5 353v1M305.5 356v1M305.5 371v1M306.5 335v2M306.5 339v1M306.5 343v1M306.5 345v2M306.5 348v2M306.5 352v1M306.5 356v1M306.5 362v1M308.5 341v1M308.5 344v1M308.5 348v6M308.5 360v1M308.5 364v1M313.5 362v1M313.5 368v1M313.5 377v1M313.5 387v1M313.5 390v1M313.5 393v1M317.5 336v1M317.5 362v1M317.5 368v1M317.5 371v1M317.5 379v1M317.5 381v1M317.5 383v1M317.5 390v1M317.5 396v1M317.5 398v1M319.5 346v1M319.5 348v1M319.5 351v1M319.5 356v2M319.5 359v2M319.5 371v1M319.5 373v1M322.5 350v1M325.5 341v1M325.5 352v1M325.5 365v2M325.5 370v1M325.5 375v1M326.5 385v1M326.5 397v1M326.5 400v1M326.5 402v1M328.5 414v1M329.5 345v1M329.5 349v1M329.5 352v1M329.5 360v1M329.5 362v1M329.5 370v1M329.5 376v1M329.5 382v1M329.5 388v1M329.5 391v3M330.5 397v1M330.5 400v1M331.5 342v1M331.5 362v3M331.5 384v1M331.5 386v1M334.5 350v1M340.5 341v1M340.5 351v1M340.5 355v1M340.5 358v1M340.5 360v1M340.5 372v1M341.5 338v1M341.5 340v1M341.5 345v1M341.5 357v1M341.5 360v1M341.5 362v1M341.5 365v1M341.5 368v2M341.5 385v2M343.5 352v1M343.5 363v2M343.5 367v2M343.5 373v1M344.5 362v2M344.5 377v1M344.5 381v1M344.5 389v1M345.5 338v1M345.5 341v2M347.5 334v2M347.5 337v1M347.5 348v1M347.5 350v1M348.5 340v1M348.5 348v1M348.5 352v1M348.5 375v1M348.5 382v2M348.5 389v2M348.5 392v1M349.5 399v1M350.5 340v1M350.5 343v2M350.5 376v1M357.5 353v1M357.5 355v1M357.5 357v1M357.5 361v1M357.5 363v1M358.5 378v1M358.5 380v1M358.5 384v1M358.5 390v1M358.5 392v1M361.5 371v1M361.5 375v1M362.5 350v1M364.5 340v1M364.5 362v1M371.5 334v3M371.5 341v1M371.5 367v1M371.5 370v1M371.5 380v1M371.5 383v1M373.5 337v1M373.5 339v1M373.5 341v1M373.5 348v1M373.5 352v1M373.5 368v1M373.5 371v1M373.5 374v1M373.5 383v1M373.5 385v1M373.5 394v1M382.5 350v1M382.5 360v1M382.5 373v1M382.5 379v1M382.5 382v1M382.5 384v1M382.5 388v1M382.5 391v2M383.5 352v1M383.5 359v1M383.5 362v1M383.5 369v1M383.5 373v1M383.5 377v1M383.5 379v1M383.5 381v1M383.5 387v2M383.5 391v1M389.5 350v1M393.5 342v1M393.5 348v2M393.5 352v2M393.5 356v1M393.5 358v1M393.5 363v1M393.5 369v2M393.5 375v1M393.5 379v1M393.5 385v1M402.5 350v2M402.5 366v1M402.5 370v1M402.5 385v1M402.5 388v1M406.5 347v1M406.5 352v2M406.5 356v1M406.5 360v2M406.5 364v1M416.5 370v1M416.5 372v1M416.5 378v1M416.5 395v2M416.5 398v1M416.5 402v1M416.5 412v1M418.5 361v1M418.5 386v1M418.5 397v2M418.5 400v1M418.5 405v1M418.5 408v1M421.5 362v1M421.5 373v1M421.5 384v1M421.5 387v1M421.5 389v1M421.5 392v1M430.5 348v1M430.5 352v1M430.5 360v1M430.5 364v3M444.5 342v1M444.5 344v1M444.5 347v1M444.5 357v1M444.5 360v1M444.5 362v1M444.5 368v1M444.5 373v1M444.5 375v1M451.5 338v1M451.5 365v1M451.5 367v1M451.5 373v1M451.5 389v2M452.5 347v2M452.5 363v2M452.5 375v1M452.5 384v3M452.5 389v1M453.5 337v1M453.5 342v1M453.5 350v1M453.5 357v2M453.5 370v1M456.5 346v2M456.5 350v1M456.5 352v4M456.5 372v1M456.5 375v1M456.5 377v1M456.5 380v1M456.5 383v2M456.5 387v2M458.5 346v1M458.5 348v2M458.5 355v1M458.5 373v1M458.5 387v1M458.5 391v1M458.5 401v1M458.5 404v1M458.5 412v1M460.5 387v1M460.5 391v1M460.5 397v1M460.5 404v1M460.5 413v2M461.5 339v1M461.5 361v1M461.5 368v1M461.5 370v1M461.5 372v1M461.5 374v1M461.5 384v1M461.5 391v1M462.5 397v4M463.5 342v1M463.5 347v4M463.5 363v1M463.5 368v1M463.5 373v1M463.5 380v1M463.5 384v1M468.5 340v4M468.5 350v1M468.5 352v1M468.5 361v1M468.5 364v1M468.5 366v3M468.5 370v1M468.5 372v1M468.5 376v1M471.5 332v2M471.5 355v1M471.5 360v1M471.5 370v2M471.5 377v1M471.5 379v1M471.5 384v1M471.5 386v2M472.5 397v1M472.5 399v1M473.5 332v1M473.5 341v1M473.5 353v1M473.5 355v1M473.5 358v3M473.5 372v1M473.5 374v1M473.5 380v1M473.5 383v1M477.5 352v1M477.5 359v1M477.5 364v1M477.5 369v1M477.5 375v1M484.5 353v1M484.5 362v1M484.5 372v3M484.5 376v1M488.5 341v1M488.5 357v1M488.5 366v1M488.5 371v1M494.5 335v1M494.5 362v1M494.5 370v1M495.5 393v1M496.5 335v1M496.5 337v1M496.5 342v1M496.5 349v1M496.5 365v1M496.5 368v1M496.5 371v1M497.5 352v1M497.5 384v2M497.5 387v2M498.5 368v1M498.5 376v1M498.5 384v3M503.5 332v1M503.5 335v1M503.5 355v1M503.5 358v1M503.5 360v1M503.5 366v1M503.5 377v1M503.5 379v1M503.5 383v1M503.5 390v1M507.5 359v3M507.5 366v1M507.5 369v1M514.5 346v2M514.5 353v1M514.5 360v1M514.5 368v1M514.5 374v1M514.5 378v1M515.5 342v1M515.5 351v1M515.5 353v2M515.5 363v1M515.5 367v2M515.5 371v1M515.5 373v1M515.5 379v1M515.5 384v1M515.5 392v1M515.5 396v1M518.5 360v1M518.5 370v1M518.5 379v2M518.5 387v1M521.5 336v1M521.5 338v2M521.5 347v3M521.5 351v1M521.5 354v2M521.5 357v2M522.5 342v1M522.5 366v1M524.5 350v1M524.5 361v1M524.5 367v1M524.5 370v1M528.5 336v1M528.5 357v1M528.5 359v1M528.5 375v1M528.5 382v1M528.5 386v1M528.5 388v1M528.5 391v3M528.5 396v1M528.5 399v2M529.5 418v1M529.5 420v1M530.5 332v1M530.5 335v1M530.5 353v1M530.5 358v2M530.5 363v1M530.5 380v1M530.5 387v1M530.5 398v2M532.5 357v1M532.5 361v1M532.5 364v1M532.5 366v1M532.5 370v1M532.5 373v2M539.5 339v1M539.5 341v2M539.5 344v1M539.5 347v2M539.5 350v1M539.5 356v1M543.5 335v2M543.5 338v1M543.5 340v2M543.5 345v1M543.5 352v1M543.5 364v1M543.5 369v3M543.5 376v1M554.5 347v1M554.5 351v1M554.5 353v1M554.5 368v1M554.5 371v2M554.5 377v1M554.5 382v1M567.5 332v1M567.5 336v3M567.5 340v1M567.5 365v2M567.5 374v1M567.5 377v1M567.5 379v1M567.5 383v1M568.5 346v1M568.5 353v1M568.5 364v1M568.5 367v3M568.5 372v2M570.5 334v2M570.5 356v2M570.5 377v1M570.5 388v1M570.5 390v1M570.5 394v1M570.5 396v2M572.5 332v1M572.5 351v1M572.5 357v2M572.5 365v1M572.5 368v1M572.5 382v1M572.5 387v1M572.5 389v1M572.5 394v1M572.5 400v1M575.5 369v2M577.5 339v1M577.5 346v1M577.5 348v1M577.5 355v1M577.5 360v1M577.5 362v3M578.5 389v1M579.5 334v1M579.5 336v1M579.5 345v2M593.5 334v1M593.5 336v1M593.5 358v1M593.5 375v1M595.5 336v1M597.5 365v1M597.5 385v1M597.5 389v1M602.5 341v2M602.5 353v1M603.5 346v1M603.5 368v2M603.5 373v1M608.5 345v2M608.5 364v1M608.5 367v3M608.5 371v1M608.5 375v1M612.5 362v1M612.5 367v1M612.5 371v1M612.5 373v1M612.5 381v1M612.5 388v1M613.5 408v1M614.5 337v1M614.5 343v1M614.5 345v1M614.5 371v1M614.5 376v2M614.5 379v2M614.5 397v1M619.5 335v1M619.5 356v1M619.5 358v1M619.5 361v1M620.5 392v2M620.5 395v1M621.5 337v1M621.5 353v1M621.5 361v1M626.5 360v1M626.5 365v1M626.5 367v1M626.5 370v1M626.5 375v2M626.5 383v1M626.5 385v1M627.5 359v1M627.5 365v1M627.5 373v2M634.5 350v1M634.5 352v1M634.5 360v1M634.5 372v2M638.5 335v1M638.5 344v1M638.5 346v1M638.5 356v1M638.5 358v2M638.5 361v1M638.5 364v2M638.5 371v1M638.5 373v1M638.5 375v1M638.5 386v1M639.5 409v1M640.5 333v1M640.5 337v2M640.5 358v1M640.5 364v1M640.5 371v1M640.5 375v1M640.5 378v1M640.5 390v1M648.5 343v1M648.5 348v3M648.5 355v2M648.5 358v2M649.5 362v1M649.5 364v1M649.5 383v1M655.5 339v2M655.5 351v2M655.5 358v1M655.5 373v1M655.5 380v2M655.5 389v1M656.5 407v2M657.5 406v1M657.5 409v1M658.5 337v1M658.5 340v1M658.5 347v1M658.5 350v1M658.5 358v3M658.5 362v1M658.5 364v1M658.5 369v1M658.5 374v1M658.5 379v1M658.5 386v1M665.5 344v1M665.5 346v1M665.5 350v1M665.5 352v1M665.5 366v1M665.5 369v1M665.5 373v1M667.5 354v1M667.5 359v1M667.5 362v1M667.5 366v1M667.5 368v1M673.5 370v1M673.5 372v1M673.5 377v1M674.5 339v2M674.5 343v1M674.5 346v2M674.5 351v1M674.5 358v1M674.5 361v1M674.5 369v1M674.5 371v1M674.5 399v1M675.5 407v1M676.5 339v1M676.5 341v2M676.5 344v2M676.5 358v1M676.5 360v1M676.5 370v2M676.5 376v1M679.5 347v1M679.5 364v1M679.5 369v2M679.5 372v2M685.5 358v1M685.5 362v1M685.5 367v6M685.5 375v1M685.5 378v1M687.5 362v3M687.5 372v1M687.5 376v1M688.5 353v1M688.5 362v2M691.5 345v1M691.5 349v2M691.5 377v1M691.5 379v1M691.5 382v1" stroke="#434343"/>
<path d="M80.5 337v2M80.5 340v1M80.5 353v1M80.5 364v1M80.5 380v1M81.5 335v1M81.5 364v1M81.5 367v1M81.5 370v1M81.5 373v1M84.5 379v1M85.5 339v1M85.5 346v1M85.5 348v4M85.5 353v1M85.5 356v1M85.5 359v1M85.5 361v2M85.5 379v1M86.5 379v1M87.5 349v1M87.5 356v2M87.5 364v1M87.5 366v1M87.5 368v1M87.5 373v1M90.5 379v1M93.5 364v1M93.5 366v2M93.5 379v1M94.5 337v1M94.5 341v3M94.5 347v3M94.5 354v1M94.5 356v3M94.5 365v1M94.5 367v1M94.5 373v2M94.5 376v2M94.5 381v3M94.5 385v2M95.5 379v1M99.5 332v1M99.5 339v1M99.5 347v1M99.5 370v1M99.5 375v1M99.5 392v1M100.5 400v1M100.5 403v2M101.5 364v1M101.5 367v1M101.5 369v1M101.5 371v1M101.5 375v1M101.5 378v2M101.5 394v1M103.5 379v1M106.5 333v1M106.5 335v2M106.5 339v2M106.5 343v2M107.5 339v1M107.5 379v1M108.5 385v1M112.5 379v1M114.5 335v1M114.5 341v1M114.5 343v1M114.5 379v1M114.5 384v1M114.5 391v1M115.5 412v1M115.5 417v1M116.5 341v1M116.5 343v1M116.5 346v1M116.5 350v2M116.5 369v1M116.5 386v1M117.5 348v1M117.5 350v1M117.5 352v1M117.5 357v1M117.5 360v1M117.5 363v2M117.5 367v1M117.5 372v1M117.5 375v3M117.5 379v1M117.5 386v1M118.5 380v1M119.5 346v1M119.5 352v1M119.5 356v1M119.5 362v1M120.5 379v1M124.5 379v1M126.5 335v4M126.5 341v1M126.5 348v1M126.5 358v1M126.5 370v1M127.5 378v1M130.5 372v1M138.5 333v1M138.5 337v1M138.5 339v1M138.5 347v2M138.5 350v2M138.5 354v1M138.5 357v2M138.5 367v2M138.5 380v1M138.5 383v2M138.5 387v2M140.5 353v1M142.5 337v1M142.5 352v2M142.5 364v1M142.5 368v1M142.5 370v2M142.5 374v1M145.5 350v1M146.5 342v1M146.5 348v1M146.5 351v1M146.5 372v1M146.5 374v1M146.5 384v1M149.5 335v3M149.5 352v1M149.5 358v1M149.5 366v1M149.5 378v1M153.5 332v1M153.5 336v1M153.5 339v1M153.5 346v1M153.5 352v1M153.5 356v1M153.5 360v1M153.5 364v1M153.5 378v1M153.5 383v1M153.5 386v1M155.5 350v1M158.5 350v1M159.5 352v1M159.5 355v2M162.5 350v1M164.5 342v2M164.5 345v1M164.5 351v1M164.5 353v2M166.5 350v1M168.5 350v1M169.5 350v1M172.5 339v3M172.5 343v2M172.5 351v1M172.5 361v1M172.5 364v1M172.5 369v1M172.5 379v1M172.5 381v1M172.5 383v1M172.5 388v2M172.5 392v1M175.5 350v1M179.5 350v1M181.5 336v1M181.5 361v2M181.5 370v1M181.5 390v1M181.5 398v1M181.5 400v1M181.5 402v1M181.5 409v1M181.5 421v1M181.5 426v1M183.5 361v1M183.5 363v1M183.5 379v1M183.5 390v1M183.5 396v1M183.5 398v1M183.5 404v1M183.5 407v3M183.5 414v1M184.5 350v1M186.5 376v1M186.5 378v1M186.5 382v1M186.5 386v1M189.5 350v1M192.5 360v1M192.5 363v1M192.5 373v1M194.5 344v1M194.5 353v1M195.5 369v1M195.5 374v1M195.5 379v1M195.5 384v2M196.5 343v2M196.5 352v1M196.5 354v1M196.5 356v1M196.5 364v1M197.5 350v1M197.5 354v2M197.5 357v2M197.5 360v1M197.5 363v1M197.5 366v1M197.5 372v1M201.5 345v1M201.5 356v1M201.5 370v1M201.5 373v3M204.5 339v2M204.5 345v1M204.5 349v1M204.5 353v3M204.5 366v1M204.5 378v1M204.5 381v2M205.5 350v1M207.5 335v1M207.5 351v2M207.5 355v1M207.5 357v1M207.5 359v1M207.5 364v1M207.5 371v1M207.5 373v1M207.5 380v1M210.5 350v1M210.5 354v2M210.5 358v1M210.5 360v1M210.5 369v1M210.5 372v1M210.5 376v1M211.5 350v1M215.5 350v1M219.5 332v3M219.5 336v1M219.5 360v2M220.5 393v1M220.5 395v2M220.5 398v1M221.5 333v1M221.5 335v1M221.5 354v1M221.5 357v1M221.5 370v1M224.5 349v1M224.5 352v1M224.5 360v1M224.5 362v2M224.5 368v1M229.5 349v1M230.5 381v1M230.5 385v1M230.5 388v1M230.5 391v2M231.5 345v1M231.5 349v1M231.5 360v1M231.5 376v1M231.5 380v1M237.5 336v1M237.5 343v1M237.5 345v2M237.5 363v3M237.5 367v1M237.5 370v2M237.5 374v1M237.5 382v1M239.5 350v1M243.5 350v1M245.5 333v2M245.5 361v1M245.5 364v4M249.5 359v2M249.5 376v2M250.5 350v1M252.5 334v1M252.5 337v2M252.5 341v1M252.5 343v2M252.5 346v1M252.5 348v1M252.5 350v3M252.5 365v1M253.5 342v2M253.5 346v1M253.5 352v1M253.5 354v1M253.5 358v2M253.5 373v1M253.5 377v2M258.5 350v1M260.5 335v1M260.5 339v1M260.5 342v2M260.5 353v1M260.5 356v1M260.5 359v1M260.5 362v1M260.5 365v1M260.5 382v1M260.5 384v3M268.5 332v1M268.5 341v1M268.5 348v1M268.5 351v1M268.5 371v1M268.5 380v5M268.5 386v1M269.5 407v1M269.5 409v1M270.5 332v1M270.5 341v1M270.5 344v1M270.5 351v1M270.5 358v1M270.5 383v1M270.5 389v2M270.5 399v1M270.5 401v1M271.5 380v1M271.5 385v1M271.5 394v1M271.5 398v1M271.5 401v2M272.5 341v1M275.5 350v1M279.5 350v1M282.5 332v1M282.5 334v1M282.5 338v1M282.5 350v2M282.5 361v1M282.5 389v1M283.5 407v1M284.5 335v1M284.5 338v1M284.5 346v1M284.5 349v1M284.5 356v2M284.5 360v1M284.5 365v1M284.5 367v2M284.5 375v1M284.5 377v2M284.5 389v1M290.5 334v2M290.5 375v1M290.5 381v2M290.5 384v1M290.5 388v1M295.5 335v1M295.5 337v1M295.5 342v1M295.5 359v1M295.5 363v1M295.5 368v1M295.5 373v1M295.5 382v1M295.5 386v1M295.5 398v1M297.5 338v1M297.5 359v1M297.5 365v2M297.5 368v1M297.5 376v1M297.5 397v1M299.5 350v1M300.5 350v1M302.5 350v1M305.5 349v1M305.5 352v1M305.5 355v1M305.5 358v2M305.5 364v1M305.5 366v1M306.5 333v2M306.5 341v1M306.5 374v1M307.5 394v3M307.5 398v1M308.5 333v2M308.5 336v1M308.5 340v1M308.5 343v1M308.5 362v1M313.5 370v1M313.5 375v1M313.5 378v1M313.5 381v1M313.5 384v1M313.5 388v1M313.5 391v1M317.5 366v1M317.5 373v1M317.5 376v1M317.5 385v1M317.5 387v2M317.5 391v1M317.5 393v3M317.5 397v1M319.5 333v1M319.5 342v2M319.5 345v1M319.5 349v1M319.5 353v1M319.5 358v1M319.5 362v1M319.5 364v3M319.5 369v2M319.5 372v1M325.5 346v1M325.5 371v1M326.5 376v1M326.5 378v2M326.5 383v2M326.5 386v1M326.5 392v1M326.5 394v1M326.5 405v1M326.5 407v1M329.5 338v1M329.5 351v1M329.5 353v2M329.5 356v1M329.5 359v1M329.5 361v1M329.5 364v1M329.5 368v1M329.5 375v1M329.5 387v1M329.5 395v1M331.5 337v1M331.5 343v4M331.5 349v1M331.5 353v2M332.5 350v1M336.5 350v1M340.5 342v1M340.5 348v1M340.5 350v1M340.5 352v3M340.5 370v1M341.5 341v2M341.5 363v1M341.5 371v4M341.5 382v2M343.5 350v1M343.5 365v1M343.5 378v1M343.5 380v2M344.5 360v2M344.5 371v2M344.5 379v1M344.5 382v1M344.5 385v3M345.5 334v1M346.5 365v1M346.5 369v1M346.5 374v1M347.5 332v1M347.5 338v1M348.5 333v3M348.5 338v1M348.5 342v1M348.5 344v1M348.5 351v1M348.5 355v2M348.5 365v1M348.5 369v1M348.5 371v1M348.5 376v2M350.5 334v2M350.5 349v2M350.5 365v2M350.5 370v2M350.5 381v1M357.5 351v2M357.5 354v1M357.5 356v1M357.5 358v1M358.5 350v1M358.5 377v1M358.5 381v1M358.5 386v1M358.5 389v1M358.5 394v1M361.5 364v1M361.5 366v1M361.5 368v1M361.5 372v1M361.5 374v1M364.5 339v1M364.5 341v2M364.5 346v1M364.5 349v2M364.5 353v1M364.5 357v1M364.5 359v2M364.5 364v1M371.5 340v1M371.5 343v1M371.5 352v2M371.5 365v1M371.5 381v1M371.5 387v1M372.5 400v1M373.5 338v1M373.5 340v1M373.5 342v2M373.5 377v1M373.5 380v3M373.5 389v1M375.5 350v1M380.5 350v1M381.5 350v1M382.5 359v1M382.5 364v1M382.5 366v1M382.5 368v1M382.5 372v1M382.5 383v1M382.5 386v1M383.5 335v1M383.5 338v1M383.5 353v1M383.5 355v2M383.5 366v1M383.5 372v1M383.5 376v1M383.5 385v2M383.5 390v1M393.5 337v1M393.5 340v2M393.5 345v1M393.5 350v1M393.5 355v1M393.5 362v1M393.5 364v1M393.5 367v1M393.5 371v3M393.5 378v1M393.5 382v1M402.5 347v1M402.5 352v1M402.5 360v1M406.5 351v1M406.5 355v1M406.5 365v2M408.5 334v1M416.5 332v1M416.5 349v1M416.5 369v1M416.5 380v1M416.5 382v1M416.5 399v1M416.5 401v1M416.5 408v1M418.5 370v1M418.5 395v1M418.5 401v1M418.5 406v1M421.5 355v1M421.5 360v1M421.5 364v1M421.5 366v1M421.5 375v1M421.5 381v1M421.5 385v1M421.5 388v1M430.5 340v1M430.5 351v1M430.5 353v1M430.5 355v2M430.5 361v1M444.5 340v1M444.5 345v1M444.5 363v1M444.5 366v1M444.5 371v2M451.5 348v1M451.5 354v1M451.5 371v1M451.5 375v2M451.5 382v1M451.5 391v1M452.5 351v1M452.5 353v2M452.5 358v1M452.5 361v1M452.5 365v3M452.5 370v1M453.5 333v1M453.5 341v1M453.5 345v1M453.5 349v1M453.5 352v1M453.5 354v3M456.5 345v1M456.5 349v1M456.5 358v1M456.5 365v2M456.5 369v3M456.5 374v1M456.5 381v2M458.5 341v1M458.5 343v1M458.5 351v1M458.5 361v1M458.5 393v1M458.5 403v1M458.5 410v2M460.5 347v1M460.5 364v1M460.5 373v1M460.5 384v1M460.5 390v1M460.5 393v1M460.5 401v1M460.5 411v2M461.5 335v1M461.5 342v1M461.5 347v1M461.5 349v1M461.5 351v1M461.5 353v3M461.5 358v1M461.5 360v1M461.5 362v4M461.5 369v1M461.5 371v1M461.5 373v1M461.5 376v1M462.5 396v1M463.5 333v1M463.5 344v1M463.5 355v1M463.5 360v1M463.5 369v1M468.5 337v2M468.5 345v3M468.5 356v1M468.5 358v1M471.5 336v1M471.5 342v1M471.5 348v1M471.5 354v1M471.5 357v1M471.5 364v2M471.5 368v1M471.5 381v1M471.5 383v1M471.5 385v1M472.5 395v1M473.5 336v1M473.5 348v1M473.5 352v1M473.5 363v1M473.5 368v1M473.5 378v1M473.5 382v1M473.5 386v1M477.5 347v1M477.5 360v1M477.5 367v1M477.5 370v1M484.5 335v1M484.5 358v1M484.5 368v1M488.5 344v1M488.5 346v1M488.5 348v1M488.5 360v4M488.5 367v1M488.5 372v1M494.5 363v1M494.5 366v1M495.5 382v1M495.5 389v1M495.5 391v1M495.5 395v1M496.5 332v1M496.5 340v2M496.5 367v1M496.5 377v1M497.5 350v2M497.5 377v1M497.5 381v1M497.5 389v2M498.5 357v3M498.5 362v1M498.5 365v1M498.5 371v2M498.5 379v2M503.5 333v1M503.5 361v1M503.5 363v2M503.5 368v1M503.5 370v1M503.5 372v2M503.5 375v1M503.5 380v1M503.5 385v2M507.5 339v1M507.5 346v1M507.5 351v1M507.5 353v1M507.5 357v1M507.5 363v1M507.5 365v1M507.5 372v1M512.5 337v1M514.5 349v2M514.5 354v3M514.5 358v1M514.5 363v1M514.5 373v1M514.5 375v1M515.5 343v2M515.5 348v1M515.5 350v1M515.5 352v1M515.5 358v2M515.5 365v1M515.5 377v1M515.5 380v2M515.5 387v2M518.5 353v1M521.5 344v1M521.5 350v1M521.5 353v1M522.5 333v1M522.5 335v1M522.5 340v1M522.5 343v1M522.5 346v1M522.5 349v1M522.5 358v1M522.5 361v1M522.5 363v1M522.5 365v1M522.5 367v1M522.5 370v1M524.5 346v1M524.5 366v1M528.5 332v1M528.5 353v1M528.5 356v1M528.5 361v3M528.5 366v1M528.5 373v1M528.5 376v1M528.5 381v1M528.5 403v1M530.5 339v1M530.5 354v1M530.5 364v1M530.5 373v1M530.5 376v2M530.5 382v1M530.5 384v1M530.5 388v1M530.5 393v1M530.5 395v1M530.5 401v1M530.5 405v2M532.5 362v1M532.5 371v1M539.5 336v1M539.5 338v1M539.5 340v1M543.5 332v2M543.5 337v1M543.5 339v1M543.5 344v1M543.5 348v1M543.5 357v1M543.5 359v1M543.5 366v1M543.5 368v1M554.5 356v3M554.5 369v2M554.5 373v1M554.5 379v1M567.5 334v1M567.5 339v1M567.5 341v1M567.5 347v1M567.5 350v3M567.5 367v1M567.5 369v1M567.5 376v1M568.5 344v1M568.5 347v1M568.5 355v1M568.5 360v1M568.5 362v1M568.5 371v1M570.5 339v1M570.5 352v1M570.5 355v1M570.5 358v1M570.5 360v1M570.5 366v1M570.5 392v1M570.5 399v1M571.5 410v1M572.5 334v1M572.5 359v2M572.5 362v1M572.5 378v1M575.5 360v3M575.5 364v3M575.5 368v1M577.5 341v1M577.5 344v2M577.5 361v1M578.5 381v1M578.5 385v1M578.5 388v1M578.5 390v2M579.5 362v1M593.5 346v1M593.5 354v1M594.5 390v1M595.5 375v1M597.5 367v3M597.5 371v3M602.5 338v1M602.5 354v1M602.5 356v3M602.5 360v1M602.5 372v1M603.5 337v2M603.5 341v1M603.5 357v1M603.5 366v2M603.5 371v2M608.5 350v1M612.5 338v1M612.5 346v1M612.5 349v1M612.5 353v1M612.5 369v2M612.5 376v2M612.5 380v1M612.5 384v2M613.5 410v1M614.5 341v1M614.5 344v1M614.5 367v1M614.5 372v2M614.5 383v2M614.5 388v1M614.5 396v1M614.5 400v1M614.5 402v1M620.5 390v1M621.5 348v3M626.5 356v1M626.5 364v1M626.5 368v2M626.5 371v1M626.5 373v1M626.5 377v1M626.5 379v1M627.5 336v1M627.5 339v1M627.5 343v1M627.5 345v2M627.5 349v1M627.5 354v1M627.5 356v1M627.5 360v1M627.5 363v2M627.5 375v1M634.5 368v1M638.5 333v1M638.5 354v1M638.5 357v1M638.5 380v1M638.5 387v1M639.5 406v1M639.5 408v1M640.5 344v1M640.5 357v1M640.5 363v1M640.5 369v1M640.5 374v1M640.5 380v1M640.5 387v1M648.5 344v1M648.5 346v1M648.5 352v1M649.5 357v1M649.5 365v2M649.5 376v1M649.5 379v1M655.5 333v1M655.5 335v3M655.5 342v1M655.5 344v1M655.5 348v1M655.5 350v1M655.5 359v3M655.5 396v1M658.5 333v1M658.5 339v1M658.5 366v1M665.5 343v1M665.5 348v1M665.5 351v1M665.5 353v1M665.5 355v1M665.5 358v1M665.5 374v1M665.5 376v1M667.5 363v3M667.5 367v1M673.5 358v2M673.5 361v1M673.5 367v3M674.5 337v1M674.5 357v1M674.5 362v1M674.5 364v1M674.5 373v1M674.5 379v1M674.5 395v1M676.5 337v2M676.5 359v1M676.5 363v1M676.5 366v1M676.5 373v1M676.5 379v1M679.5 332v1M679.5 334v2M679.5 338v1M679.5 341v2M679.5 344v1M679.5 346v1M679.5 353v1M679.5 366v1M679.5 368v1M679.5 375v1M685.5 357v1M685.5 360v1M685.5 363v1M685.5 366v1M687.5 365v1M687.5 371v1M688.5 358v2M688.5 366v1M691.5 352v2M691.5 356v1M691.5 360v2M691.5 369v1M691.5 373v1M691.5 376v1M691.5 380v1" stroke="#484848"/>
<path d="M79.5 385v1M79.5 387v1M79.5 389v2M80.5 333v1M80.5 355v1M80.5 358v1M80.5 379v1M81.5 358v1M81.5 366v1M85.5 335v1M85.5 355v1M85.5 364v1M85.5 380v1M87.5 359v2M90.5 380v1M93.5 347v2M93.5 355v1M93.5 360v4M93.5 365v1M93.5 369v1M94.5 345v2M94.5 355v1M94.5 359v1M94.5 362v3M94.5 370v2M94.5 378v3M99.5 336v1M99.5 350v2M99.5 360v1M101.5 339v1M101.5 342v1M101.5 350v3M101.5 357v3M101.5 368v1M101.5 370v1M101.5 373v1M101.5 376v1M101.5 396v1M105.5 379v2M107.5 366v1M107.5 373v1M107.5 380v1M108.5 390v1M111.5 380v1M114.5 333v1M114.5 338v3M114.5 342v1M114.5 344v1M114.5 347v1M114.5 381v1M114.5 386v1M115.5 362v1M115.5 402v1M115.5 404v2M115.5 411v1M116.5 333v1M116.5 335v1M116.5 339v1M116.5 342v1M116.5 349v1M116.5 376v1M117.5 351v1M117.5 353v2M117.5 356v1M117.5 358v1M117.5 362v1M117.5 380v1M119.5 345v1M119.5 380v1M121.5 379v2M122.5 380v1M123.5 379v1M124.5 380v1M126.5 332v1M126.5 353v1M126.5 359v1M126.5 380v1M129.5 374v1M132.5 368v1M135.5 363v1M137.5 359v1M138.5 335v2M138.5 342v1M138.5 346v1M138.5 366v1M138.5 370v2M138.5 375v2M138.5 378v2M138.5 385v1M139.5 355v1M141.5 351v1M142.5 338v1M142.5 345v1M142.5 351v1M142.5 363v1M142.5 366v1M142.5 369v1M142.5 373v1M146.5 332v2M146.5 341v1M146.5 344v1M146.5 352v1M146.5 362v1M146.5 364v1M146.5 377v1M146.5 383v1M146.5 386v1M148.5 350v1M149.5 340v1M149.5 342v1M149.5 344v1M149.5 346v1M149.5 354v3M149.5 359v1M149.5 364v1M149.5 370v1M149.5 373v1M149.5 375v1M149.5 383v1M153.5 333v3M153.5 341v1M153.5 351v1M153.5 357v2M153.5 366v1M153.5 368v2M153.5 377v1M156.5 350v1M159.5 353v1M160.5 350v1M163.5 350v1M164.5 348v2M164.5 352v1M167.5 350v1M172.5 337v1M172.5 354v1M172.5 362v1M172.5 367v1M172.5 372v1M172.5 376v1M172.5 380v1M172.5 382v1M177.5 350v1M180.5 350v1M181.5 332v1M181.5 350v1M181.5 355v1M181.5 359v1M181.5 364v1M181.5 371v1M181.5 405v4M181.5 412v1M181.5 414v1M181.5 417v2M182.5 432v1M183.5 350v1M183.5 362v1M183.5 367v1M183.5 369v1M183.5 371v1M183.5 376v1M183.5 400v1M183.5 402v2M183.5 405v1M183.5 410v1M183.5 413v1M183.5 420v1M183.5 426v1M185.5 350v1M186.5 374v2M186.5 385v1M186.5 388v1M188.5 350v1M192.5 371v1M193.5 350v1M195.5 336v1M195.5 370v2M195.5 378v1M196.5 350v1M197.5 359v1M198.5 350v1M201.5 333v1M201.5 341v1M201.5 349v1M201.5 353v1M201.5 355v1M201.5 357v2M201.5 364v1M201.5 366v1M201.5 368v1M201.5 372v1M201.5 380v1M203.5 350v1M204.5 348v1M204.5 383v1M207.5 333v1M207.5 353v1M207.5 360v1M207.5 365v2M207.5 372v1M207.5 374v1M207.5 376v1M209.5 350v1M210.5 370v2M210.5 374v1M210.5 378v1M216.5 350v1M219.5 337v1M220.5 387v1M220.5 391v1M221.5 334v1M221.5 336v1M223.5 350v1M224.5 345v1M224.5 350v2M224.5 353v2M224.5 356v2M224.5 359v1M224.5 361v1M229.5 341v1M230.5 362v1M230.5 386v2M231.5 334v2M231.5 339v1M231.5 348v1M231.5 353v1M231.5 356v1M231.5 362v1M231.5 373v1M231.5 377v1M231.5 390v1M234.5 350v1M235.5 350v1M236.5 350v1M237.5 341v2M237.5 348v1M237.5 358v1M237.5 360v1M237.5 368v1M237.5 377v1M237.5 379v1M245.5 332v1M245.5 335v1M245.5 341v1M245.5 346v1M245.5 349v2M245.5 354v2M245.5 357v1M245.5 360v1M245.5 362v2M249.5 367v1M249.5 378v1M252.5 333v1M252.5 336v1M252.5 339v1M253.5 336v1M253.5 344v2M253.5 349v1M253.5 361v1M253.5 363v1M253.5 370v1M253.5 374v1M254.5 350v1M255.5 350v1M259.5 350v1M260.5 338v1M260.5 351v2M260.5 354v1M260.5 357v2M260.5 361v1M260.5 364v1M260.5 368v1M260.5 371v2M263.5 350v1M266.5 350v1M268.5 354v2M268.5 358v2M268.5 366v1M268.5 379v1M268.5 393v2M268.5 400v2M269.5 408v1M270.5 346v1M270.5 352v1M270.5 354v1M270.5 366v1M270.5 380v1M270.5 386v1M270.5 396v1M270.5 398v1M271.5 366v1M271.5 371v1M271.5 379v1M271.5 386v1M272.5 343v2M274.5 350v1M276.5 350v1M282.5 333v1M282.5 342v2M282.5 363v1M282.5 365v1M282.5 372v1M283.5 403v1M284.5 339v1M284.5 344v1M284.5 358v1M284.5 362v1M284.5 366v1M284.5 390v1M290.5 337v1M290.5 353v1M290.5 355v1M290.5 358v1M290.5 361v1M290.5 363v5M290.5 374v1M290.5 383v1M290.5 387v1M295.5 338v1M295.5 343v1M295.5 345v1M295.5 357v1M295.5 360v1M295.5 374v2M295.5 402v1M296.5 410v1M297.5 334v1M297.5 345v1M297.5 352v2M297.5 374v1M297.5 377v1M297.5 379v2M297.5 383v1M305.5 348v1M305.5 350v1M305.5 354v1M305.5 357v1M306.5 355v1M307.5 392v2M313.5 332v1M313.5 337v1M313.5 340v2M313.5 344v1M313.5 348v1M313.5 366v2M313.5 376v1M313.5 379v2M314.5 350v1M316.5 350v1M317.5 351v2M317.5 364v2M317.5 369v2M317.5 374v2M317.5 378v1M317.5 380v1M317.5 386v1M319.5 340v2M319.5 354v2M319.5 363v1M319.5 368v1M326.5 336v1M326.5 339v2M326.5 344v1M326.5 346v1M326.5 365v1M326.5 371v1M326.5 375v1M326.5 377v1M326.5 380v1M326.5 390v1M326.5 396v1M326.5 401v1M327.5 413v1M328.5 403v1M328.5 409v1M328.5 412v1M329.5 333v1M329.5 335v1M329.5 342v1M329.5 344v1M329.5 358v1M329.5 367v1M329.5 371v1M329.5 373v1M329.5 383v1M329.5 389v1M329.5 396v1M330.5 371v1M330.5 385v1M330.5 395v2M330.5 398v1M331.5 340v1M331.5 348v1M331.5 351v1M331.5 358v1M333.5 350v1M337.5 350v1M340.5 344v1M340.5 349v1M341.5 337v1M341.5 339v1M341.5 346v1M341.5 348v2M341.5 351v2M341.5 354v1M341.5 356v1M341.5 358v1M341.5 377v1M341.5 379v3M341.5 387v1M343.5 366v1M343.5 371v2M343.5 374v1M343.5 377v1M344.5 350v1M344.5 364v1M344.5 366v1M344.5 369v1M344.5 373v3M344.5 378v1M344.5 380v1M344.5 388v1M345.5 350v1M346.5 355v1M346.5 360v1M346.5 366v1M346.5 372v1M346.5 375v1M348.5 341v1M348.5 343v1M348.5 358v1M348.5 366v2M348.5 385v1M349.5 395v1M349.5 400v1M350.5 332v1M350.5 336v1M350.5 338v1M350.5 342v1M350.5 351v3M350.5 355v1M350.5 368v2M350.5 377v1M356.5 350v1M357.5 350v1M357.5 360v1M357.5 364v2M357.5 367v1M358.5 352v1M358.5 359v1M358.5 371v1M358.5 373v3M358.5 379v1M358.5 382v2M358.5 385v1M358.5 388v1M360.5 350v1M361.5 350v1M361.5 360v2M361.5 365v1M361.5 369v1M363.5 350v1M364.5 338v1M364.5 343v2M364.5 348v1M364.5 351v1M364.5 355v1M364.5 358v1M366.5 350v1M367.5 350v1M371.5 339v1M371.5 342v1M371.5 346v1M371.5 349v1M372.5 399v1M372.5 402v1M373.5 335v1M373.5 346v1M373.5 349v2M374.5 350v1M378.5 350v1M382.5 358v1M382.5 362v1M382.5 365v1M382.5 369v1M382.5 374v1M382.5 377v1M383.5 344v1M383.5 348v3M383.5 354v1M383.5 357v1M383.5 365v1M383.5 367v2M383.5 375v1M383.5 378v1M383.5 382v1M383.5 384v1M383.5 392v1M384.5 350v1M393.5 339v1M393.5 343v1M393.5 347v1M393.5 366v1M393.5 368v1M393.5 374v1M393.5 376v1M395.5 343v1M398.5 336v1M402.5 353v1M402.5 355v2M402.5 364v1M406.5 354v1M406.5 359v1M406.5 363v1M406.5 368v1M415.5 334v1M416.5 345v1M416.5 347v1M416.5 351v1M416.5 354v1M416.5 356v1M416.5 363v1M416.5 374v1M416.5 376v1M416.5 379v1M416.5 381v1M416.5 386v1M416.5 390v1M416.5 392v1M416.5 397v1M416.5 410v1M418.5 335v1M418.5 349v2M418.5 363v1M418.5 372v1M418.5 374v1M418.5 378v2M418.5 382v1M418.5 392v2M418.5 399v1M418.5 410v1M421.5 332v1M421.5 356v1M421.5 363v1M421.5 365v1M421.5 369v1M421.5 377v2M421.5 380v1M421.5 382v1M421.5 386v1M430.5 339v1M430.5 341v2M430.5 345v2M430.5 349v1M430.5 354v1M443.5 334v1M444.5 338v1M444.5 343v1M444.5 346v1M444.5 367v1M444.5 374v1M447.5 337v1M451.5 333v1M451.5 339v1M451.5 360v1M451.5 362v1M451.5 364v1M451.5 368v1M451.5 377v1M451.5 385v1M452.5 349v2M452.5 352v1M452.5 355v2M453.5 332v1M453.5 335v1M453.5 338v3M453.5 346v2M453.5 353v1M453.5 359v1M456.5 342v1M456.5 344v1M456.5 357v1M456.5 361v2M456.5 368v1M456.5 385v1M458.5 335v1M458.5 339v2M458.5 350v1M458.5 352v1M458.5 377v1M458.5 379v1M458.5 383v2M458.5 394v1M458.5 396v1M458.5 398v1M458.5 406v4M460.5 338v1M460.5 341v1M460.5 343v1M460.5 349v1M460.5 355v1M460.5 360v1M460.5 376v1M460.5 379v1M460.5 383v1M460.5 394v1M460.5 396v1M460.5 398v1M460.5 403v1M460.5 408v1M461.5 332v1M461.5 338v1M461.5 356v2M461.5 359v1M461.5 366v2M462.5 393v1M462.5 395v1M463.5 335v1M463.5 352v1M463.5 357v3M463.5 374v1M468.5 332v1M468.5 336v1M468.5 339v1M468.5 351v1M468.5 353v2M468.5 357v1M468.5 360v1M468.5 362v1M468.5 365v1M471.5 335v1M471.5 339v3M471.5 347v1M471.5 349v1M471.5 363v1M471.5 372v1M471.5 376v1M471.5 378v1M471.5 380v1M471.5 382v1M472.5 394v1M473.5 333v1M473.5 337v2M473.5 340v1M473.5 342v1M473.5 346v1M473.5 369v1M473.5 376v2M473.5 385v1M477.5 350v1M477.5 353v1M477.5 355v1M477.5 358v1M477.5 362v1M477.5 365v1M477.5 368v1M477.5 372v1M484.5 342v1M484.5 346v2M484.5 349v1M484.5 357v1M484.5 363v1M484.5 365v2M484.5 369v3M484.5 375v1M488.5 340v1M488.5 347v1M488.5 350v1M488.5 352v2M488.5 359v1M488.5 365v1M488.5 369v1M491.5 334v1M494.5 333v1M495.5 381v1M495.5 386v2M495.5 392v1M496.5 333v1M496.5 363v1M497.5 344v1M497.5 348v2M497.5 356v2M497.5 363v2M497.5 366v1M497.5 373v1M497.5 379v1M498.5 364v1M498.5 366v1M498.5 369v2M498.5 373v2M498.5 381v2M503.5 338v1M503.5 341v1M503.5 345v1M503.5 353v2M503.5 357v1M503.5 367v1M503.5 369v1M503.5 371v1M503.5 374v1M503.5 376v1M503.5 382v1M503.5 387v1M507.5 340v1M507.5 350v1M507.5 358v1M507.5 368v1M507.5 370v1M511.5 337v1M514.5 351v2M514.5 357v1M514.5 359v1M514.5 362v1M514.5 366v2M514.5 370v2M515.5 341v1M515.5 345v1M515.5 355v3M515.5 360v1M515.5 364v1M515.5 366v1M515.5 382v1M515.5 385v2M515.5 391v1M521.5 345v1M522.5 336v1M522.5 338v2M522.5 341v1M522.5 344v1M522.5 351v1M522.5 362v1M528.5 338v2M528.5 341v2M528.5 347v1M528.5 355v1M528.5 360v1M528.5 370v2M528.5 379v2M528.5 383v1M528.5 401v1M528.5 405v1M528.5 407v1M529.5 414v3M530.5 337v1M530.5 347v1M530.5 352v1M530.5 357v1M530.5 360v1M530.5 366v1M530.5 370v1M530.5 379v1M530.5 383v1M530.5 391v2M530.5 400v1M530.5 403v1M530.5 407v1M532.5 365v1M539.5 337v1M543.5 347v1M543.5 349v1M543.5 351v1M543.5 353v4M543.5 361v3M543.5 365v1M543.5 367v1M554.5 345v1M554.5 350v1M554.5 359v4M554.5 365v2M557.5 334v1M567.5 342v2M567.5 345v1M567.5 348v2M567.5 370v2M568.5 350v1M568.5 354v1M568.5 363v1M568.5 365v1M568.5 370v1M570.5 333v1M570.5 348v2M570.5 351v1M570.5 354v1M570.5 362v2M570.5 368v1M570.5 370v1M570.5 372v2M570.5 378v1M570.5 400v1M571.5 404v1M571.5 407v1M572.5 335v1M572.5 339v1M572.5 344v1M572.5 352v5M572.5 366v1M572.5 370v1M572.5 373v1M575.5 355v3M575.5 363v1M578.5 378v2M578.5 386v1M579.5 355v1M594.5 388v2M595.5 346v1M597.5 337v1M597.5 339v1M597.5 370v1M597.5 387v1M602.5 343v4M602.5 350v3M602.5 355v1M602.5 370v1M603.5 342v1M603.5 347v1M603.5 352v1M603.5 354v1M603.5 358v1M603.5 360v1M603.5 362v2M603.5 370v1M608.5 347v3M608.5 351v1M608.5 357v2M608.5 360v3M608.5 365v1M612.5 342v1M612.5 344v2M612.5 347v2M612.5 355v1M612.5 372v1M612.5 383v1M612.5 387v1M612.5 389v1M612.5 392v1M612.5 398v1M612.5 400v1M613.5 406v1M613.5 409v1M614.5 332v1M614.5 338v1M614.5 347v1M614.5 351v2M614.5 357v1M614.5 362v2M614.5 386v1M614.5 390v1M614.5 395v1M614.5 398v1M619.5 347v1M619.5 350v1M619.5 352v1M620.5 369v2M620.5 389v1M621.5 347v1M626.5 354v1M626.5 362v2M626.5 366v1M626.5 374v1M626.5 380v1M626.5 386v1M627.5 332v2M627.5 338v1M627.5 340v1M627.5 344v1M627.5 347v2M627.5 352v2M627.5 357v1M627.5 367v1M638.5 339v1M639.5 397v1M639.5 403v2M640.5 346v1M640.5 359v1M640.5 361v1M648.5 347v1M648.5 351v1M648.5 353v2M649.5 353v1M649.5 358v2M649.5 361v1M649.5 367v2M649.5 370v4M649.5 375v1M649.5 378v1M655.5 341v1M655.5 346v1M655.5 349v1M655.5 392v1M656.5 402v1M656.5 406v1M657.5 401v1M657.5 403v3M657.5 407v1M658.5 348v1M658.5 368v1M665.5 334v4M665.5 339v4M665.5 347v1M665.5 356v2M665.5 365v1M665.5 367v1M665.5 370v1M665.5 372v1M667.5 355v1M667.5 357v1M673.5 333v1M673.5 340v1M673.5 352v1M673.5 362v1M673.5 373v2M674.5 333v1M674.5 338v1M674.5 360v1M674.5 363v1M674.5 366v1M674.5 370v1M674.5 374v1M675.5 386v1M675.5 406v1M675.5 408v1M676.5 347v1M676.5 367v1M676.5 372v1M676.5 374v1M679.5 343v1M679.5 350v1M679.5 352v1M679.5 357v2M679.5 360v1M685.5 350v1M685.5 353v1M685.5 355v2M685.5 361v1M685.5 374v1M685.5 376v1M687.5 367v1M691.5 346v2M691.5 354v1M691.5 357v1M691.5 359v1M691.5 363v2M691.5 370v1M691.5 374v2M691.5 378v1" stroke="#4c4c4c"/>
<path d="M79.5 381v1M79.5 386v1M81.5 380v1M85.5 342v1M85.5 352v1M85.5 363v1M86.5 380v1M87.5 365v1M87.5 380v1M88.5 380v1M89.5 380v1M91.5 380v1M92.5 380v1M93.5 349v2M93.5 356v3M94.5 336v1M94.5 339v2M94.5 372v1M94.5 375v1M99.5 333v1M99.5 337v1M99.5 343v4M99.5 348v1M99.5 355v1M100.5 402v1M101.5 349v1M101.5 354v3M101.5 360v4M101.5 366v1M101.5 374v1M101.5 380v1M102.5 380v1M108.5 383v2M108.5 386v1M113.5 380v1M114.5 349v1M115.5 403v1M115.5 406v3M115.5 410v1M116.5 340v1M116.5 344v1M116.5 347v1M116.5 364v1M116.5 381v1M117.5 349v1M117.5 359v1M117.5 361v1M120.5 380v1M128.5 376v1M129.5 373v1M131.5 370v1M133.5 366v1M138.5 334v1M138.5 338v1M138.5 341v1M138.5 343v3M138.5 377v1M138.5 382v1M142.5 335v2M142.5 346v2M142.5 349v2M142.5 367v1M146.5 335v1M146.5 338v3M146.5 343v1M146.5 346v1M146.5 353v1M146.5 361v1M146.5 368v1M146.5 379v1M149.5 333v1M149.5 341v1M149.5 349v3M149.5 376v1M150.5 350v1M153.5 340v1M153.5 348v1M153.5 355v1M153.5 359v1M153.5 380v1M157.5 350v1M159.5 350v1M164.5 344v1M164.5 346v1M164.5 350v1M165.5 350v1M170.5 350v1M172.5 332v2M172.5 350v1M172.5 356v1M172.5 365v2M172.5 368v1M172.5 373v2M172.5 377v2M173.5 350v1M181.5 338v1M181.5 356v1M181.5 365v3M181.5 369v1M181.5 378v1M181.5 387v2M181.5 392v1M181.5 394v1M181.5 396v2M181.5 420v1M183.5 332v1M183.5 351v1M183.5 355v3M183.5 359v1M183.5 380v2M183.5 412v1M183.5 415v1M183.5 419v1M186.5 335v1M186.5 344v1M186.5 355v1M186.5 357v2M186.5 365v1M186.5 372v1M186.5 380v2M186.5 383v1M187.5 350v1M192.5 350v1M194.5 350v1M195.5 341v1M195.5 366v1M195.5 375v1M195.5 380v2M197.5 352v1M197.5 356v1M199.5 350v1M201.5 337v1M201.5 339v1M201.5 352v1M201.5 360v3M201.5 367v1M201.5 376v1M204.5 343v1M207.5 336v1M207.5 338v1M207.5 345v1M207.5 349v1M207.5 356v1M207.5 358v1M207.5 361v1M207.5 367v1M207.5 375v1M210.5 353v1M213.5 350v1M214.5 350v1M217.5 350v1M218.5 350v1M219.5 357v1M220.5 382v1M220.5 389v1M220.5 392v1M224.5 366v1M226.5 350v1M227.5 350v1M229.5 350v1M230.5 366v1M230.5 379v2M230.5 389v1M231.5 333v1M231.5 341v2M231.5 350v1M231.5 352v1M231.5 357v1M231.5 366v1M231.5 368v1M231.5 374v2M231.5 379v1M232.5 350v1M237.5 334v1M237.5 344v1M237.5 349v1M237.5 352v3M237.5 356v1M237.5 359v1M237.5 373v1M238.5 350v1M241.5 350v1M245.5 336v1M245.5 339v2M245.5 342v3M245.5 353v1M245.5 358v1M249.5 357v1M251.5 350v1M252.5 335v1M252.5 340v1M252.5 342v1M252.5 345v1M252.5 354v1M253.5 332v1M253.5 335v1M253.5 338v2M253.5 350v1M253.5 360v1M253.5 364v1M253.5 368v1M253.5 371v1M256.5 350v1M260.5 341v1M260.5 355v1M260.5 360v1M260.5 363v1M260.5 366v1M260.5 369v2M260.5 373v2M260.5 377v1M260.5 381v1M267.5 350v1M268.5 335v1M268.5 338v2M268.5 352v1M268.5 356v2M268.5 360v1M268.5 362v1M268.5 367v2M268.5 372v1M268.5 374v1M268.5 395v1M270.5 334v1M270.5 350v1M270.5 356v1M270.5 360v1M270.5 362v1M270.5 370v1M270.5 372v1M270.5 374v1M270.5 376v1M270.5 379v1M271.5 374v2M271.5 383v1M271.5 388v1M271.5 391v1M271.5 395v3M271.5 399v1M273.5 350v1M277.5 350v1M280.5 350v1M282.5 341v1M282.5 362v1M282.5 366v1M282.5 373v1M283.5 401v1M283.5 404v1M284.5 334v1M284.5 341v1M284.5 350v1M290.5 332v1M290.5 357v1M290.5 368v1M290.5 376v1M290.5 378v2M290.5 385v1M292.5 350v1M295.5 332v1M295.5 334v1M295.5 339v1M295.5 344v1M295.5 351v1M295.5 353v2M295.5 356v1M295.5 366v1M295.5 370v1M295.5 376v1M296.5 407v1M297.5 332v2M297.5 335v1M297.5 339v1M297.5 343v2M297.5 351v1M297.5 355v1M297.5 357v1M297.5 363v1M297.5 369v1M303.5 350v1M305.5 351v1M306.5 340v1M307.5 379v1M308.5 335v1M309.5 350v1M310.5 350v1M311.5 350v1M312.5 350v1M313.5 333v1M313.5 338v2M313.5 345v2M313.5 351v1M313.5 355v1M313.5 372v1M313.5 374v1M313.5 385v1M315.5 350v1M317.5 335v1M317.5 343v1M317.5 354v1M317.5 356v6M319.5 334v1M319.5 336v1M319.5 338v2M319.5 344v1M321.5 350v1M326.5 332v1M326.5 345v1M326.5 348v3M326.5 356v1M326.5 370v1M326.5 373v1M326.5 387v1M326.5 391v1M326.5 395v1M327.5 415v1M328.5 406v2M328.5 410v2M328.5 413v1M328.5 415v1M329.5 337v1M329.5 341v1M329.5 343v1M329.5 346v1M329.5 348v1M329.5 355v1M329.5 357v1M329.5 366v1M330.5 374v1M330.5 393v2M331.5 357v1M331.5 361v1M341.5 333v4M341.5 350v1M341.5 375v1M341.5 378v1M344.5 367v2M344.5 370v1M344.5 376v1M344.5 384v1M346.5 359v1M346.5 362v3M346.5 367v2M346.5 370v2M348.5 332v1M348.5 337v1M348.5 345v1M348.5 349v2M348.5 353v2M348.5 363v1M348.5 370v1M349.5 397v2M350.5 333v1M350.5 337v1M350.5 341v1M350.5 348v1M350.5 354v1M350.5 359v1M350.5 363v1M350.5 374v1M350.5 382v1M357.5 359v1M357.5 362v1M358.5 349v1M358.5 356v1M358.5 372v1M358.5 376v1M361.5 362v2M361.5 367v1M364.5 347v1M364.5 352v1M364.5 354v1M365.5 350v1M368.5 350v1M371.5 338v1M371.5 350v1M372.5 393v1M372.5 395v1M372.5 401v1M382.5 361v1M382.5 367v1M382.5 370v2M382.5 376v1M383.5 336v1M383.5 342v1M383.5 345v2M383.5 351v1M383.5 360v1M390.5 350v1M393.5 338v1M393.5 344v1M393.5 357v1M394.5 345v1M402.5 337v1M406.5 357v2M406.5 362v1M412.5 334v1M416.5 344v1M416.5 353v1M416.5 361v1M416.5 373v1M416.5 377v1M416.5 385v1M416.5 407v1M417.5 420v1M418.5 338v1M418.5 345v3M418.5 356v1M418.5 364v1M418.5 376v2M418.5 381v1M418.5 383v2M418.5 389v2M418.5 396v1M421.5 333v1M421.5 336v1M421.5 346v1M421.5 350v1M421.5 361v1M421.5 372v1M421.5 376v1M421.5 379v1M427.5 334v1M430.5 333v1M430.5 338v1M430.5 343v1M430.5 357v2M439.5 334v1M444.5 339v1M444.5 369v1M451.5 335v2M451.5 342v1M451.5 349v1M451.5 351v1M451.5 356v3M451.5 372v1M451.5 374v1M451.5 379v1M451.5 381v1M451.5 386v2M452.5 345v1M452.5 357v1M452.5 359v1M453.5 336v1M453.5 343v2M456.5 340v2M456.5 343v1M456.5 348v1M456.5 351v1M456.5 360v1M456.5 364v1M456.5 367v1M456.5 386v1M458.5 338v1M458.5 342v1M458.5 344v1M458.5 347v1M458.5 360v1M458.5 362v1M458.5 364v3M458.5 375v1M458.5 381v1M458.5 385v2M458.5 390v1M458.5 399v1M459.5 419v1M459.5 422v1M460.5 340v1M460.5 342v1M460.5 344v1M460.5 348v1M460.5 350v2M460.5 361v2M460.5 365v1M460.5 375v1M460.5 381v1M460.5 385v1M461.5 333v2M461.5 340v2M461.5 343v1M461.5 345v1M461.5 352v1M462.5 394v1M463.5 340v2M463.5 343v1M463.5 345v1M463.5 367v1M463.5 372v1M468.5 333v1M468.5 335v1M468.5 359v1M468.5 363v1M471.5 334v1M471.5 337v1M471.5 346v1M471.5 350v1M471.5 362v1M472.5 391v1M472.5 393v1M473.5 339v1M473.5 347v1M473.5 349v1M473.5 357v1M473.5 362v1M473.5 381v1M477.5 332v1M477.5 346v1M477.5 349v1M477.5 351v1M477.5 356v2M477.5 361v1M477.5 363v1M477.5 366v1M477.5 371v1M477.5 373v1M484.5 332v1M484.5 352v1M484.5 354v3M484.5 359v3M487.5 334v1M488.5 351v1M488.5 354v1M488.5 356v1M488.5 358v1M488.5 364v1M488.5 368v1M493.5 334v1M494.5 358v1M495.5 348v1M495.5 383v1M495.5 385v1M495.5 388v1M497.5 339v1M497.5 341v1M497.5 343v1M497.5 345v3M497.5 360v2M497.5 365v1M497.5 368v1M497.5 370v3M497.5 374v1M498.5 361v1M498.5 367v1M501.5 334v1M503.5 337v1M503.5 339v1M503.5 342v1M503.5 344v1M503.5 347v4M503.5 362v1M503.5 381v1M507.5 335v2M507.5 338v1M507.5 341v2M507.5 348v2M507.5 354v1M514.5 348v1M514.5 361v1M514.5 364v2M514.5 369v1M515.5 361v2M518.5 334v1M521.5 343v1M521.5 346v1M522.5 337v1M522.5 347v1M522.5 355v1M522.5 359v2M524.5 334v1M526.5 334v1M528.5 335v1M528.5 340v1M528.5 352v1M528.5 354v1M528.5 365v1M528.5 368v1M528.5 377v1M528.5 397v1M530.5 341v2M530.5 344v1M530.5 355v1M530.5 362v1M530.5 365v1M530.5 368v2M530.5 371v2M530.5 396v1M532.5 334v1M532.5 363v1M543.5 343v1M543.5 350v1M543.5 358v1M554.5 349v1M554.5 352v1M554.5 354v1M554.5 363v1M554.5 367v1M554.5 376v1M556.5 337v1M567.5 346v1M567.5 375v1M568.5 348v2M568.5 351v1M568.5 357v3M568.5 366v1M570.5 341v1M570.5 343v1M570.5 347v1M570.5 350v1M570.5 364v2M570.5 367v1M570.5 369v1M570.5 376v1M571.5 405v1M571.5 409v1M572.5 333v1M572.5 343v1M572.5 345v2M572.5 348v3M572.5 363v1M572.5 367v1M572.5 372v1M575.5 358v2M578.5 375v1M578.5 377v1M578.5 380v1M578.5 387v1M594.5 372v1M594.5 387v1M597.5 340v2M597.5 347v1M597.5 361v3M597.5 366v1M597.5 377v1M597.5 380v2M597.5 383v1M597.5 386v1M597.5 388v1M602.5 347v2M603.5 335v2M603.5 343v1M603.5 345v1M603.5 348v1M603.5 356v1M603.5 361v1M603.5 364v2M608.5 352v1M608.5 354v2M608.5 359v1M608.5 363v1M612.5 334v2M612.5 341v1M612.5 350v3M612.5 356v2M612.5 360v1M612.5 386v1M612.5 393v1M612.5 397v1M613.5 407v1M614.5 333v1M614.5 335v2M614.5 340v1M614.5 342v1M614.5 346v1M614.5 348v2M614.5 353v2M614.5 365v1M614.5 368v2M614.5 382v1M614.5 385v1M614.5 392v2M620.5 345v1M620.5 367v1M620.5 372v1M620.5 377v1M620.5 386v1M626.5 358v1M626.5 361v1M626.5 372v1M626.5 378v1M626.5 381v2M626.5 384v1M627.5 335v1M627.5 337v1M627.5 341v2M627.5 351v1M627.5 355v1M627.5 358v1M627.5 362v1M627.5 368v2M638.5 369v1M639.5 389v1M639.5 401v1M640.5 334v1M640.5 354v1M640.5 356v1M640.5 373v1M649.5 332v1M649.5 334v1M649.5 360v1M649.5 377v1M655.5 332v1M655.5 338v1M655.5 345v1M655.5 362v1M656.5 400v1M656.5 404v2M657.5 396v1M657.5 398v2M657.5 408v1M658.5 336v1M658.5 338v1M658.5 343v1M658.5 345v1M658.5 351v1M658.5 363v1M665.5 349v1M665.5 360v1M665.5 362v2M665.5 368v1M665.5 371v1M665.5 375v1M667.5 356v1M673.5 334v3M673.5 338v1M673.5 351v1M673.5 365v1M674.5 359v1M674.5 367v1M674.5 372v1M675.5 391v1M675.5 404v2M675.5 409v1M676.5 395v1M679.5 333v1M679.5 337v1M679.5 339v2M679.5 345v1M679.5 348v2M679.5 351v1M679.5 361v1M679.5 363v1M679.5 365v1M679.5 371v1M685.5 336v1M685.5 349v1M685.5 351v1M685.5 364v1M687.5 356v1M687.5 360v2M691.5 348v1M691.5 355v1M691.5 358v1M691.5 362v1M691.5 365v1M691.5 367v1M691.5 371v2" stroke="#515151"/>
<path d="M79.5 372v1M79.5 382v1M80.5 343v1M80.5 363v1M80.5 366v1M82.5 380v1M87.5 363v1M93.5 352v1M93.5 380v1M94.5 352v2M94.5 366v1M94.5 368v1M99.5 335v1M99.5 338v1M99.5 340v1M100.5 377v1M100.5 396v1M100.5 399v1M101.5 334v1M101.5 346v3M101.5 365v1M104.5 380v1M108.5 347v2M108.5 351v1M108.5 370v1M108.5 378v1M109.5 380v1M115.5 360v1M115.5 394v1M115.5 401v1M115.5 409v1M116.5 338v1M116.5 380v1M125.5 380v1M126.5 360v2M126.5 364v1M127.5 377v1M128.5 375v1M134.5 365v1M135.5 362v1M136.5 360v2M137.5 358v1M138.5 332v1M138.5 352v1M139.5 354v1M140.5 352v1M141.5 350v1M142.5 340v3M142.5 344v1M142.5 348v1M142.5 372v1M145.5 347v1M146.5 349v1M146.5 355v1M146.5 359v2M146.5 363v1M146.5 366v2M149.5 345v1M149.5 348v1M153.5 343v1M153.5 349v2M153.5 353v2M167.5 347v1M172.5 370v2M176.5 350v1M181.5 333v1M181.5 335v1M181.5 339v1M181.5 357v2M181.5 360v1M181.5 374v3M181.5 380v1M181.5 383v1M181.5 386v1M181.5 389v1M181.5 401v1M181.5 413v1M181.5 415v2M181.5 419v1M182.5 428v1M182.5 431v1M183.5 335v1M183.5 339v1M183.5 360v1M183.5 365v2M183.5 368v1M183.5 370v1M183.5 372v1M183.5 375v1M183.5 378v1M183.5 384v1M183.5 387v1M183.5 392v4M183.5 401v1M183.5 416v1M186.5 345v2M186.5 348v1M186.5 351v2M186.5 361v1M186.5 366v1M186.5 370v2M186.5 384v1M195.5 335v1M195.5 340v1M195.5 361v1M195.5 365v1M195.5 367v1M195.5 372v1M200.5 350v1M201.5 340v1M201.5 343v1M201.5 350v1M201.5 354v1M201.5 359v1M201.5 369v1M201.5 371v1M207.5 332v1M207.5 337v1M207.5 339v3M207.5 344v1M207.5 346v1M207.5 348v1M207.5 350v1M207.5 354v1M207.5 363v1M207.5 378v1M208.5 347v1M220.5 339v1M220.5 353v1M220.5 383v2M220.5 386v1M220.5 394v1M221.5 361v1M230.5 333v1M230.5 343v2M230.5 348v1M230.5 350v1M230.5 356v1M230.5 358v1M230.5 368v3M230.5 372v3M230.5 376v1M230.5 383v1M231.5 332v1M231.5 336v1M231.5 340v1M231.5 343v1M231.5 351v1M231.5 355v1M231.5 358v2M231.5 365v1M231.5 367v1M231.5 372v1M231.5 378v1M237.5 332v1M237.5 351v1M237.5 355v1M237.5 357v1M245.5 345v1M245.5 348v1M245.5 359v1M246.5 350v1M253.5 333v2M253.5 341v1M253.5 365v3M253.5 372v1M253.5 375v1M257.5 350v1M260.5 337v1M260.5 340v1M260.5 367v1M260.5 375v2M261.5 350v1M262.5 350v1M264.5 350v1M266.5 347v1M268.5 333v1M268.5 337v1M268.5 344v1M268.5 361v1M268.5 370v1M268.5 377v2M268.5 398v1M269.5 406v1M270.5 336v4M270.5 342v1M270.5 345v1M270.5 349v1M270.5 355v1M270.5 364v1M270.5 367v1M270.5 371v1M270.5 377v1M270.5 394v2M271.5 334v1M271.5 358v1M271.5 360v1M271.5 367v1M271.5 369v2M271.5 372v1M271.5 376v3M271.5 382v1M271.5 384v1M271.5 387v1M271.5 389v2M271.5 392v2M271.5 400v1M282.5 337v1M282.5 339v1M283.5 396v1M283.5 402v1M283.5 406v1M284.5 337v1M284.5 343v1M284.5 372v1M288.5 347v1M290.5 333v1M290.5 338v3M290.5 342v1M290.5 344v2M290.5 348v1M290.5 350v1M290.5 354v1M290.5 356v1M290.5 360v1M290.5 370v1M290.5 372v2M294.5 350v1M295.5 333v1M295.5 352v1M295.5 355v1M295.5 372v1M295.5 380v1M296.5 406v1M296.5 408v2M297.5 375v1M301.5 347v1M305.5 347v1M307.5 361v1M307.5 371v1M307.5 384v1M313.5 334v1M313.5 342v1M313.5 350v1M313.5 352v1M313.5 356v1M313.5 360v1M313.5 364v1M313.5 382v1M313.5 386v1M317.5 333v2M317.5 344v2M317.5 349v2M317.5 353v1M317.5 363v1M317.5 372v1M318.5 350v1M319.5 350v1M319.5 367v1M326.5 333v2M326.5 351v2M326.5 357v2M326.5 363v1M326.5 366v1M326.5 369v1M326.5 374v1M326.5 381v1M326.5 388v1M327.5 409v2M328.5 380v1M328.5 401v1M328.5 405v1M328.5 408v1M329.5 332v1M329.5 334v1M329.5 336v1M329.5 340v1M329.5 347v1M329.5 365v1M329.5 369v1M329.5 386v1M330.5 341v1M330.5 369v1M330.5 372v1M330.5 383v1M331.5 355v1M341.5 376v1M346.5 354v1M346.5 357v1M346.5 361v1M348.5 357v1M348.5 362v1M348.5 368v1M348.5 373v2M349.5 393v1M350.5 346v1M350.5 356v1M350.5 358v1M350.5 364v1M350.5 373v1M352.5 350v1M356.5 347v1M358.5 338v1M358.5 341v3M358.5 357v1M358.5 360v1M358.5 362v3M358.5 368v3M358.5 391v1M361.5 359v1M364.5 356v1M371.5 347v1M372.5 360v1M372.5 398v1M382.5 380v1M383.5 332v1M383.5 337v1M383.5 339v1M383.5 341v1M383.5 343v1M391.5 350v1M392.5 350v1M394.5 344v1M395.5 342v1M396.5 340v1M397.5 338v1M400.5 337v1M401.5 334v1M404.5 334v1M405.5 334v1M406.5 334v1M407.5 334v1M410.5 334v1M416.5 338v1M416.5 346v1M416.5 350v1M416.5 365v1M416.5 368v1M416.5 388v1M416.5 391v1M416.5 393v2M416.5 403v1M417.5 418v1M418.5 344v1M418.5 348v1M418.5 353v1M418.5 357v1M418.5 373v1M418.5 380v1M418.5 388v1M418.5 391v1M418.5 394v1M418.5 403v1M419.5 334v1M420.5 334v1M421.5 335v1M421.5 337v1M421.5 341v1M421.5 343v1M421.5 347v2M421.5 352v2M421.5 358v2M421.5 367v2M421.5 370v2M421.5 374v1M423.5 334v1M430.5 332v1M430.5 336v1M430.5 344v1M430.5 347v1M436.5 334v1M438.5 334v1M444.5 334v1M449.5 334v1M449.5 337v1M451.5 332v1M451.5 337v1M451.5 343v2M451.5 352v2M451.5 359v1M451.5 361v1M451.5 363v1M451.5 366v1M451.5 378v1M451.5 380v1M451.5 383v1M452.5 334v1M452.5 360v1M453.5 334v1M453.5 351v1M454.5 334v1M456.5 334v1M456.5 359v1M456.5 363v1M458.5 333v2M458.5 336v2M458.5 353v1M458.5 367v1M458.5 369v2M458.5 372v1M458.5 380v1M458.5 382v1M458.5 388v2M459.5 418v1M459.5 423v1M460.5 336v2M460.5 345v1M460.5 352v1M460.5 354v1M460.5 367v1M460.5 369v1M460.5 378v1M460.5 380v1M460.5 382v1M460.5 386v1M460.5 388v1M460.5 409v1M461.5 337v1M462.5 377v1M463.5 334v1M463.5 337v2M465.5 334v1M469.5 334v1M471.5 338v1M471.5 344v1M471.5 375v1M472.5 356v1M473.5 334v1M473.5 344v2M473.5 350v1M473.5 375v1M475.5 334v1M477.5 340v1M477.5 343v1M477.5 345v1M478.5 334v1M484.5 343v1M484.5 350v2M488.5 342v2M488.5 345v1M488.5 355v1M494.5 332v1M494.5 334v1M494.5 342v1M495.5 343v1M495.5 356v1M495.5 359v1M495.5 378v3M495.5 384v1M497.5 335v1M497.5 340v1M497.5 354v1M497.5 358v1M497.5 375v1M497.5 380v1M497.5 382v2M498.5 360v1M498.5 363v1M503.5 334v1M503.5 336v1M503.5 340v1M503.5 351v1M503.5 359v1M503.5 378v1M504.5 334v1M506.5 334v1M507.5 333v1M507.5 344v2M507.5 347v1M507.5 352v1M507.5 356v1M508.5 334v1M512.5 334v1M514.5 334v1M521.5 334v1M522.5 334v1M522.5 350v1M523.5 334v1M523.5 337v1M525.5 334v1M527.5 334v1M528.5 337v1M528.5 343v3M528.5 349v1M528.5 372v1M529.5 412v2M530.5 338v1M530.5 340v1M530.5 343v1M530.5 345v1M530.5 348v2M530.5 351v1M530.5 397v1M535.5 334v1M536.5 334v1M537.5 334v1M538.5 334v1M540.5 334v1M543.5 360v1M546.5 334v1M554.5 348v1M567.5 344v1M568.5 343v1M568.5 345v1M568.5 352v1M568.5 356v1M570.5 340v1M570.5 344v1M570.5 346v1M570.5 353v1M570.5 374v1M571.5 406v1M572.5 336v1M572.5 338v1M572.5 341v1M572.5 347v1M572.5 364v1M572.5 369v1M572.5 371v1M572.5 376v1M572.5 397v1M578.5 335v1M578.5 354v1M578.5 357v1M578.5 372v1M578.5 374v1M578.5 376v1M578.5 382v2M594.5 337v1M594.5 345v1M594.5 355v1M594.5 357v1M594.5 374v1M594.5 382v1M594.5 385v1M597.5 332v3M597.5 342v1M597.5 346v1M597.5 351v1M597.5 358v1M597.5 364v1M597.5 374v1M597.5 376v1M597.5 379v1M602.5 349v1M603.5 332v1M603.5 339v1M603.5 344v1M603.5 350v2M603.5 353v1M603.5 359v1M608.5 344v1M608.5 356v1M612.5 332v1M612.5 340v1M612.5 359v1M612.5 363v4M612.5 374v1M612.5 382v1M612.5 391v1M613.5 405v1M614.5 334v1M614.5 350v1M614.5 355v2M614.5 361v1M614.5 364v1M614.5 366v1M614.5 374v1M614.5 387v1M614.5 391v1M614.5 394v1M620.5 334v1M620.5 344v1M620.5 364v2M620.5 374v1M620.5 378v1M620.5 383v1M620.5 387v1M621.5 352v1M626.5 353v1M626.5 355v1M626.5 357v1M626.5 359v1M627.5 334v1M627.5 366v1M639.5 384v1M639.5 396v1M639.5 398v1M639.5 400v1M639.5 405v1M640.5 350v1M649.5 333v1M649.5 337v1M649.5 340v1M649.5 346v3M649.5 356v1M649.5 363v1M649.5 369v1M649.5 374v1M655.5 334v1M656.5 364v1M656.5 368v1M656.5 374v1M656.5 401v1M656.5 403v1M657.5 402v1M658.5 381v1M665.5 332v1M665.5 338v1M665.5 345v1M665.5 354v1M665.5 359v1M665.5 361v1M665.5 364v1M667.5 361v1M673.5 332v1M673.5 341v4M673.5 346v3M673.5 356v1M673.5 360v1M673.5 363v1M674.5 332v1M674.5 368v1M675.5 377v1M675.5 390v1M676.5 332v1M676.5 335v1M676.5 368v1M679.5 355v1M679.5 359v1M679.5 367v1M685.5 338v1M685.5 343v1M685.5 347v1M685.5 352v1M685.5 354v1M685.5 359v1M687.5 355v1M691.5 366v1M691.5 368v1" stroke="#565656"/>
<path d="M79.5 335v1M79.5 383v1M80.5 365v1M83.5 380v1M84.5 380v1M93.5 354v1M94.5 369v1M95.5 380v1M96.5 380v1M98.5 380v1M99.5 380v1M100.5 365v2M100.5 368v1M100.5 378v1M100.5 380v2M100.5 386v1M101.5 332v1M101.5 336v2M101.5 340v1M101.5 344v2M103.5 380v1M106.5 380v1M108.5 341v2M108.5 344v3M108.5 349v1M108.5 360v3M108.5 367v1M108.5 372v1M108.5 376v2M108.5 379v1M108.5 382v1M109.5 366v1M110.5 380v1M115.5 337v1M115.5 356v1M115.5 372v1M115.5 395v3M115.5 399v2M117.5 355v1M123.5 380v1M126.5 362v1M130.5 371v1M133.5 365v1M138.5 349v1M138.5 356v1M142.5 339v1M142.5 343v1M143.5 350v1M146.5 336v2M146.5 345v1M146.5 358v1M149.5 347v1M151.5 347v1M153.5 345v1M163.5 347v1M172.5 375v1M181.5 334v1M181.5 337v1M181.5 343v1M181.5 345v1M181.5 353v1M181.5 368v1M181.5 381v2M181.5 391v1M181.5 395v1M182.5 424v1M182.5 429v1M183.5 336v3M183.5 352v1M183.5 358v1M183.5 364v1M183.5 374v1M183.5 377v1M183.5 383v1M183.5 386v1M183.5 388v2M183.5 391v1M186.5 332v2M186.5 339v1M186.5 341v1M186.5 349v2M186.5 353v2M186.5 356v1M186.5 360v1M186.5 362v1M186.5 364v1M186.5 367v2M186.5 373v1M187.5 347v1M192.5 347v1M195.5 333v1M195.5 337v2M195.5 345v1M195.5 358v1M195.5 360v1M195.5 362v2M195.5 368v1M198.5 347v1M201.5 334v3M201.5 338v1M201.5 351v1M201.5 365v1M203.5 347v1M207.5 342v1M220.5 345v1M220.5 374v2M220.5 380v1M220.5 385v1M220.5 388v1M230.5 332v1M230.5 335v2M230.5 345v1M230.5 352v1M230.5 354v1M230.5 359v1M230.5 363v1M230.5 375v1M230.5 378v1M231.5 338v1M231.5 369v2M237.5 350v1M237.5 361v1M237.5 366v1M245.5 337v1M251.5 347v1M253.5 340v1M256.5 347v1M265.5 347v1M268.5 334v1M268.5 336v1M268.5 340v1M268.5 343v1M268.5 347v1M268.5 349v2M268.5 364v1M268.5 376v1M270.5 333v1M270.5 335v1M270.5 343v1M270.5 359v1M270.5 361v1M270.5 363v1M270.5 365v1M270.5 368v1M270.5 378v1M271.5 332v2M271.5 342v1M271.5 345v1M271.5 356v1M271.5 359v1M271.5 362v1M271.5 364v2M272.5 350v1M279.5 347v1M282.5 378v1M283.5 386v1M283.5 391v1M283.5 395v1M283.5 397v1M290.5 343v1M290.5 347v1M290.5 351v2M290.5 359v1M290.5 362v1M290.5 369v1M290.5 377v1M293.5 347v1M295.5 350v1M296.5 405v1M297.5 346v1M297.5 350v1M297.5 354v1M297.5 356v1M297.5 370v1M297.5 372v1M299.5 347v1M306.5 350v1M307.5 365v1M307.5 372v1M307.5 375v3M307.5 381v2M307.5 385v1M307.5 387v5M313.5 336v1M313.5 343v1M313.5 349v1M313.5 353v2M313.5 358v2M313.5 363v1M313.5 365v1M317.5 332v1M317.5 337v3M317.5 341v2M317.5 348v1M317.5 355v1M319.5 335v1M326.5 337v1M326.5 341v2M326.5 353v1M326.5 359v3M326.5 364v1M326.5 367v1M326.5 372v1M326.5 389v1M326.5 393v1M326.5 398v2M327.5 404v1M327.5 406v1M327.5 411v2M327.5 414v1M328.5 377v1M328.5 381v1M328.5 400v1M328.5 402v1M328.5 404v1M329.5 339v1M329.5 350v1M329.5 363v1M330.5 332v1M330.5 334v1M330.5 365v1M330.5 367v2M330.5 370v1M330.5 375v3M330.5 379v4M339.5 350v1M341.5 353v1M341.5 355v1M344.5 365v1M346.5 333v1M346.5 349v3M346.5 358v1M347.5 347v1M348.5 336v1M348.5 346v1M348.5 360v2M348.5 364v1M349.5 380v1M349.5 386v1M349.5 388v1M349.5 391v1M350.5 362v1M350.5 367v1M352.5 347v1M358.5 340v1M358.5 346v2M358.5 351v1M358.5 353v3M358.5 361v1M358.5 365v1M358.5 367v1M363.5 347v1M370.5 350v1M372.5 359v1M372.5 373v1M372.5 375v1M372.5 388v1M372.5 391v2M372.5 396v1M376.5 350v1M378.5 347v1M380.5 347v1M383.5 333v2M383.5 340v1M391.5 347v1M399.5 337v1M401.5 337v1M413.5 334v1M414.5 334v1M416.5 335v1M416.5 343v1M416.5 348v1M416.5 352v1M416.5 358v2M416.5 362v1M416.5 364v1M416.5 366v2M416.5 371v1M416.5 383v2M416.5 389v1M417.5 414v1M417.5 416v2M417.5 419v1M418.5 332v1M418.5 336v1M418.5 341v2M418.5 351v1M418.5 354v2M418.5 360v1M418.5 367v2M418.5 385v1M418.5 407v1M421.5 334v1M421.5 340v1M421.5 345v1M421.5 349v1M421.5 351v1M421.5 354v1M421.5 357v1M422.5 337v1M423.5 337v1M425.5 334v1M428.5 334v1M429.5 334v1M430.5 334v1M434.5 334v1M434.5 337v1M435.5 337v1M436.5 337v1M440.5 334v1M441.5 334v1M442.5 334v1M447.5 334v1M448.5 334v1M451.5 346v1M451.5 350v1M451.5 370v1M456.5 339v1M458.5 332v1M458.5 345v1M458.5 357v3M458.5 363v1M458.5 368v1M458.5 374v1M458.5 378v1M459.5 420v2M459.5 424v2M460.5 333v1M460.5 335v1M460.5 339v1M460.5 357v3M460.5 363v1M460.5 366v1M460.5 368v1M460.5 377v1M460.5 389v1M460.5 399v1M462.5 378v2M462.5 385v1M462.5 387v1M462.5 392v1M466.5 334v1M471.5 343v1M471.5 345v1M472.5 388v1M472.5 392v1M473.5 343v1M477.5 333v1M477.5 335v1M477.5 339v1M477.5 341v1M478.5 337v1M481.5 334v1M484.5 334v1M484.5 339v1M484.5 344v2M484.5 348v1M484.5 364v1M495.5 338v1M495.5 344v1M495.5 355v1M495.5 357v1M495.5 374v1M495.5 376v1M495.5 390v1M496.5 334v1M497.5 334v1M497.5 336v1M497.5 342v1M497.5 355v1M497.5 359v1M497.5 362v1M497.5 367v1M497.5 376v1M498.5 334v1M499.5 334v1M503.5 343v1M503.5 346v1M503.5 352v1M503.5 356v1M505.5 334v1M507.5 332v1M507.5 337v1M507.5 343v1M509.5 334v1M513.5 334v1M517.5 334v1M519.5 334v1M520.5 334v1M522.5 332v1M522.5 352v1M522.5 354v1M522.5 357v1M525.5 337v1M528.5 346v1M528.5 348v1M528.5 350v1M528.5 364v1M528.5 367v1M528.5 369v1M529.5 410v1M530.5 334v1M530.5 367v1M531.5 334v1M534.5 334v1M534.5 337v1M535.5 337v1M539.5 334v1M541.5 334v1M543.5 334v1M548.5 334v1M553.5 334v1M554.5 355v1M558.5 337v1M560.5 334v1M564.5 334v1M565.5 334v1M568.5 361v1M570.5 337v2M570.5 345v1M570.5 371v1M571.5 403v1M572.5 337v1M572.5 340v1M572.5 342v1M572.5 374v1M578.5 333v1M578.5 358v1M578.5 370v1M578.5 373v1M594.5 338v2M594.5 344v1M594.5 349v2M594.5 361v1M594.5 368v1M594.5 371v1M594.5 373v1M594.5 381v1M594.5 384v1M594.5 386v1M597.5 335v2M597.5 338v1M597.5 344v1M597.5 350v1M597.5 355v1M597.5 357v1M597.5 359v1M597.5 375v1M597.5 382v1M597.5 384v1M603.5 355v1M608.5 353v1M612.5 336v1M612.5 361v1M612.5 390v1M612.5 394v1M613.5 375v1M613.5 378v1M613.5 399v1M614.5 359v2M614.5 389v1M620.5 332v1M620.5 338v1M620.5 340v3M620.5 366v1M620.5 368v1M620.5 371v1M620.5 373v1M620.5 375v1M620.5 379v1M620.5 382v1M620.5 384v1M620.5 388v1M638.5 350v1M639.5 351v1M639.5 366v1M639.5 370v1M639.5 376v1M639.5 391v1M639.5 393v1M639.5 402v1M649.5 335v2M649.5 341v2M649.5 344v2M649.5 352v1M649.5 355v1M655.5 343v1M656.5 366v1M656.5 378v1M656.5 385v1M657.5 380v1M657.5 383v2M657.5 388v2M657.5 391v1M657.5 394v1M657.5 397v1M673.5 350v1M673.5 354v2M674.5 334v2M675.5 354v1M675.5 365v1M675.5 378v1M675.5 382v1M675.5 384v2M675.5 387v2M675.5 397v2M675.5 401v1M675.5 403v1M676.5 333v1M679.5 354v1M679.5 356v1M679.5 362v1M685.5 332v1M685.5 342v1M685.5 346v1M685.5 348v1M687.5 357v1M687.5 359v1" stroke="#5b5b5b"/>
<path d="M79.5 344v1M79.5 375v1M79.5 377v1M93.5 353v1M93.5 359v1M97.5 380v1M99.5 341v1M100.5 357v1M100.5 359v1M100.5 363v1M100.5 372v1M100.5 376v1M100.5 390v1M100.5 394v1M100.5 397v1M101.5 333v1M101.5 338v1M101.5 341v1M108.5 337v1M108.5 352v2M108.5 356v2M108.5 359v1M108.5 363v1M108.5 365v1M108.5 368v2M108.5 374v2M112.5 380v1M115.5 361v1M115.5 365v1M115.5 373v1M115.5 380v1M115.5 382v1M115.5 392v1M115.5 398v1M126.5 379v1M131.5 369v1M134.5 364v1M138.5 340v1M146.5 334v1M146.5 347v1M146.5 350v1M146.5 356v2M147.5 350v1M148.5 347v1M149.5 338v1M152.5 347v1M154.5 350v1M156.5 347v1M158.5 347v1M173.5 347v1M178.5 347v1M181.5 346v1M181.5 348v1M181.5 351v1M181.5 354v1M181.5 372v1M181.5 377v1M181.5 393v1M182.5 427v1M183.5 334v1M183.5 342v4M183.5 354v1M183.5 385v1M186.5 338v1M186.5 359v1M186.5 363v1M195.5 332v1M195.5 346v1M195.5 349v3M195.5 355v1M195.5 373v1M199.5 347v1M201.5 332v1M202.5 347v1M207.5 343v1M220.5 343v1M220.5 346v1M220.5 356v1M220.5 359v1M220.5 363v2M220.5 371v1M220.5 373v1M220.5 376v4M220.5 381v1M220.5 390v1M223.5 347v1M228.5 347v1M230.5 334v1M230.5 337v2M230.5 340v1M230.5 342v1M230.5 347v1M230.5 353v1M230.5 355v1M230.5 360v2M230.5 364v1M230.5 367v1M230.5 377v1M230.5 382v1M231.5 344v1M231.5 354v1M231.5 361v1M231.5 363v2M238.5 347v1M242.5 347v1M244.5 347v1M245.5 347v1M247.5 347v1M253.5 337v1M260.5 347v1M260.5 378v1M268.5 342v1M268.5 345v1M268.5 363v1M268.5 365v1M269.5 387v1M269.5 404v2M270.5 340v1M270.5 369v1M271.5 337v2M271.5 349v1M271.5 351v2M271.5 357v1M271.5 361v1M271.5 363v1M271.5 373v1M273.5 347v1M277.5 347v1M280.5 347v1M282.5 347v1M283.5 347v1M283.5 352v1M283.5 355v1M283.5 369v1M283.5 376v1M283.5 379v1M283.5 383v1M283.5 394v1M283.5 398v3M286.5 347v1M287.5 347v1M288.5 350v1M290.5 336v1M290.5 341v1M290.5 349v1M294.5 347v1M295.5 348v1M295.5 358v1M296.5 336v1M296.5 367v1M296.5 394v1M296.5 404v1M297.5 347v2M298.5 347v1M302.5 347v1M306.5 347v1M307.5 332v1M307.5 338v1M307.5 348v1M307.5 354v1M307.5 357v3M307.5 363v2M307.5 366v5M307.5 373v1M307.5 378v1M307.5 380v1M307.5 383v1M311.5 347v1M313.5 335v1M313.5 347v1M313.5 357v1M313.5 361v1M315.5 347v1M317.5 340v1M323.5 347v1M324.5 347v1M326.5 338v1M326.5 354v2M326.5 368v1M326.5 382v1M328.5 357v1M328.5 379v1M328.5 384v2M328.5 397v1M330.5 333v1M330.5 339v1M330.5 366v1M330.5 378v1M330.5 384v1M330.5 387v1M330.5 391v2M331.5 347v1M336.5 347v1M338.5 347v1M346.5 335v1M346.5 339v1M346.5 345v2M346.5 356v1M348.5 359v1M349.5 387v1M349.5 390v1M349.5 394v1M349.5 396v1M350.5 360v1M353.5 347v1M358.5 332v2M358.5 339v1M358.5 345v1M358.5 358v1M358.5 366v1M359.5 350v1M365.5 347v1M366.5 347v1M367.5 347v1M369.5 347v1M372.5 351v1M372.5 356v3M372.5 361v3M372.5 372v1M372.5 374v1M372.5 376v1M372.5 379v1M372.5 386v1M372.5 394v1M372.5 397v1M379.5 350v1M381.5 347v1M387.5 347v1M393.5 346v1M396.5 339v1M397.5 337v1M398.5 335v1M402.5 334v1M403.5 334v1M409.5 334v1M411.5 334v1M416.5 333v1M416.5 336v1M416.5 341v2M416.5 355v1M417.5 409v1M417.5 411v1M417.5 413v1M417.5 415v1M418.5 333v1M418.5 340v1M418.5 343v1M418.5 352v1M418.5 358v1M418.5 362v1M418.5 365v1M420.5 337v1M421.5 338v1M421.5 342v1M421.5 344v1M424.5 334v1M430.5 335v1M430.5 337v1M432.5 334v1M433.5 334v1M445.5 334v1M446.5 334v1M451.5 334v1M451.5 340v2M451.5 347v1M451.5 355v1M455.5 334v1M458.5 354v1M458.5 356v1M458.5 371v1M458.5 376v1M459.5 400v1M459.5 415v3M460.5 334v1M460.5 353v1M460.5 370v1M460.5 372v1M460.5 374v1M462.5 370v1M462.5 375v2M462.5 383v1M462.5 389v1M464.5 334v1M468.5 334v1M472.5 367v1M472.5 389v1M474.5 334v1M477.5 338v1M477.5 342v1M477.5 344v1M483.5 334v1M484.5 333v1M484.5 336v1M484.5 338v1M484.5 341v1M484.5 367v1M488.5 334v1M489.5 334v1M492.5 334v1M495.5 336v1M495.5 339v1M495.5 345v1M495.5 347v1M495.5 349v5M495.5 362v1M497.5 332v2M497.5 337v2M497.5 369v1M497.5 378v1M502.5 334v1M507.5 334v1M510.5 334v1M511.5 334v1M515.5 334v1M522.5 348v1M522.5 353v1M528.5 334v1M528.5 351v1M528.5 374v1M529.5 389v2M529.5 409v1M529.5 411v1M530.5 346v1M530.5 350v1M533.5 334v1M545.5 334v1M547.5 334v1M549.5 334v1M550.5 334v1M554.5 346v1M554.5 364v1M562.5 334v1M570.5 336v1M570.5 342v1M571.5 375v1M571.5 381v1M571.5 386v1M571.5 388v1M571.5 391v1M571.5 401v1M578.5 332v1M578.5 338v1M578.5 347v1M578.5 350v1M578.5 356v1M578.5 365v2M578.5 369v1M578.5 384v1M594.5 332v2M594.5 335v1M594.5 340v1M594.5 347v2M594.5 351v3M594.5 356v1M594.5 359v1M594.5 362v6M594.5 370v1M594.5 376v1M594.5 378v1M594.5 380v1M594.5 383v1M597.5 345v1M597.5 349v1M597.5 352v3M597.5 356v1M597.5 360v1M597.5 378v1M603.5 349v1M612.5 333v1M612.5 354v1M612.5 368v1M613.5 401v1M613.5 404v1M620.5 333v1M620.5 337v1M620.5 343v1M620.5 359v1M620.5 362v1M620.5 376v1M620.5 385v1M639.5 340v2M639.5 345v1M639.5 377v1M639.5 379v1M639.5 383v1M639.5 394v2M639.5 399v1M649.5 339v1M649.5 351v1M649.5 354v1M656.5 357v1M656.5 361v1M656.5 369v2M656.5 372v1M656.5 375v1M656.5 377v1M656.5 379v1M656.5 383v1M656.5 386v1M656.5 388v1M656.5 390v1M656.5 394v1M656.5 397v2M657.5 371v2M657.5 377v1M657.5 385v1M657.5 390v1M657.5 392v1M657.5 395v1M657.5 400v1M665.5 333v1M673.5 337v1M673.5 339v1M673.5 345v1M673.5 357v1M675.5 349v1M675.5 355v1M675.5 375v1M675.5 383v1M675.5 389v1M675.5 393v2M675.5 400v1M676.5 334v1M685.5 337v1M685.5 339v1M685.5 341v1M687.5 358v1" stroke="#606060"/>
<path d="M79.5 332v1M79.5 334v1M79.5 336v1M79.5 341v2M79.5 345v1M79.5 347v1M79.5 351v1M79.5 356v1M79.5 360v1M79.5 371v1M79.5 384v1M93.5 351v1M100.5 349v1M100.5 356v1M100.5 362v1M100.5 364v1M100.5 367v1M100.5 369v1M100.5 374v2M100.5 379v1M100.5 382v1M100.5 385v1M100.5 387v2M100.5 391v1M101.5 335v1M101.5 343v1M108.5 332v1M108.5 334v1M108.5 336v1M108.5 338v3M108.5 343v1M108.5 350v1M108.5 354v2M108.5 358v1M108.5 364v1M108.5 371v1M108.5 380v2M115.5 332v1M115.5 334v1M115.5 348v1M115.5 354v1M115.5 357v1M115.5 359v1M115.5 367v2M115.5 371v1M115.5 375v1M115.5 378v1M115.5 383v1M115.5 385v1M115.5 387v2M115.5 390v1M132.5 367v1M153.5 347v1M159.5 347v1M160.5 347v1M165.5 347v1M166.5 347v1M172.5 347v1M174.5 347v1M176.5 347v1M179.5 347v1M180.5 347v1M181.5 340v3M181.5 344v1M181.5 352v1M181.5 384v2M182.5 430v1M183.5 346v1M183.5 349v1M183.5 353v1M183.5 382v1M186.5 334v1M186.5 336v1M186.5 342v2M186.5 369v1M188.5 347v1M193.5 347v1M194.5 347v1M195.5 334v1M195.5 339v1M195.5 342v1M195.5 347v2M195.5 353v1M195.5 359v1M195.5 364v1M197.5 347v1M204.5 347v1M207.5 334v1M211.5 347v1M214.5 347v1M219.5 347v1M220.5 338v1M220.5 341v2M220.5 348v2M220.5 355v1M220.5 358v1M220.5 366v4M222.5 347v1M224.5 347v1M230.5 339v1M230.5 346v1M230.5 351v1M230.5 365v1M230.5 371v1M231.5 346v1M239.5 347v1M240.5 347v1M243.5 347v1M246.5 347v1M248.5 347v1M250.5 347v1M253.5 347v1M257.5 347v1M258.5 347v1M267.5 347v1M268.5 369v1M269.5 392v1M269.5 403v1M271.5 336v1M271.5 339v1M271.5 348v1M271.5 350v1M271.5 355v1M271.5 368v1M275.5 347v1M276.5 347v1M281.5 347v1M283.5 340v1M283.5 345v1M283.5 353v2M283.5 359v1M283.5 364v1M283.5 374v1M283.5 380v1M283.5 384v2M283.5 388v1M283.5 392v1M291.5 347v1M295.5 346v2M296.5 341v1M296.5 388v3M296.5 395v1M296.5 401v1M296.5 403v1M303.5 347v1M307.5 336v1M307.5 345v2M307.5 355v2M307.5 360v1M307.5 374v1M307.5 386v1M310.5 347v1M312.5 347v1M317.5 346v1M318.5 347v1M319.5 347v1M320.5 347v1M326.5 335v1M326.5 343v1M326.5 362v1M328.5 345v1M328.5 349v1M328.5 353v1M328.5 378v1M328.5 388v1M328.5 394v1M328.5 399v1M330.5 336v1M330.5 338v1M330.5 356v1M330.5 359v2M330.5 373v1M330.5 389v2M335.5 347v1M339.5 347v1M340.5 347v1M341.5 347v1M342.5 347v1M346.5 336v1M346.5 338v1M346.5 340v1M346.5 344v1M346.5 352v2M349.5 378v1M349.5 384v1M349.5 389v1M349.5 392v1M350.5 357v1M350.5 361v1M358.5 334v1M358.5 336v1M358.5 344v1M358.5 348v1M361.5 347v1M368.5 347v1M372.5 332v3M372.5 337v1M372.5 344v2M372.5 348v1M372.5 354v2M372.5 367v1M372.5 369v1M372.5 371v1M372.5 378v1M372.5 384v1M374.5 347v1M375.5 347v1M376.5 347v1M377.5 347v1M382.5 347v1M383.5 347v1M416.5 334v1M416.5 340v1M416.5 357v1M416.5 360v1M416.5 387v1M417.5 375v1M417.5 402v1M417.5 405v1M417.5 412v1M418.5 334v1M418.5 359v1M418.5 366v1M418.5 387v1M421.5 339v1M422.5 334v1M437.5 337v1M448.5 337v1M450.5 334v1M450.5 337v1M451.5 345v1M459.5 395v1M459.5 397v1M459.5 402v1M459.5 405v1M459.5 413v2M460.5 356v1M460.5 371v1M462.5 361v2M462.5 364v1M462.5 366v1M462.5 381v1M462.5 386v1M462.5 391v1M472.5 358v1M472.5 365v2M472.5 379v1M472.5 384v1M472.5 390v1M477.5 337v1M479.5 334v1M482.5 334v1M484.5 337v1M495.5 334v2M495.5 337v1M495.5 354v1M495.5 361v1M495.5 364v1M495.5 368v2M495.5 371v3M495.5 375v1M516.5 334v1M524.5 337v1M529.5 385v1M529.5 402v1M529.5 404v1M530.5 374v1M536.5 337v1M544.5 334v1M555.5 334v1M555.5 337v1M557.5 337v1M558.5 334v1M559.5 334v1M561.5 334v1M563.5 334v1M571.5 379v2M571.5 382v4M571.5 387v1M571.5 390v1M571.5 393v1M571.5 395v2M571.5 398v2M578.5 334v1M578.5 337v1M578.5 340v1M578.5 342v2M578.5 349v1M578.5 351v3M578.5 359v1M578.5 362v1M578.5 367v2M578.5 371v1M594.5 341v1M594.5 354v1M594.5 358v1M594.5 360v1M594.5 369v1M594.5 377v1M594.5 379v1M597.5 343v1M597.5 348v1M613.5 381v1M613.5 395v1M620.5 336v1M620.5 339v1M620.5 346v1M620.5 351v1M620.5 355v1M620.5 361v1M620.5 363v1M620.5 380v2M639.5 332v1M639.5 336v1M639.5 338v1M639.5 342v2M639.5 349v1M639.5 353v1M639.5 355v1M639.5 358v1M639.5 360v1M639.5 382v1M639.5 385v1M639.5 388v1M639.5 392v1M649.5 338v1M649.5 349v2M656.5 339v1M656.5 356v1M656.5 363v1M656.5 367v1M656.5 371v1M656.5 376v1M656.5 381v2M656.5 387v1M656.5 393v1M656.5 399v1M657.5 340v2M657.5 344v1M657.5 349v1M657.5 355v1M657.5 359v1M657.5 367v1M657.5 373v1M657.5 378v2M657.5 382v1M657.5 387v1M657.5 393v1M673.5 349v1M673.5 353v1M675.5 341v1M675.5 344v1M675.5 350v4M675.5 376v1M675.5 380v1M675.5 392v1M675.5 396v1M675.5 402v1M685.5 334v2M685.5 340v1M685.5 344v2" stroke="#656565"/>
<path d="M79.5 339v1M79.5 346v1M79.5 348v1M79.5 352v1M79.5 357v1M79.5 362v1M79.5 368v3M79.5 376v1M79.5 379v2M100.5 352v2M100.5 358v1M100.5 361v1M100.5 371v1M100.5 383v1M100.5 389v1M100.5 392v2M100.5 395v1M108.5 333v1M108.5 335v1M115.5 345v1M115.5 350v1M115.5 353v1M115.5 358v1M115.5 363v1M115.5 366v1M115.5 369v2M115.5 374v1M115.5 377v1M115.5 379v1M115.5 389v1M115.5 391v1M115.5 393v1M143.5 347v1M154.5 347v1M161.5 347v1M168.5 347v1M169.5 347v1M170.5 347v1M171.5 347v1M175.5 347v1M177.5 347v1M181.5 347v1M181.5 349v1M182.5 421v2M182.5 425v1M183.5 333v1M183.5 340v1M183.5 347v2M184.5 347v1M185.5 347v1M186.5 337v1M190.5 347v1M191.5 347v1M195.5 343v1M195.5 352v1M195.5 354v1M195.5 357v1M196.5 347v1M201.5 347v1M205.5 347v1M206.5 347v1M207.5 347v1M209.5 347v1M212.5 347v1M213.5 347v1M215.5 347v1M217.5 347v1M218.5 347v1M220.5 332v1M220.5 335v1M220.5 340v1M220.5 344v1M220.5 347v1M220.5 350v3M220.5 354v1M220.5 362v1M220.5 372v1M225.5 347v1M226.5 347v1M227.5 347v1M230.5 357v1M231.5 347v1M234.5 347v1M236.5 347v1M249.5 347v1M254.5 347v1M255.5 347v1M259.5 347v1M269.5 353v1M269.5 375v1M269.5 385v1M269.5 388v1M269.5 391v1M269.5 397v1M269.5 399v1M269.5 401v2M271.5 335v1M271.5 346v1M271.5 353v2M278.5 347v1M283.5 346v1M283.5 350v1M283.5 356v1M283.5 365v1M283.5 370v2M283.5 377v1M283.5 381v2M283.5 387v1M283.5 389v2M284.5 347v1M285.5 347v1M289.5 347v1M290.5 346v1M292.5 347v1M295.5 349v1M296.5 361v2M296.5 364v2M296.5 378v1M296.5 381v1M296.5 384v4M296.5 391v3M296.5 398v3M297.5 349v1M297.5 358v1M300.5 347v1M307.5 337v1M307.5 339v1M307.5 342v1M307.5 344v1M307.5 351v2M308.5 347v1M309.5 347v1M314.5 347v1M316.5 347v1M317.5 347v1M326.5 347v1M327.5 402v2M327.5 408v1M328.5 348v1M328.5 350v3M328.5 355v1M328.5 370v1M328.5 372v1M328.5 374v1M328.5 376v1M328.5 382v1M328.5 390v1M328.5 392v2M328.5 395v1M328.5 398v1M330.5 335v1M330.5 345v1M330.5 347v1M330.5 349v2M330.5 352v1M330.5 362v2M330.5 386v1M334.5 347v1M343.5 347v1M344.5 347v1M345.5 347v1M346.5 332v1M346.5 337v1M346.5 341v3M346.5 347v2M349.5 339v1M349.5 343v2M349.5 372v1M349.5 379v1M349.5 381v1M349.5 383v1M354.5 347v1M355.5 347v1M357.5 347v1M358.5 335v1M358.5 337v1M360.5 347v1M372.5 341v1M372.5 350v1M372.5 353v1M372.5 364v2M372.5 368v1M372.5 370v1M372.5 382v1M372.5 387v1M372.5 389v2M384.5 347v1M385.5 347v1M386.5 347v1M389.5 347v1M390.5 347v1M416.5 337v1M416.5 339v1M417.5 398v1M417.5 400v1M417.5 404v1M417.5 406v1M418.5 339v1M418.5 371v1M459.5 346v1M459.5 401v1M459.5 407v1M459.5 410v1M460.5 332v1M462.5 332v1M462.5 339v1M462.5 342v1M462.5 344v1M462.5 346v1M462.5 348v2M462.5 353v1M462.5 356v1M462.5 368v1M462.5 373v2M462.5 380v1M462.5 382v1M462.5 384v1M462.5 388v1M462.5 390v1M472.5 332v1M472.5 351v3M472.5 359v3M472.5 368v1M472.5 370v2M472.5 373v2M472.5 386v2M477.5 334v1M477.5 336v1M480.5 334v1M484.5 340v1M490.5 334v1M495.5 341v1M495.5 346v1M495.5 360v1M495.5 365v3M495.5 370v1M495.5 377v1M500.5 334v1M513.5 337v1M522.5 356v1M529.5 333v1M529.5 336v1M529.5 356v1M529.5 358v2M529.5 376v1M529.5 378v1M529.5 380v2M529.5 384v1M529.5 386v2M529.5 394v2M529.5 398v1M529.5 400v1M529.5 408v1M542.5 334v1M571.5 332v1M571.5 334v1M571.5 361v1M571.5 377v1M571.5 389v1M571.5 402v1M578.5 339v1M578.5 344v1M578.5 348v1M578.5 360v2M578.5 364v1M594.5 334v1M594.5 336v1M594.5 342v2M613.5 367v1M613.5 370v2M613.5 373v1M613.5 377v1M613.5 379v1M613.5 402v2M620.5 335v1M620.5 348v1M620.5 353v1M620.5 356v2M620.5 360v1M639.5 346v3M639.5 352v1M639.5 362v1M639.5 364v1M639.5 367v2M639.5 372v1M639.5 375v1M639.5 378v1M639.5 380v2M639.5 390v1M649.5 343v1M656.5 358v1M656.5 365v1M656.5 373v1M656.5 384v1M656.5 391v1M656.5 395v1M657.5 333v2M657.5 337v1M657.5 342v1M657.5 350v1M657.5 352v1M657.5 360v2M657.5 363v3M657.5 369v2M657.5 375v1M657.5 386v1M675.5 336v1M675.5 340v1M675.5 342v2M675.5 345v2M675.5 348v1M675.5 356v1M675.5 361v2M675.5 369v1M675.5 381v1M675.5 399v1M685.5 333v1" stroke="#6a6a6a"/>
<path d="M79.5 333v1M79.5 338v1M79.5 349v2M79.5 354v2M79.5 359v1M79.5 361v1M79.5 364v1M79.5 367v1M79.5 373v2M79.5 378v1M100.5 334v1M100.5 351v1M100.5 354v1M100.5 360v1M100.5 370v1M100.5 373v1M100.5 384v1M115.5 336v1M115.5 341v1M115.5 346v1M115.5 351v2M115.5 355v1M115.5 376v1M115.5 384v1M115.5 386v1M147.5 347v1M157.5 347v1M162.5 347v1M182.5 361v1M182.5 373v1M182.5 397v1M182.5 399v1M182.5 402v3M182.5 410v2M182.5 423v1M182.5 426v1M183.5 341v1M186.5 340v1M195.5 356v1M210.5 347v1M220.5 337v1M220.5 361v1M220.5 365v1M220.5 370v1M229.5 347v1M230.5 341v1M232.5 347v1M235.5 347v1M237.5 347v1M252.5 347v1M261.5 347v1M262.5 347v1M264.5 347v1M269.5 373v1M269.5 381v4M269.5 386v1M269.5 390v1M269.5 400v1M270.5 347v1M271.5 340v2M271.5 344v1M272.5 347v1M283.5 335v2M283.5 344v1M283.5 348v2M283.5 357v2M283.5 360v1M283.5 368v1M283.5 375v1M283.5 393v1M296.5 340v1M296.5 359v2M296.5 368v1M296.5 371v1M296.5 374v1M296.5 377v1M296.5 382v2M296.5 396v2M304.5 347v1M307.5 334v2M307.5 347v1M307.5 349v2M307.5 353v1M307.5 362v1M321.5 347v1M327.5 376v1M327.5 386v1M327.5 405v1M328.5 338v1M328.5 340v1M328.5 342v1M328.5 344v1M328.5 354v1M328.5 359v1M328.5 361v2M328.5 368v1M328.5 375v1M328.5 383v1M328.5 396v1M330.5 337v1M330.5 342v2M330.5 351v1M330.5 358v1M330.5 361v1M330.5 364v1M330.5 388v1M332.5 347v1M337.5 347v1M346.5 334v1M348.5 347v1M349.5 334v1M349.5 345v1M349.5 348v1M349.5 365v1M349.5 371v1M349.5 375v2M349.5 382v1M350.5 347v1M351.5 347v1M362.5 347v1M370.5 347v1M372.5 335v2M372.5 339v2M372.5 352v1M372.5 366v1M372.5 377v1M372.5 380v2M372.5 383v1M372.5 385v1M373.5 347v1M379.5 347v1M388.5 347v1M417.5 370v1M417.5 376v1M417.5 378v1M417.5 401v1M431.5 334v1M437.5 334v1M459.5 351v1M459.5 355v1M459.5 387v1M459.5 391v2M459.5 404v1M459.5 412v1M462.5 335v2M462.5 347v1M462.5 350v2M462.5 354v2M462.5 360v1M462.5 363v1M462.5 365v1M462.5 369v1M462.5 371v2M472.5 333v4M472.5 354v2M472.5 363v2M472.5 369v1M472.5 372v1M472.5 378v1M472.5 385v1M495.5 333v1M495.5 340v1M495.5 342v1M495.5 363v1M529.5 353v1M529.5 357v1M529.5 361v1M529.5 382v1M529.5 388v1M529.5 391v1M529.5 393v1M529.5 401v1M529.5 405v1M571.5 335v1M571.5 355v5M571.5 378v1M571.5 392v1M571.5 394v1M571.5 400v1M578.5 336v1M578.5 341v1M578.5 345v2M578.5 355v1M578.5 363v1M594.5 375v1M612.5 358v1M613.5 337v3M613.5 343v1M613.5 376v1M613.5 380v1M613.5 384v2M613.5 388v1M613.5 400v1M614.5 358v1M620.5 347v1M620.5 349v1M620.5 354v1M620.5 358v1M639.5 333v3M639.5 337v1M639.5 339v1M639.5 344v1M639.5 356v2M639.5 361v1M639.5 363v1M639.5 365v1M639.5 371v1M639.5 373v1M639.5 386v2M656.5 335v1M656.5 344v1M656.5 347v2M656.5 350v1M656.5 352v4M656.5 359v2M656.5 380v1M656.5 389v1M656.5 396v1M657.5 335v1M657.5 343v1M657.5 346v3M657.5 353v2M657.5 356v3M657.5 376v1M675.5 338v1M675.5 347v1M675.5 357v2M675.5 364v1M675.5 371v1M675.5 373v1M675.5 379v1" stroke="#6f6f6f"/>
<path d="M79.5 340v1M79.5 343v1M79.5 353v1M100.5 332v1M100.5 339v1M100.5 342v1M100.5 344v1M100.5 347v1M100.5 350v1M100.5 355v1M108.5 373v1M115.5 333v1M115.5 335v1M115.5 339v1M115.5 342v3M115.5 347v1M115.5 349v1M115.5 364v1M115.5 381v1M182.5 350v1M182.5 359v1M182.5 363v1M182.5 367v1M182.5 379v1M182.5 390v1M182.5 396v1M182.5 398v1M182.5 400v1M182.5 406v1M182.5 409v1M182.5 414v1M182.5 417v2M182.5 420v1M186.5 347v1M195.5 344v1M200.5 347v1M220.5 333v1M220.5 336v1M220.5 360v1M230.5 349v1M263.5 347v1M269.5 332v1M269.5 346v1M269.5 348v1M269.5 351v2M269.5 358v1M269.5 379v1M269.5 389v1M269.5 393v1M269.5 395v2M271.5 343v1M271.5 347v1M274.5 347v1M283.5 332v1M283.5 334v1M283.5 338v2M283.5 351v1M283.5 361v1M283.5 363v1M283.5 367v1M283.5 373v1M296.5 334v2M296.5 337v2M296.5 342v1M296.5 345v1M296.5 363v1M296.5 373v1M296.5 402v1M307.5 333v1M307.5 341v1M307.5 343v1M325.5 347v1M327.5 336v1M327.5 339v1M327.5 346v1M327.5 370v1M327.5 375v1M327.5 378v3M327.5 384v2M327.5 392v1M327.5 396v1M327.5 400v2M327.5 407v1M328.5 341v1M328.5 347v1M328.5 360v1M328.5 364v1M328.5 373v1M328.5 387v1M328.5 389v1M328.5 391v1M330.5 344v1M330.5 346v1M330.5 348v1M330.5 353v2M330.5 357v1M349.5 340v3M349.5 350v3M349.5 356v1M349.5 363v1M349.5 366v1M349.5 369v1M349.5 377v1M349.5 385v1M359.5 347v1M372.5 342v2M372.5 347v1M372.5 349v1M392.5 347v1M417.5 345v1M417.5 369v1M417.5 372v1M417.5 382v1M417.5 386v1M417.5 390v1M417.5 395v1M417.5 397v1M417.5 399v1M417.5 408v1M417.5 410v1M418.5 337v1M459.5 341v1M459.5 347v1M459.5 349v1M459.5 364v1M459.5 373v1M459.5 384v1M459.5 390v1M459.5 393v2M459.5 396v1M459.5 398v1M459.5 403v1M459.5 406v1M459.5 408v1M459.5 411v1M462.5 333v1M462.5 341v1M462.5 345v1M462.5 358v2M472.5 339v2M472.5 348v2M472.5 362v1M472.5 376v2M472.5 380v4M495.5 332v1M495.5 358v1M529.5 332v1M529.5 335v1M529.5 339v1M529.5 347v1M529.5 354v2M529.5 360v1M529.5 362v2M529.5 366v1M529.5 370v2M529.5 375v1M529.5 383v1M529.5 392v1M529.5 396v1M529.5 399v1M529.5 403v1M529.5 406v2M571.5 351v2M571.5 354v1M571.5 360v1M571.5 362v2M571.5 365v2M571.5 372v2M594.5 346v1M613.5 341v1M613.5 344v2M613.5 351v1M613.5 355v1M613.5 362v1M613.5 372v1M613.5 374v1M613.5 383v1M613.5 386v1M613.5 396v2M620.5 350v1M620.5 352v1M639.5 354v1M639.5 359v1M639.5 369v1M639.5 374v1M656.5 333v1M656.5 336v2M656.5 340v3M656.5 346v1M656.5 351v1M656.5 362v1M656.5 392v1M657.5 332v1M657.5 336v1M657.5 339v1M657.5 345v1M657.5 351v1M657.5 366v1M657.5 368v1M657.5 374v1M657.5 381v1M675.5 337v1M675.5 339v1M675.5 360v1M675.5 363v1M675.5 366v1M675.5 370v1M675.5 374v1M675.5 395v1" stroke="#747474"/>
<path d="M79.5 337v1M79.5 363v1M100.5 346v1M100.5 348v1M108.5 366v1M164.5 347v1M182.5 332v1M182.5 347v1M182.5 355v2M182.5 362v1M182.5 364v2M182.5 370v2M182.5 387v1M182.5 401v1M182.5 405v1M182.5 407v2M182.5 412v2M182.5 419v1M189.5 347v1M220.5 334v1M220.5 357v1M221.5 347v1M269.5 338v1M269.5 341v1M269.5 354v2M269.5 366v1M269.5 370v2M269.5 374v1M269.5 380v1M269.5 398v1M283.5 333v1M283.5 341v3M283.5 362v1M283.5 366v1M283.5 372v1M283.5 378v1M296.5 332v2M296.5 339v1M296.5 343v2M296.5 351v1M296.5 353v1M296.5 357v1M296.5 366v1M296.5 369v1M296.5 376v1M296.5 379v2M307.5 340v1M327.5 344v1M327.5 348v1M327.5 350v1M327.5 353v1M327.5 365v1M327.5 371v1M327.5 374v1M327.5 377v1M327.5 383v1M327.5 390v1M327.5 394v1M327.5 397v1M327.5 399v1M328.5 335v1M328.5 343v1M328.5 346v1M328.5 356v1M328.5 358v1M328.5 367v1M328.5 369v1M328.5 371v1M328.5 386v1M330.5 340v1M330.5 355v1M349.5 332v2M349.5 335v1M349.5 338v1M349.5 347v1M349.5 349v1M349.5 353v1M349.5 355v1M349.5 358v1M349.5 367v2M349.5 370v1M349.5 373v2M372.5 338v1M372.5 346v1M417.5 344v1M417.5 346v2M417.5 349v2M417.5 363v1M417.5 374v1M417.5 377v1M417.5 379v1M417.5 381v1M417.5 389v1M417.5 392v2M417.5 396v1M459.5 337v2M459.5 343v1M459.5 348v1M459.5 360v3M459.5 379v1M459.5 383v1M459.5 399v1M459.5 409v1M462.5 334v1M462.5 337v2M462.5 340v1M462.5 352v1M462.5 357v1M462.5 367v1M472.5 341v2M472.5 346v2M472.5 357v1M498.5 337v1M529.5 334v1M529.5 342v1M529.5 352v1M529.5 368v1M529.5 372v2M529.5 377v1M529.5 379v1M571.5 333v1M571.5 343v3M571.5 348v2M571.5 353v1M571.5 364v1M571.5 368v3M571.5 374v1M571.5 397v1M613.5 332v1M613.5 334v1M613.5 342v1M613.5 347v1M613.5 349v1M613.5 357v1M613.5 366v1M613.5 369v1M613.5 387v1M613.5 391v3M613.5 398v1M656.5 332v1M656.5 338v1M656.5 349v1M657.5 338v1M657.5 362v1M675.5 333v1M675.5 359v1M675.5 367v1M675.5 372v1" stroke="#797979"/>
<path d="M79.5 358v1M79.5 365v2M100.5 333v1M100.5 335v3M115.5 338v1M115.5 340v1M182.5 336v1M182.5 351v1M182.5 357v1M182.5 360v1M182.5 366v1M182.5 368v1M182.5 375v2M182.5 380v1M182.5 383v1M182.5 392v1M182.5 394v1M182.5 415v2M269.5 333v2M269.5 344v1M269.5 347v1M269.5 349v2M269.5 356v2M269.5 359v1M269.5 361v1M269.5 367v1M269.5 372v1M269.5 376v3M269.5 394v1M296.5 352v1M296.5 354v1M296.5 370v1M296.5 372v1M296.5 375v1M327.5 332v1M327.5 340v1M327.5 345v1M327.5 351v2M327.5 357v1M327.5 369v1M327.5 373v1M327.5 381v1M327.5 387v2M327.5 391v1M327.5 395v1M328.5 332v2M328.5 336v2M328.5 339v1M328.5 365v2M349.5 336v2M349.5 346v1M349.5 354v1M349.5 357v1M417.5 332v1M417.5 351v1M417.5 356v1M417.5 361v1M417.5 373v1M417.5 384v2M417.5 394v1M417.5 403v1M417.5 407v1M459.5 333v1M459.5 335v2M459.5 339v1M459.5 342v1M459.5 344v1M459.5 350v1M459.5 352v2M459.5 365v2M459.5 375v2M459.5 378v1M459.5 381v1M459.5 385v2M459.5 388v1M462.5 343v1M472.5 337v2M472.5 344v2M472.5 350v1M529.5 337v2M529.5 340v1M529.5 344v1M529.5 346v1M529.5 348v2M529.5 364v1M529.5 397v1M571.5 339v1M571.5 341v1M571.5 346v2M571.5 350v1M571.5 367v1M571.5 371v1M571.5 376v1M613.5 335v2M613.5 340v1M613.5 346v1M613.5 348v1M613.5 350v1M613.5 352v2M613.5 363v1M613.5 365v1M613.5 368v1M613.5 382v1M613.5 389v1M613.5 394v1M656.5 334v1M656.5 345v1M675.5 368v1" stroke="#7e7e7e"/>
<path d="M100.5 338v1M100.5 340v1M100.5 345v1M182.5 333v3M182.5 338v1M182.5 353v1M182.5 358v1M182.5 369v1M182.5 372v1M182.5 374v1M182.5 378v1M182.5 381v1M182.5 386v1M182.5 388v1M182.5 393v1M182.5 395v1M269.5 335v1M269.5 337v1M269.5 339v1M269.5 343v1M269.5 360v1M269.5 362v1M269.5 364v1M283.5 337v1M296.5 346v1M296.5 350v1M296.5 355v2M296.5 358v1M327.5 333v3M327.5 338v1M327.5 341v1M327.5 347v1M327.5 349v1M327.5 356v1M327.5 360v2M327.5 363v1M327.5 372v1M327.5 382v1M327.5 398v1M328.5 363v1M349.5 359v2M349.5 364v1M417.5 336v1M417.5 338v1M417.5 348v1M417.5 352v4M417.5 365v1M417.5 367v2M417.5 380v1M417.5 383v1M417.5 388v1M417.5 391v1M459.5 340v1M459.5 345v1M459.5 356v1M459.5 359v1M459.5 363v1M459.5 367v1M459.5 370v1M459.5 372v1M459.5 374v1M459.5 377v1M459.5 380v1M459.5 382v1M472.5 343v1M472.5 375v1M529.5 341v1M529.5 345v1M529.5 351v1M529.5 365v1M529.5 367v1M529.5 369v1M571.5 336v1M571.5 338v1M571.5 340v1M613.5 333v1M613.5 354v1M613.5 356v1M613.5 359v1M613.5 364v1M613.5 390v1M639.5 350v1M656.5 343v1M675.5 332v1M675.5 334v2" stroke="#838383"/>
<path d="M100.5 341v1M100.5 343v1M182.5 337v1M182.5 339v1M182.5 343v1M182.5 345v1M182.5 352v1M182.5 354v1M182.5 377v1M182.5 382v1M182.5 384v1M182.5 389v1M182.5 391v1M269.5 336v1M269.5 340v1M269.5 342v1M269.5 363v1M269.5 365v1M269.5 368v2M296.5 348v1M327.5 337v1M327.5 342v2M327.5 354v2M327.5 358v2M327.5 362v1M327.5 364v1M327.5 366v3M327.5 389v1M327.5 393v1M328.5 334v1M349.5 361v2M417.5 335v1M417.5 340v4M417.5 358v3M417.5 362v1M417.5 364v1M417.5 366v1M417.5 387v1M459.5 334v1M459.5 354v1M459.5 357v2M459.5 369v1M459.5 371v1M459.5 389v1M529.5 343v1M529.5 374v1M571.5 337v1M571.5 342v1M613.5 360v2" stroke="#888888"/>
<path d="M182.5 340v3M182.5 344v1M182.5 348v1M182.5 385v1M269.5 345v1M296.5 347v1M296.5 349v1M417.5 334v1M417.5 339v1M417.5 357v1M417.5 371v1M459.5 332v1M459.5 368v1M529.5 350v1" stroke="#8d8d8d"/>
<path d="M182.5 346v1M182.5 349v1M417.5 333v1M613.5 358v1" stroke="#929292"/>
<path d="M417.5 337v1" stroke="#979797"/></g>
</g>
<rect x="79" y="487" width="614" height="1" fill="#dc6c6c"/>
<rect x="566" y="321" width="127" height="1" fill="#7c1450"/>
<g fill="#fff"><rect x="79" y="322" width="614" height="1" opacity="0.45"/><rect x="79" y="315" width="614" height="1" opacity="0.3"/><rect x="79" y="317" width="614" height="1" opacity="0.3"/><rect x="79" y="320" width="614" height="1" opacity="0.35"/></g>
<g fill="#000" shape-rendering="crispEdges">
<rect x="79" y="126" width="1" height="41"/>
<rect x="79" y="323" width="1" height="9"/>
<rect x="79" y="489" width="1" height="51"/>
<rect x="703" y="126" width="1" height="403"/>
<rect x="79" y="126" width="625" height="1"/>
<rect x="79" y="157" width="625" height="1"/>
<rect x="693" y="166" width="11" height="1"/>
<rect x="693" y="322" width="11" height="1"/>
<rect x="693" y="332" width="11" height="1"/>
<rect x="79" y="488" width="625" height="1"/>
<rect x="79" y="497" width="625" height="1"/>
<rect x="79" y="528" width="625" height="1"/>
<rect x="79" y="166" width="614" height="1"/>
<rect x="79" y="332" width="614" height="1"/>
<rect x="79" y="127" width="1" height="9"/>
<rect x="79" y="148" width="1" height="9"/>
<rect x="79" y="157" width="1" height="9"/>
<rect x="79" y="323" width="1" height="9"/>
<rect x="79" y="489" width="1" height="9"/>
<rect x="79" y="529" width="1" height="11"/>
<rect x="89" y="127" width="1" height="3"/>
<rect x="89" y="154" width="1" height="3"/>
<rect x="89" y="163" width="1" height="3"/>
<rect x="89" y="323" width="1" height="3"/>
<rect x="89" y="329" width="1" height="3"/>
<rect x="89" y="489" width="1" height="3"/>
<rect x="89" y="494" width="1" height="3"/>
<rect x="89" y="529" width="1" height="3"/>
<rect x="99" y="127" width="1" height="3"/>
<rect x="99" y="154" width="1" height="3"/>
<rect x="99" y="163" width="1" height="3"/>
<rect x="99" y="323" width="1" height="3"/>
<rect x="99" y="329" width="1" height="3"/>
<rect x="99" y="489" width="1" height="3"/>
<rect x="99" y="494" width="1" height="3"/>
<rect x="99" y="529" width="1" height="3"/>
<rect x="110" y="127" width="1" height="3"/>
<rect x="110" y="154" width="1" height="3"/>
<rect x="110" y="163" width="1" height="3"/>
<rect x="110" y="323" width="1" height="3"/>
<rect x="110" y="329" width="1" height="3"/>
<rect x="110" y="489" width="1" height="3"/>
<rect x="110" y="494" width="1" height="3"/>
<rect x="110" y="529" width="1" height="3"/>
<rect x="120" y="127" width="1" height="3"/>
<rect x="120" y="154" width="1" height="3"/>
<rect x="120" y="163" width="1" height="3"/>
<rect x="120" y="323" width="1" height="3"/>
<rect x="120" y="329" width="1" height="3"/>
<rect x="120" y="489" width="1" height="3"/>
<rect x="120" y="494" width="1" height="3"/>
<rect x="120" y="529" width="1" height="3"/>
<rect x="131" y="127" width="1" height="3"/>
<rect x="131" y="154" width="1" height="3"/>
<rect x="131" y="163" width="1" height="3"/>
<rect x="131" y="323" width="1" height="3"/>
<rect x="131" y="329" width="1" height="3"/>
<rect x="131" y="489" width="1" height="3"/>
<rect x="131" y="494" width="1" height="3"/>
<rect x="131" y="529" width="1" height="3"/>
<rect x="141" y="127" width="1" height="9"/>
<rect x="141" y="148" width="1" height="9"/>
<rect x="141" y="157" width="1" height="9"/>
<rect x="141" y="323" width="1" height="9"/>
<rect x="141" y="489" width="1" height="9"/>
<rect x="141" y="529" width="1" height="11"/>
<rect x="151" y="127" width="1" height="3"/>
<rect x="151" y="154" width="1" height="3"/>
<rect x="151" y="163" width="1" height="3"/>
<rect x="151" y="323" width="1" height="3"/>
<rect x="151" y="329" width="1" height="3"/>
<rect x="151" y="489" width="1" height="3"/>
<rect x="151" y="494" width="1" height="3"/>
<rect x="151" y="529" width="1" height="3"/>
<rect x="162" y="127" width="1" height="3"/>
<rect x="162" y="154" width="1" height="3"/>
<rect x="162" y="163" width="1" height="3"/>
<rect x="162" y="323" width="1" height="3"/>
<rect x="162" y="329" width="1" height="3"/>
<rect x="162" y="489" width="1" height="3"/>
<rect x="162" y="494" width="1" height="3"/>
<rect x="162" y="529" width="1" height="3"/>
<rect x="172" y="127" width="1" height="3"/>
<rect x="172" y="154" width="1" height="3"/>
<rect x="172" y="163" width="1" height="3"/>
<rect x="172" y="323" width="1" height="3"/>
<rect x="172" y="329" width="1" height="3"/>
<rect x="172" y="489" width="1" height="3"/>
<rect x="172" y="494" width="1" height="3"/>
<rect x="172" y="529" width="1" height="3"/>
<rect x="183" y="127" width="1" height="3"/>
<rect x="183" y="154" width="1" height="3"/>
<rect x="183" y="163" width="1" height="3"/>
<rect x="183" y="323" width="1" height="3"/>
<rect x="183" y="329" width="1" height="3"/>
<rect x="183" y="489" width="1" height="3"/>
<rect x="183" y="494" width="1" height="3"/>
<rect x="183" y="529" width="1" height="3"/>
<rect x="193" y="127" width="1" height="3"/>
<rect x="193" y="154" width="1" height="3"/>
<rect x="193" y="163" width="1" height="3"/>
<rect x="193" y="323" width="1" height="3"/>
<rect x="193" y="329" width="1" height="3"/>
<rect x="193" y="489" width="1" height="3"/>
<rect x="193" y="494" width="1" height="3"/>
<rect x="193" y="529" width="1" height="3"/>
<rect x="203" y="127" width="1" height="9"/>
<rect x="203" y="148" width="1" height="9"/>
<rect x="203" y="157" width="1" height="9"/>
<rect x="203" y="323" width="1" height="9"/>
<rect x="203" y="489" width="1" height="9"/>
<rect x="203" y="529" width="1" height="11"/>
<rect x="214" y="127" width="1" height="3"/>
<rect x="214" y="154" width="1" height="3"/>
<rect x="214" y="163" width="1" height="3"/>
<rect x="214" y="323" width="1" height="3"/>
<rect x="214" y="329" width="1" height="3"/>
<rect x="214" y="489" width="1" height="3"/>
<rect x="214" y="494" width="1" height="3"/>
<rect x="214" y="529" width="1" height="3"/>
<rect x="224" y="127" width="1" height="3"/>
<rect x="224" y="154" width="1" height="3"/>
<rect x="224" y="163" width="1" height="3"/>
<rect x="224" y="323" width="1" height="3"/>
<rect x="224" y="329" width="1" height="3"/>
<rect x="224" y="489" width="1" height="3"/>
<rect x="224" y="494" width="1" height="3"/>
<rect x="224" y="529" width="1" height="3"/>
<rect x="235" y="127" width="1" height="3"/>
<rect x="235" y="154" width="1" height="3"/>
<rect x="235" y="163" width="1" height="3"/>
<rect x="235" y="323" width="1" height="3"/>
<rect x="235" y="329" width="1" height="3"/>
<rect x="235" y="489" width="1" height="3"/>
<rect x="235" y="494" width="1" height="3"/>
<rect x="235" y="529" width="1" height="3"/>
<rect x="245" y="127" width="1" height="3"/>
<rect x="245" y="154" width="1" height="3"/>
<rect x="245" y="163" width="1" height="3"/>
<rect x="245" y="323" width="1" height="3"/>
<rect x="245" y="329" width="1" height="3"/>
<rect x="245" y="489" width="1" height="3"/>
<rect x="245" y="494" width="1" height="3"/>
<rect x="245" y="529" width="1" height="3"/>
<rect x="255" y="127" width="1" height="3"/>
<rect x="255" y="154" width="1" height="3"/>
<rect x="255" y="163" width="1" height="3"/>
<rect x="255" y="323" width="1" height="3"/>
<rect x="255" y="329" width="1" height="3"/>
<rect x="255" y="489" width="1" height="3"/>
<rect x="255" y="494" width="1" height="3"/>
<rect x="255" y="529" width="1" height="3"/>
<rect x="266" y="127" width="1" height="9"/>
<rect x="266" y="148" width="1" height="9"/>
<rect x="266" y="157" width="1" height="9"/>
<rect x="266" y="323" width="1" height="9"/>
<rect x="266" y="489" width="1" height="9"/>
<rect x="266" y="529" width="1" height="11"/>
<rect x="276" y="127" width="1" height="3"/>
<rect x="276" y="154" width="1" height="3"/>
<rect x="276" y="163" width="1" height="3"/>
<rect x="276" y="323" width="1" height="3"/>
<rect x="276" y="329" width="1" height="3"/>
<rect x="276" y="489" width="1" height="3"/>
<rect x="276" y="494" width="1" height="3"/>
<rect x="276" y="529" width="1" height="3"/>
<rect x="287" y="127" width="1" height="3"/>
<rect x="287" y="154" width="1" height="3"/>
<rect x="287" y="163" width="1" height="3"/>
<rect x="287" y="323" width="1" height="3"/>
<rect x="287" y="329" width="1" height="3"/>
<rect x="287" y="489" width="1" height="3"/>
<rect x="287" y="494" width="1" height="3"/>
<rect x="287" y="529" width="1" height="3"/>
<rect x="297" y="127" width="1" height="3"/>
<rect x="297" y="154" width="1" height="3"/>
<rect x="297" y="163" width="1" height="3"/>
<rect x="297" y="323" width="1" height="3"/>
<rect x="297" y="329" width="1" height="3"/>
<rect x="297" y="489" width="1" height="3"/>
<rect x="297" y="494" width="1" height="3"/>
<rect x="297" y="529" width="1" height="3"/>
<rect x="307" y="127" width="1" height="3"/>
<rect x="307" y="154" width="1" height="3"/>
<rect x="307" y="163" width="1" height="3"/>
<rect x="307" y="323" width="1" height="3"/>
<rect x="307" y="329" width="1" height="3"/>
<rect x="307" y="489" width="1" height="3"/>
<rect x="307" y="494" width="1" height="3"/>
<rect x="307" y="529" width="1" height="3"/>
<rect x="318" y="127" width="1" height="3"/>
<rect x="318" y="154" width="1" height="3"/>
<rect x="318" y="163" width="1" height="3"/>
<rect x="318" y="323" width="1" height="3"/>
<rect x="318" y="329" width="1" height="3"/>
<rect x="318" y="489" width="1" height="3"/>
<rect x="318" y="494" width="1" height="3"/>
<rect x="318" y="529" width="1" height="3"/>
<rect x="328" y="127" width="1" height="9"/>
<rect x="328" y="148" width="1" height="9"/>
<rect x="328" y="157" width="1" height="9"/>
<rect x="328" y="323" width="1" height="9"/>
<rect x="328" y="489" width="1" height="9"/>
<rect x="328" y="529" width="1" height="11"/>
<rect x="339" y="127" width="1" height="3"/>
<rect x="339" y="154" width="1" height="3"/>
<rect x="339" y="163" width="1" height="3"/>
<rect x="339" y="323" width="1" height="3"/>
<rect x="339" y="329" width="1" height="3"/>
<rect x="339" y="489" width="1" height="3"/>
<rect x="339" y="494" width="1" height="3"/>
<rect x="339" y="529" width="1" height="3"/>
<rect x="349" y="127" width="1" height="3"/>
<rect x="349" y="154" width="1" height="3"/>
<rect x="349" y="163" width="1" height="3"/>
<rect x="349" y="323" width="1" height="3"/>
<rect x="349" y="329" width="1" height="3"/>
<rect x="349" y="489" width="1" height="3"/>
<rect x="349" y="494" width="1" height="3"/>
<rect x="349" y="529" width="1" height="3"/>
<rect x="359" y="127" width="1" height="3"/>
<rect x="359" y="154" width="1" height="3"/>
<rect x="359" y="163" width="1" height="3"/>
<rect x="359" y="323" width="1" height="3"/>
<rect x="359" y="329" width="1" height="3"/>
<rect x="359" y="489" width="1" height="3"/>
<rect x="359" y="494" width="1" height="3"/>
<rect x="359" y="529" width="1" height="3"/>
<rect x="370" y="127" width="1" height="3"/>
<rect x="370" y="154" width="1" height="3"/>
<rect x="370" y="163" width="1" height="3"/>
<rect x="370" y="323" width="1" height="3"/>
<rect x="370" y="329" width="1" height="3"/>
<rect x="370" y="489" width="1" height="3"/>
<rect x="370" y="494" width="1" height="3"/>
<rect x="370" y="529" width="1" height="3"/>
<rect x="380" y="127" width="1" height="3"/>
<rect x="380" y="154" width="1" height="3"/>
<rect x="380" y="163" width="1" height="3"/>
<rect x="380" y="323" width="1" height="3"/>
<rect x="380" y="329" width="1" height="3"/>
<rect x="380" y="489" width="1" height="3"/>
<rect x="380" y="494" width="1" height="3"/>
<rect x="380" y="529" width="1" height="3"/>
<rect x="391" y="127" width="1" height="9"/>
<rect x="391" y="148" width="1" height="9"/>
<rect x="391" y="157" width="1" height="9"/>
<rect x="391" y="323" width="1" height="9"/>
<rect x="391" y="489" width="1" height="9"/>
<rect x="391" y="529" width="1" height="11"/>
<rect x="401" y="127" width="1" height="3"/>
<rect x="401" y="154" width="1" height="3"/>
<rect x="401" y="163" width="1" height="3"/>
<rect x="401" y="323" width="1" height="3"/>
<rect x="401" y="329" width="1" height="3"/>
<rect x="401" y="489" width="1" height="3"/>
<rect x="401" y="494" width="1" height="3"/>
<rect x="401" y="529" width="1" height="3"/>
<rect x="411" y="127" width="1" height="3"/>
<rect x="411" y="154" width="1" height="3"/>
<rect x="411" y="163" width="1" height="3"/>
<rect x="411" y="323" width="1" height="3"/>
<rect x="411" y="329" width="1" height="3"/>
<rect x="411" y="489" width="1" height="3"/>
<rect x="411" y="494" width="1" height="3"/>
<rect x="411" y="529" width="1" height="3"/>
<rect x="422" y="127" width="1" height="3"/>
<rect x="422" y="154" width="1" height="3"/>
<rect x="422" y="163" width="1" height="3"/>
<rect x="422" y="323" width="1" height="3"/>
<rect x="422" y="329" width="1" height="3"/>
<rect x="422" y="489" width="1" height="3"/>
<rect x="422" y="494" width="1" height="3"/>
<rect x="422" y="529" width="1" height="3"/>
<rect x="432" y="127" width="1" height="3"/>
<rect x="432" y="154" width="1" height="3"/>
<rect x="432" y="163" width="1" height="3"/>
<rect x="432" y="323" width="1" height="3"/>
<rect x="432" y="329" width="1" height="3"/>
<rect x="432" y="489" width="1" height="3"/>
<rect x="432" y="494" width="1" height="3"/>
<rect x="432" y="529" width="1" height="3"/>
<rect x="443" y="127" width="1" height="3"/>
<rect x="443" y="154" width="1" height="3"/>
<rect x="443" y="163" width="1" height="3"/>
<rect x="443" y="323" width="1" height="3"/>
<rect x="443" y="329" width="1" height="3"/>
<rect x="443" y="489" width="1" height="3"/>
<rect x="443" y="494" width="1" height="3"/>
<rect x="443" y="529" width="1" height="3"/>
<rect x="453" y="127" width="1" height="9"/>
<rect x="453" y="148" width="1" height="9"/>
<rect x="453" y="157" width="1" height="9"/>
<rect x="453" y="323" width="1" height="9"/>
<rect x="453" y="489" width="1" height="9"/>
<rect x="453" y="529" width="1" height="11"/>
<rect x="463" y="127" width="1" height="3"/>
<rect x="463" y="154" width="1" height="3"/>
<rect x="463" y="163" width="1" height="3"/>
<rect x="463" y="323" width="1" height="3"/>
<rect x="463" y="329" width="1" height="3"/>
<rect x="463" y="489" width="1" height="3"/>
<rect x="463" y="494" width="1" height="3"/>
<rect x="463" y="529" width="1" height="3"/>
<rect x="474" y="127" width="1" height="3"/>
<rect x="474" y="154" width="1" height="3"/>
<rect x="474" y="163" width="1" height="3"/>
<rect x="474" y="323" width="1" height="3"/>
<rect x="474" y="329" width="1" height="3"/>
<rect x="474" y="489" width="1" height="3"/>
<rect x="474" y="494" width="1" height="3"/>
<rect x="474" y="529" width="1" height="3"/>
<rect x="484" y="127" width="1" height="3"/>
<rect x="484" y="154" width="1" height="3"/>
<rect x="484" y="163" width="1" height="3"/>
<rect x="484" y="323" width="1" height="3"/>
<rect x="484" y="329" width="1" height="3"/>
<rect x="484" y="489" width="1" height="3"/>
<rect x="484" y="494" width="1" height="3"/>
<rect x="484" y="529" width="1" height="3"/>
<rect x="495" y="127" width="1" height="3"/>
<rect x="495" y="154" width="1" height="3"/>
<rect x="495" y="163" width="1" height="3"/>
<rect x="495" y="323" width="1" height="3"/>
<rect x="495" y="329" width="1" height="3"/>
<rect x="495" y="489" width="1" height="3"/>
<rect x="495" y="494" width="1" height="3"/>
<rect x="495" y="529" width="1" height="3"/>
<rect x="505" y="127" width="1" height="3"/>
<rect x="505" y="154" width="1" height="3"/>
<rect x="505" y="163" width="1" height="3"/>
<rect x="505" y="323" width="1" height="3"/>
<rect x="505" y="329" width="1" height="3"/>
<rect x="505" y="489" width="1" height="3"/>
<rect x="505" y="494" width="1" height="3"/>
<rect x="505" y="529" width="1" height="3"/>
<rect x="515" y="127" width="1" height="9"/>
<rect x="515" y="148" width="1" height="9"/>
<rect x="515" y="157" width="1" height="9"/>
<rect x="515" y="323" width="1" height="9"/>
<rect x="515" y="489" width="1" height="9"/>
<rect x="515" y="529" width="1" height="11"/>
<rect x="526" y="127" width="1" height="3"/>
<rect x="526" y="154" width="1" height="3"/>
<rect x="526" y="163" width="1" height="3"/>
<rect x="526" y="323" width="1" height="3"/>
<rect x="526" y="329" width="1" height="3"/>
<rect x="526" y="489" width="1" height="3"/>
<rect x="526" y="494" width="1" height="3"/>
<rect x="526" y="529" width="1" height="3"/>
<rect x="536" y="127" width="1" height="3"/>
<rect x="536" y="154" width="1" height="3"/>
<rect x="536" y="163" width="1" height="3"/>
<rect x="536" y="323" width="1" height="3"/>
<rect x="536" y="329" width="1" height="3"/>
<rect x="536" y="489" width="1" height="3"/>
<rect x="536" y="494" width="1" height="3"/>
<rect x="536" y="529" width="1" height="3"/>
<rect x="547" y="127" width="1" height="3"/>
<rect x="547" y="154" width="1" height="3"/>
<rect x="547" y="163" width="1" height="3"/>
<rect x="547" y="323" width="1" height="3"/>
<rect x="547" y="329" width="1" height="3"/>
<rect x="547" y="489" width="1" height="3"/>
<rect x="547" y="494" width="1" height="3"/>
<rect x="547" y="529" width="1" height="3"/>
<rect x="557" y="127" width="1" height="3"/>
<rect x="557" y="154" width="1" height="3"/>
<rect x="557" y="163" width="1" height="3"/>
<rect x="557" y="323" width="1" height="3"/>
<rect x="557" y="329" width="1" height="3"/>
<rect x="557" y="489" width="1" height="3"/>
<rect x="557" y="494" width="1" height="3"/>
<rect x="557" y="529" width="1" height="3"/>
<rect x="567" y="127" width="1" height="3"/>
<rect x="567" y="154" width="1" height="3"/>
<rect x="567" y="163" width="1" height="3"/>
<rect x="567" y="323" width="1" height="3"/>
<rect x="567" y="329" width="1" height="3"/>
<rect x="567" y="489" width="1" height="3"/>
<rect x="567" y="494" width="1" height="3"/>
<rect x="567" y="529" width="1" height="3"/>
<rect x="578" y="127" width="1" height="9"/>
<rect x="578" y="148" width="1" height="9"/>
<rect x="578" y="157" width="1" height="9"/>
<rect x="578" y="323" width="1" height="9"/>
<rect x="578" y="489" width="1" height="9"/>
<rect x="578" y="529" width="1" height="11"/>
<rect x="588" y="127" width="1" height="3"/>
<rect x="588" y="154" width="1" height="3"/>
<rect x="588" y="163" width="1" height="3"/>
<rect x="588" y="323" width="1" height="3"/>
<rect x="588" y="329" width="1" height="3"/>
<rect x="588" y="489" width="1" height="3"/>
<rect x="588" y="494" width="1" height="3"/>
<rect x="588" y="529" width="1" height="3"/>
<rect x="599" y="127" width="1" height="3"/>
<rect x="599" y="154" width="1" height="3"/>
<rect x="599" y="163" width="1" height="3"/>
<rect x="599" y="323" width="1" height="3"/>
<rect x="599" y="329" width="1" height="3"/>
<rect x="599" y="489" width="1" height="3"/>
<rect x="599" y="494" width="1" height="3"/>
<rect x="599" y="529" width="1" height="3"/>
<rect x="609" y="127" width="1" height="3"/>
<rect x="609" y="154" width="1" height="3"/>
<rect x="609" y="163" width="1" height="3"/>
<rect x="609" y="323" width="1" height="3"/>
<rect x="609" y="329" width="1" height="3"/>
<rect x="609" y="489" width="1" height="3"/>
<rect x="609" y="494" width="1" height="3"/>
<rect x="609" y="529" width="1" height="3"/>
<rect x="619" y="127" width="1" height="3"/>
<rect x="619" y="154" width="1" height="3"/>
<rect x="619" y="163" width="1" height="3"/>
<rect x="619" y="323" width="1" height="3"/>
<rect x="619" y="329" width="1" height="3"/>
<rect x="619" y="489" width="1" height="3"/>
<rect x="619" y="494" width="1" height="3"/>
<rect x="619" y="529" width="1" height="3"/>
<rect x="630" y="127" width="1" height="3"/>
<rect x="630" y="154" width="1" height="3"/>
<rect x="630" y="163" width="1" height="3"/>
<rect x="630" y="323" width="1" height="3"/>
<rect x="630" y="329" width="1" height="3"/>
<rect x="630" y="489" width="1" height="3"/>
<rect x="630" y="494" width="1" height="3"/>
<rect x="630" y="529" width="1" height="3"/>
<rect x="640" y="127" width="1" height="9"/>
<rect x="640" y="148" width="1" height="9"/>
<rect x="640" y="157" width="1" height="9"/>
<rect x="640" y="323" width="1" height="9"/>
<rect x="640" y="489" width="1" height="9"/>
<rect x="640" y="529" width="1" height="11"/>
<rect x="651" y="127" width="1" height="3"/>
<rect x="651" y="154" width="1" height="3"/>
<rect x="651" y="163" width="1" height="3"/>
<rect x="651" y="323" width="1" height="3"/>
<rect x="651" y="329" width="1" height="3"/>
<rect x="651" y="489" width="1" height="3"/>
<rect x="651" y="494" width="1" height="3"/>
<rect x="651" y="529" width="1" height="3"/>
<rect x="661" y="127" width="1" height="3"/>
<rect x="661" y="154" width="1" height="3"/>
<rect x="661" y="163" width="1" height="3"/>
<rect x="661" y="323" width="1" height="3"/>
<rect x="661" y="329" width="1" height="3"/>
<rect x="661" y="489" width="1" height="3"/>
<rect x="661" y="494" width="1" height="3"/>
<rect x="661" y="529" width="1" height="3"/>
<rect x="671" y="127" width="1" height="3"/>
<rect x="671" y="154" width="1" height="3"/>
<rect x="671" y="163" width="1" height="3"/>
<rect x="671" y="323" width="1" height="3"/>
<rect x="671" y="329" width="1" height="3"/>
<rect x="671" y="489" width="1" height="3"/>
<rect x="671" y="494" width="1" height="3"/>
<rect x="671" y="529" width="1" height="3"/>
<rect x="682" y="127" width="1" height="3"/>
<rect x="682" y="154" width="1" height="3"/>
<rect x="682" y="163" width="1" height="3"/>
<rect x="682" y="323" width="1" height="3"/>
<rect x="682" y="329" width="1" height="3"/>
<rect x="682" y="489" width="1" height="3"/>
<rect x="682" y="494" width="1" height="3"/>
<rect x="682" y="529" width="1" height="3"/>
<rect x="692" y="127" width="1" height="3"/>
<rect x="692" y="154" width="1" height="3"/>
<rect x="692" y="163" width="1" height="3"/>
<rect x="692" y="323" width="1" height="3"/>
<rect x="692" y="329" width="1" height="3"/>
<rect x="692" y="489" width="1" height="3"/>
<rect x="692" y="494" width="1" height="3"/>
<rect x="692" y="529" width="1" height="3"/>
<rect x="703" y="127" width="1" height="9"/>
<rect x="703" y="148" width="1" height="9"/>
<rect x="703" y="157" width="1" height="9"/>
<rect x="703" y="323" width="1" height="9"/>
<rect x="703" y="489" width="1" height="9"/>
<rect x="703" y="529" width="1" height="11"/>
<rect x="74" y="126" width="5" height="1"/>
<rect x="704" y="126" width="5" height="1"/>
<rect x="74" y="157" width="5" height="1"/>
<rect x="704" y="157" width="5" height="1"/>
<rect x="74" y="497" width="5" height="1"/>
<rect x="704" y="497" width="5" height="1"/>
<rect x="74" y="528" width="5" height="1"/>
<rect x="704" y="528" width="5" height="1"/>
<rect x="77" y="134" width="2" height="1"/>
<rect x="704" y="134" width="1" height="1"/>
<rect x="77" y="142" width="2" height="1"/>
<rect x="704" y="142" width="1" height="1"/>
<rect x="77" y="149" width="2" height="1"/>
<rect x="704" y="149" width="1" height="1"/>
<rect x="77" y="505" width="2" height="1"/>
<rect x="704" y="505" width="1" height="1"/>
<rect x="77" y="513" width="2" height="1"/>
<rect x="704" y="513" width="1" height="1"/>
<rect x="77" y="520" width="2" height="1"/>
<rect x="704" y="520" width="1" height="1"/>
<rect x="74" y="166" width="5" height="1"/>
<rect x="704" y="166" width="5" height="1"/>
<rect x="77" y="174" width="2" height="1"/>
<rect x="704" y="174" width="1" height="1"/>
<rect x="77" y="182" width="2" height="1"/>
<rect x="704" y="182" width="1" height="1"/>
<rect x="77" y="190" width="2" height="1"/>
<rect x="704" y="190" width="1" height="1"/>
<rect x="74" y="198" width="5" height="1"/>
<rect x="704" y="198" width="5" height="1"/>
<rect x="77" y="205" width="2" height="1"/>
<rect x="704" y="205" width="1" height="1"/>
<rect x="77" y="213" width="2" height="1"/>
<rect x="704" y="213" width="1" height="1"/>
<rect x="77" y="221" width="2" height="1"/>
<rect x="704" y="221" width="1" height="1"/>
<rect x="74" y="229" width="5" height="1"/>
<rect x="704" y="229" width="5" height="1"/>
<rect x="77" y="237" width="2" height="1"/>
<rect x="704" y="237" width="1" height="1"/>
<rect x="77" y="244" width="2" height="1"/>
<rect x="704" y="244" width="1" height="1"/>
<rect x="77" y="252" width="2" height="1"/>
<rect x="704" y="252" width="1" height="1"/>
<rect x="74" y="260" width="5" height="1"/>
<rect x="704" y="260" width="5" height="1"/>
<rect x="77" y="268" width="2" height="1"/>
<rect x="704" y="268" width="1" height="1"/>
<rect x="77" y="276" width="2" height="1"/>
<rect x="704" y="276" width="1" height="1"/>
<rect x="77" y="283" width="2" height="1"/>
<rect x="704" y="283" width="1" height="1"/>
<rect x="74" y="291" width="5" height="1"/>
<rect x="704" y="291" width="5" height="1"/>
<rect x="77" y="299" width="2" height="1"/>
<rect x="704" y="299" width="1" height="1"/>
<rect x="77" y="307" width="2" height="1"/>
<rect x="704" y="307" width="1" height="1"/>
<rect x="77" y="315" width="2" height="1"/>
<rect x="704" y="315" width="1" height="1"/>
<rect x="74" y="322" width="5" height="1"/>
<rect x="704" y="322" width="5" height="1"/>
<rect x="74" y="332" width="5" height="1"/>
<rect x="704" y="332" width="5" height="1"/>
<rect x="77" y="340" width="2" height="1"/>
<rect x="704" y="340" width="1" height="1"/>
<rect x="77" y="347" width="2" height="1"/>
<rect x="704" y="347" width="1" height="1"/>
<rect x="77" y="355" width="2" height="1"/>
<rect x="704" y="355" width="1" height="1"/>
<rect x="74" y="363" width="5" height="1"/>
<rect x="704" y="363" width="5" height="1"/>
<rect x="77" y="371" width="2" height="1"/>
<rect x="704" y="371" width="1" height="1"/>
<rect x="77" y="379" width="2" height="1"/>
<rect x="704" y="379" width="1" height="1"/>
<rect x="77" y="386" width="2" height="1"/>
<rect x="704" y="386" width="1" height="1"/>
<rect x="74" y="394" width="5" height="1"/>
<rect x="704" y="394" width="5" height="1"/>
<rect x="77" y="402" width="2" height="1"/>
<rect x="704" y="402" width="1" height="1"/>
<rect x="77" y="410" width="2" height="1"/>
<rect x="704" y="410" width="1" height="1"/>
<rect x="77" y="418" width="2" height="1"/>
<rect x="704" y="418" width="1" height="1"/>
<rect x="74" y="425" width="5" height="1"/>
<rect x="704" y="425" width="5" height="1"/>
<rect x="77" y="433" width="2" height="1"/>
<rect x="704" y="433" width="1" height="1"/>
<rect x="77" y="441" width="2" height="1"/>
<rect x="704" y="441" width="1" height="1"/>
<rect x="77" y="449" width="2" height="1"/>
<rect x="704" y="449" width="1" height="1"/>
<rect x="74" y="457" width="5" height="1"/>
<rect x="704" y="457" width="5" height="1"/>
<rect x="77" y="464" width="2" height="1"/>
<rect x="704" y="464" width="1" height="1"/>
<rect x="77" y="472" width="2" height="1"/>
<rect x="704" y="472" width="1" height="1"/>
<rect x="77" y="480" width="2" height="1"/>
<rect x="704" y="480" width="1" height="1"/>
<rect x="74" y="488" width="5" height="1"/>
<rect x="704" y="488" width="5" height="1"/>
<rect x="79" y="140" width="614" height="4"/>
<rect x="80" y="139" width="1" height="1"/>
<rect x="84" y="139" width="1" height="1"/>
<rect x="86" y="139" width="1" height="1"/>
<rect x="89" y="139" width="1" height="1"/>
<rect x="93" y="139" width="7" height="1"/>
<rect x="111" y="139" width="2" height="1"/>
<rect x="114" y="139" width="7" height="1"/>
<rect x="122" y="139" width="1" height="1"/>
<rect x="124" y="139" width="18" height="1"/>
<rect x="150" y="139" width="2" height="1"/>
<rect x="155" y="139" width="1" height="1"/>
<rect x="158" y="139" width="3" height="1"/>
<rect x="163" y="139" width="1" height="1"/>
<rect x="165" y="139" width="1" height="1"/>
<rect x="167" y="139" width="1" height="1"/>
<rect x="170" y="139" width="1" height="1"/>
<rect x="176" y="139" width="6" height="1"/>
<rect x="185" y="139" width="2" height="1"/>
<rect x="188" y="139" width="2" height="1"/>
<rect x="192" y="139" width="4" height="1"/>
<rect x="197" y="139" width="8" height="1"/>
<rect x="207" y="139" width="1" height="1"/>
<rect x="209" y="139" width="1" height="1"/>
<rect x="211" y="139" width="1" height="1"/>
<rect x="214" y="139" width="1" height="1"/>
<rect x="220" y="139" width="2" height="1"/>
<rect x="225" y="139" width="1" height="1"/>
<rect x="227" y="139" width="1" height="1"/>
<rect x="229" y="139" width="8" height="1"/>
<rect x="238" y="139" width="6" height="1"/>
<rect x="245" y="139" width="1" height="1"/>
<rect x="247" y="139" width="2" height="1"/>
<rect x="250" y="139" width="2" height="1"/>
<rect x="253" y="139" width="9" height="1"/>
<rect x="263" y="139" width="1" height="1"/>
<rect x="268" y="139" width="6" height="1"/>
<rect x="276" y="139" width="1" height="1"/>
<rect x="278" y="139" width="6" height="1"/>
<rect x="286" y="139" width="12" height="1"/>
<rect x="299" y="139" width="3" height="1"/>
<rect x="305" y="139" width="2" height="1"/>
<rect x="308" y="139" width="1" height="1"/>
<rect x="310" y="139" width="5" height="1"/>
<rect x="317" y="139" width="2" height="1"/>
<rect x="320" y="139" width="1" height="1"/>
<rect x="322" y="139" width="6" height="1"/>
<rect x="329" y="139" width="1" height="1"/>
<rect x="334" y="139" width="6" height="1"/>
<rect x="349" y="139" width="2" height="1"/>
<rect x="354" y="139" width="1" height="1"/>
<rect x="356" y="139" width="2" height="1"/>
<rect x="359" y="139" width="3" height="1"/>
<rect x="364" y="139" width="2" height="1"/>
<rect x="367" y="139" width="1" height="1"/>
<rect x="369" y="139" width="1" height="1"/>
<rect x="371" y="139" width="5" height="1"/>
<rect x="377" y="139" width="1" height="1"/>
<rect x="380" y="139" width="1" height="1"/>
<rect x="387" y="139" width="2" height="1"/>
<rect x="390" y="139" width="1" height="1"/>
<rect x="398" y="139" width="1" height="1"/>
<rect x="404" y="139" width="5" height="1"/>
<rect x="418" y="139" width="1" height="1"/>
<rect x="420" y="139" width="2" height="1"/>
<rect x="424" y="139" width="1" height="1"/>
<rect x="426" y="139" width="1" height="1"/>
<rect x="428" y="139" width="2" height="1"/>
<rect x="431" y="139" width="8" height="1"/>
<rect x="440" y="139" width="2" height="1"/>
<rect x="445" y="139" width="1" height="1"/>
<rect x="447" y="139" width="5" height="1"/>
<rect x="453" y="139" width="1" height="1"/>
<rect x="457" y="139" width="10" height="1"/>
<rect x="468" y="139" width="1" height="1"/>
<rect x="471" y="139" width="1" height="1"/>
<rect x="474" y="139" width="4" height="1"/>
<rect x="479" y="139" width="2" height="1"/>
<rect x="488" y="139" width="6" height="1"/>
<rect x="496" y="139" width="4" height="1"/>
<rect x="501" y="139" width="3" height="1"/>
<rect x="507" y="139" width="1" height="1"/>
<rect x="511" y="139" width="1" height="1"/>
<rect x="513" y="139" width="2" height="1"/>
<rect x="519" y="139" width="2" height="1"/>
<rect x="522" y="139" width="1" height="1"/>
<rect x="532" y="139" width="1" height="1"/>
<rect x="544" y="139" width="1" height="1"/>
<rect x="546" y="139" width="3" height="1"/>
<rect x="558" y="139" width="1" height="1"/>
<rect x="570" y="139" width="11" height="1"/>
<rect x="582" y="139" width="1" height="1"/>
<rect x="590" y="139" width="1" height="1"/>
<rect x="592" y="139" width="3" height="1"/>
<rect x="598" y="139" width="4" height="1"/>
<rect x="605" y="139" width="1" height="1"/>
<rect x="607" y="139" width="2" height="1"/>
<rect x="610" y="139" width="2" height="1"/>
<rect x="613" y="139" width="3" height="1"/>
<rect x="617" y="139" width="35" height="1"/>
<rect x="658" y="139" width="3" height="1"/>
<rect x="666" y="139" width="1" height="1"/>
<rect x="672" y="139" width="1" height="1"/>
<rect x="675" y="139" width="6" height="1"/>
<rect x="692" y="139" width="1" height="1"/>
<rect x="82" y="144" width="1" height="1"/>
<rect x="84" y="144" width="1" height="1"/>
<rect x="88" y="144" width="5" height="1"/>
<rect x="94" y="144" width="6" height="1"/>
<rect x="102" y="144" width="1" height="1"/>
<rect x="104" y="144" width="1" height="1"/>
<rect x="110" y="144" width="1" height="1"/>
<rect x="114" y="144" width="3" height="1"/>
<rect x="118" y="144" width="4" height="1"/>
<rect x="123" y="144" width="21" height="1"/>
<rect x="155" y="144" width="2" height="1"/>
<rect x="159" y="144" width="3" height="1"/>
<rect x="163" y="144" width="1" height="1"/>
<rect x="165" y="144" width="1" height="1"/>
<rect x="167" y="144" width="2" height="1"/>
<rect x="173" y="144" width="1" height="1"/>
<rect x="177" y="144" width="1" height="1"/>
<rect x="179" y="144" width="2" height="1"/>
<rect x="183" y="144" width="8" height="1"/>
<rect x="197" y="144" width="9" height="1"/>
<rect x="207" y="144" width="1" height="1"/>
<rect x="209" y="144" width="2" height="1"/>
<rect x="212" y="144" width="2" height="1"/>
<rect x="219" y="144" width="4" height="1"/>
<rect x="225" y="144" width="8" height="1"/>
<rect x="234" y="144" width="3" height="1"/>
<rect x="239" y="144" width="3" height="1"/>
<rect x="243" y="144" width="1" height="1"/>
<rect x="245" y="144" width="1" height="1"/>
<rect x="247" y="144" width="2" height="1"/>
<rect x="251" y="144" width="1" height="1"/>
<rect x="253" y="144" width="18" height="1"/>
<rect x="272" y="144" width="3" height="1"/>
<rect x="276" y="144" width="26" height="1"/>
<rect x="305" y="144" width="1" height="1"/>
<rect x="310" y="144" width="4" height="1"/>
<rect x="317" y="144" width="3" height="1"/>
<rect x="321" y="144" width="6" height="1"/>
<rect x="328" y="144" width="1" height="1"/>
<rect x="330" y="144" width="1" height="1"/>
<rect x="336" y="144" width="1" height="1"/>
<rect x="338" y="144" width="3" height="1"/>
<rect x="351" y="144" width="1" height="1"/>
<rect x="353" y="144" width="10" height="1"/>
<rect x="364" y="144" width="2" height="1"/>
<rect x="370" y="144" width="2" height="1"/>
<rect x="373" y="144" width="4" height="1"/>
<rect x="383" y="144" width="1" height="1"/>
<rect x="386" y="144" width="4" height="1"/>
<rect x="404" y="144" width="1" height="1"/>
<rect x="406" y="144" width="1" height="1"/>
<rect x="416" y="144" width="1" height="1"/>
<rect x="419" y="144" width="3" height="1"/>
<rect x="429" y="144" width="1" height="1"/>
<rect x="432" y="144" width="11" height="1"/>
<rect x="447" y="144" width="7" height="1"/>
<rect x="458" y="144" width="12" height="1"/>
<rect x="471" y="144" width="11" height="1"/>
<rect x="483" y="144" width="1" height="1"/>
<rect x="485" y="144" width="1" height="1"/>
<rect x="487" y="144" width="7" height="1"/>
<rect x="495" y="144" width="2" height="1"/>
<rect x="499" y="144" width="1" height="1"/>
<rect x="501" y="144" width="4" height="1"/>
<rect x="506" y="144" width="1" height="1"/>
<rect x="508" y="144" width="1" height="1"/>
<rect x="513" y="144" width="1" height="1"/>
<rect x="515" y="144" width="1" height="1"/>
<rect x="518" y="144" width="6" height="1"/>
<rect x="527" y="144" width="5" height="1"/>
<rect x="540" y="144" width="1" height="1"/>
<rect x="545" y="144" width="5" height="1"/>
<rect x="558" y="144" width="1" height="1"/>
<rect x="570" y="144" width="13" height="1"/>
<rect x="587" y="144" width="1" height="1"/>
<rect x="589" y="144" width="5" height="1"/>
<rect x="595" y="144" width="2" height="1"/>
<rect x="599" y="144" width="2" height="1"/>
<rect x="603" y="144" width="2" height="1"/>
<rect x="606" y="144" width="2" height="1"/>
<rect x="609" y="144" width="2" height="1"/>
<rect x="614" y="144" width="2" height="1"/>
<rect x="617" y="144" width="35" height="1"/>
<rect x="654" y="144" width="1" height="1"/>
<rect x="658" y="144" width="1" height="1"/>
<rect x="662" y="144" width="1" height="1"/>
<rect x="664" y="144" width="1" height="1"/>
<rect x="667" y="144" width="2" height="1"/>
<rect x="672" y="144" width="1" height="1"/>
<rect x="674" y="144" width="8" height="1"/>
<rect x="689" y="144" width="1" height="1"/>
<rect x="692" y="144" width="1" height="1"/>
<rect x="114" y="138" width="1" height="1"/>
<rect x="130" y="138" width="1" height="1"/>
<rect x="136" y="138" width="1" height="1"/>
<rect x="138" y="138" width="2" height="1"/>
<rect x="199" y="138" width="1" height="1"/>
<rect x="229" y="138" width="1" height="1"/>
<rect x="268" y="138" width="1" height="1"/>
<rect x="282" y="138" width="1" height="1"/>
<rect x="290" y="138" width="1" height="1"/>
<rect x="310" y="138" width="1" height="1"/>
<rect x="406" y="138" width="1" height="1"/>
<rect x="435" y="138" width="1" height="1"/>
<rect x="479" y="138" width="1" height="1"/>
<rect x="592" y="138" width="1" height="1"/>
<rect x="617" y="138" width="1" height="1"/>
<rect x="114" y="145" width="1" height="1"/>
<rect x="124" y="145" width="1" height="1"/>
<rect x="128" y="145" width="1" height="1"/>
<rect x="130" y="145" width="2" height="1"/>
<rect x="134" y="145" width="1" height="1"/>
<rect x="188" y="145" width="2" height="1"/>
<rect x="201" y="145" width="1" height="1"/>
<rect x="230" y="145" width="1" height="1"/>
<rect x="241" y="145" width="1" height="1"/>
<rect x="254" y="145" width="1" height="1"/>
<rect x="256" y="145" width="1" height="1"/>
<rect x="287" y="145" width="2" height="1"/>
<rect x="291" y="145" width="1" height="1"/>
<rect x="324" y="145" width="1" height="1"/>
<rect x="434" y="145" width="1" height="1"/>
<rect x="458" y="145" width="1" height="1"/>
<rect x="462" y="145" width="1" height="1"/>
<rect x="465" y="145" width="1" height="1"/>
<rect x="490" y="145" width="2" height="1"/>
<rect x="578" y="145" width="1" height="1"/>
<rect x="617" y="145" width="1" height="1"/>
<rect x="623" y="145" width="1" height="1"/>
<rect x="626" y="145" width="1" height="1"/>
<rect x="650" y="145" width="1" height="1"/>
<rect x="79" y="513" width="614" height="1"/>
<rect x="728" y="201" width="1" height="110"/>
<rect x="728" y="201" width="5" height="1"/>
<rect x="728" y="228" width="5" height="1"/>
<rect x="728" y="256" width="5" height="1"/>
<rect x="728" y="283" width="5" height="1"/>
<rect x="728" y="310" width="5" height="1"/>
<rect x="719" y="310" width="9" height="1"/>
<rect x="728" y="367" width="1" height="110"/>
<rect x="728" y="367" width="5" height="1"/>
<rect x="728" y="394" width="5" height="1"/>
<rect x="728" y="422" width="5" height="1"/>
<rect x="728" y="449" width="5" height="1"/>
<rect x="728" y="476" width="5" height="1"/>
<rect x="719" y="476" width="9" height="1"/>
</g>
<rect x="719" y="201" width="9" height="109" fill="url(#cb)"/>
<rect x="719" y="367" width="9" height="109" fill="url(#cb)"/>
<text x="79.4" y="123.7" font-size="13" text-anchor="start" textLength="23.2" lengthAdjust="spacingAndGlyphs">VLF</text>
<text x="109.1" y="123.7" font-size="13" text-anchor="start" textLength="38.5" lengthAdjust="spacingAndGlyphs">Spectra</text>
<text x="251.4" y="122" font-size="8.5" text-anchor="start" textLength="13.6" lengthAdjust="spacingAndGlyphs">Feb.</text>
<text x="270.7" y="122" font-size="8.5" text-anchor="start" textLength="11.3" lengthAdjust="spacingAndGlyphs">28,</text>
<text x="287.7" y="122" font-size="8.5" text-anchor="start" textLength="20" lengthAdjust="spacingAndGlyphs">2018</text>
<text x="344" y="122" font-size="8.5" text-anchor="start" textLength="54.6" lengthAdjust="spacingAndGlyphs">station=HUS</text>
<text x="438.2" y="122" font-size="8.5" text-anchor="start" textLength="17" lengthAdjust="spacingAndGlyphs">start</text>
<text x="460.9" y="122" font-size="8.5" text-anchor="start" textLength="13.6" lengthAdjust="spacingAndGlyphs">UT</text>
<text x="479.5" y="122" font-size="8.5" text-anchor="start" textLength="4.5" lengthAdjust="spacingAndGlyphs">=</text>
<text x="493.9" y="122" font-size="8.5" text-anchor="start" xml:space="preserve" textLength="34.7" lengthAdjust="spacingAndGlyphs">14:30: 2</text>
<text x="70.6" y="129.6" font-size="9.5" text-anchor="end">5</text>
<text x="70.6" y="160.6" font-size="9.5" text-anchor="end">-5</text>
<text x="70.6" y="500.6" font-size="9.5" text-anchor="end">5</text>
<text x="70.6" y="531.6" font-size="9.5" text-anchor="end">-5</text>
<text x="70.6" y="169.6" font-size="9.5" text-anchor="end">10</text>
<text x="70.6" y="201.6" font-size="9.5" text-anchor="end">8</text>
<text x="70.6" y="232.6" font-size="9.5" text-anchor="end">6</text>
<text x="70.6" y="263.6" font-size="9.5" text-anchor="end">4</text>
<text x="70.6" y="294.6" font-size="9.5" text-anchor="end">2</text>
<text x="70.6" y="325.6" font-size="9.5" text-anchor="end">0</text>
<text x="70.6" y="335.6" font-size="9.5" text-anchor="end">10</text>
<text x="70.6" y="366.6" font-size="9.5" text-anchor="end">8</text>
<text x="70.6" y="397.6" font-size="9.5" text-anchor="end">6</text>
<text x="70.6" y="428.6" font-size="9.5" text-anchor="end">4</text>
<text x="70.6" y="460.6" font-size="9.5" text-anchor="end">2</text>
<text x="70.6" y="491.6" font-size="9.5" text-anchor="end">0</text>
<text x="79.5" y="549" font-size="9.5" text-anchor="middle">0</text>
<text x="141.9" y="549" font-size="9.5" text-anchor="middle">1</text>
<text x="204.3" y="549" font-size="9.5" text-anchor="middle">2</text>
<text x="266.7" y="549" font-size="9.5" text-anchor="middle">3</text>
<text x="329.1" y="549" font-size="9.5" text-anchor="middle">4</text>
<text x="391.5" y="549" font-size="9.5" text-anchor="middle">5</text>
<text x="453.9" y="549" font-size="9.5" text-anchor="middle">6</text>
<text x="516.3" y="549" font-size="9.5" text-anchor="middle">7</text>
<text x="578.7" y="549" font-size="9.5" text-anchor="middle">8</text>
<text x="641.1" y="549" font-size="9.5" text-anchor="middle">9</text>
<text x="703.5" y="549" font-size="9.5" text-anchor="middle">10</text>
<text x="400" y="558.5" font-size="9.5" text-anchor="middle" textLength="47.3" lengthAdjust="spacingAndGlyphs">Time (min)</text>
<text transform="translate(51,142) rotate(-90)" font-size="9.5" text-anchor="middle" textLength="31.5" lengthAdjust="spacingAndGlyphs">ch.1(V)</text>
<text transform="translate(51,513) rotate(-90)" font-size="9.5" text-anchor="middle" textLength="31.5" lengthAdjust="spacingAndGlyphs">ch.3(V)</text>
<text transform="translate(49.6,244) rotate(-90)" font-size="9.5" text-anchor="middle" textLength="17.5" lengthAdjust="spacingAndGlyphs">ch.1</text>
<text transform="translate(58.5,233.3) rotate(-90)" font-size="9.5" text-anchor="middle" textLength="72" lengthAdjust="spacingAndGlyphs">Frequency (kHz)</text>
<text transform="translate(49.6,410) rotate(-90)" font-size="9.5" text-anchor="middle" textLength="17.5" lengthAdjust="spacingAndGlyphs">ch.2</text>
<text transform="translate(58.5,399.3) rotate(-90)" font-size="9.5" text-anchor="middle" textLength="72" lengthAdjust="spacingAndGlyphs">Frequency (kHz)</text>
<text x="735" y="204.0" font-size="8" text-anchor="start">-3</text>
<text x="735" y="231.25" font-size="8" text-anchor="start">-4</text>
<text x="735" y="258.5" font-size="8" text-anchor="start">-5</text>
<text x="735" y="285.75" font-size="8" text-anchor="start">-6</text>
<text x="735" y="313.0" font-size="8" text-anchor="start">-7</text>
<text transform="translate(751,260) rotate(-90)" font-size="7" text-anchor="middle" textLength="53" lengthAdjust="spacingAndGlyphs">log(PSD)(V<tspan dy="-2.5" font-size="5">2</tspan><tspan dy="2.5">/Hz)</tspan></text>
<text x="735" y="370.0" font-size="8" text-anchor="start">-3</text>
<text x="735" y="397.25" font-size="8" text-anchor="start">-4</text>
<text x="735" y="424.5" font-size="8" text-anchor="start">-5</text>
<text x="735" y="451.75" font-size="8" text-anchor="start">-6</text>
<text x="735" y="479.0" font-size="8" text-anchor="start">-7</text>
<text transform="translate(751,426) rotate(-90)" font-size="7" text-anchor="middle" textLength="53" lengthAdjust="spacingAndGlyphs">log(PSD)(V<tspan dy="-2.5" font-size="5">2</tspan><tspan dy="2.5">/Hz)</tspan></text>
</svg>
</body></html>
